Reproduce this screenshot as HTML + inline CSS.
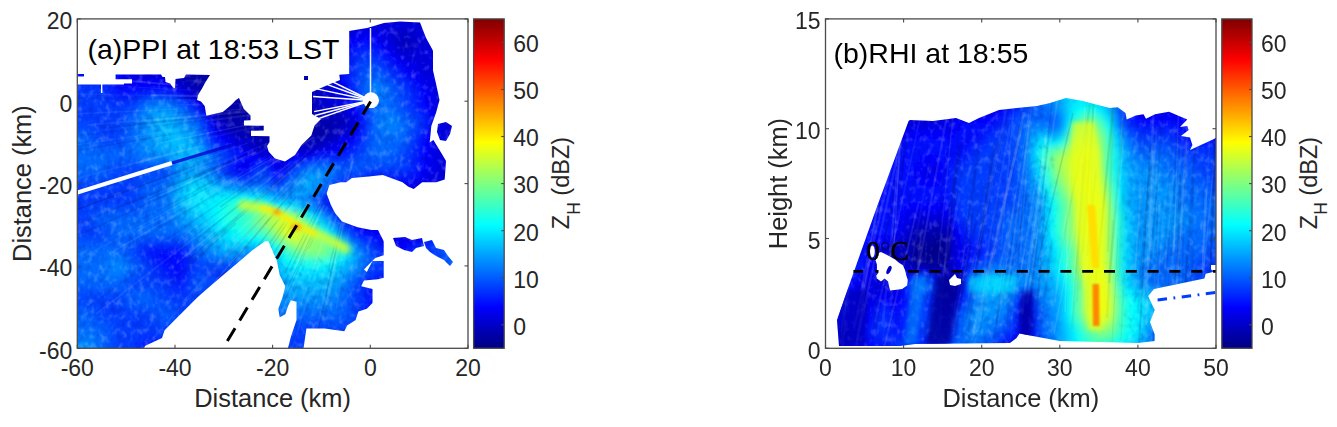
<!DOCTYPE html><html><head><meta charset="utf-8"><style>html,body{margin:0;padding:0;background:#fff;width:1337px;height:427px;overflow:hidden}svg{display:block}text{font-family:"Liberation Sans",sans-serif;fill:#262626}</style></head><body>
<svg width="1337" height="427" viewBox="0 0 1337 427">
<defs>
<linearGradient id="jet" x1="0" y1="1" x2="0" y2="0"><stop offset="0.0000" stop-color="#000080"/><stop offset="0.0156" stop-color="#00008f"/><stop offset="0.0312" stop-color="#00009f"/><stop offset="0.0469" stop-color="#0000af"/><stop offset="0.0625" stop-color="#0000bf"/><stop offset="0.0781" stop-color="#0000cf"/><stop offset="0.0938" stop-color="#0000df"/><stop offset="0.1094" stop-color="#0000ef"/><stop offset="0.1250" stop-color="#0000ff"/><stop offset="0.1406" stop-color="#0010ff"/><stop offset="0.1562" stop-color="#0020ff"/><stop offset="0.1719" stop-color="#0030ff"/><stop offset="0.1875" stop-color="#0040ff"/><stop offset="0.2031" stop-color="#0050ff"/><stop offset="0.2188" stop-color="#0060ff"/><stop offset="0.2344" stop-color="#0070ff"/><stop offset="0.2500" stop-color="#0080ff"/><stop offset="0.2656" stop-color="#008fff"/><stop offset="0.2812" stop-color="#009fff"/><stop offset="0.2969" stop-color="#00afff"/><stop offset="0.3125" stop-color="#00bfff"/><stop offset="0.3281" stop-color="#00cfff"/><stop offset="0.3438" stop-color="#00dfff"/><stop offset="0.3594" stop-color="#00efff"/><stop offset="0.3750" stop-color="#00ffff"/><stop offset="0.3906" stop-color="#10ffef"/><stop offset="0.4062" stop-color="#20ffdf"/><stop offset="0.4219" stop-color="#30ffcf"/><stop offset="0.4375" stop-color="#40ffbf"/><stop offset="0.4531" stop-color="#50ffaf"/><stop offset="0.4688" stop-color="#60ff9f"/><stop offset="0.4844" stop-color="#70ff8f"/><stop offset="0.5000" stop-color="#80ff80"/><stop offset="0.5156" stop-color="#8fff70"/><stop offset="0.5312" stop-color="#9fff60"/><stop offset="0.5469" stop-color="#afff50"/><stop offset="0.5625" stop-color="#bfff40"/><stop offset="0.5781" stop-color="#cfff30"/><stop offset="0.5938" stop-color="#dfff20"/><stop offset="0.6094" stop-color="#efff10"/><stop offset="0.6250" stop-color="#ffff00"/><stop offset="0.6406" stop-color="#ffef00"/><stop offset="0.6562" stop-color="#ffdf00"/><stop offset="0.6719" stop-color="#ffcf00"/><stop offset="0.6875" stop-color="#ffbf00"/><stop offset="0.7031" stop-color="#ffaf00"/><stop offset="0.7188" stop-color="#ff9f00"/><stop offset="0.7344" stop-color="#ff8f00"/><stop offset="0.7500" stop-color="#ff8000"/><stop offset="0.7656" stop-color="#ff7000"/><stop offset="0.7812" stop-color="#ff6000"/><stop offset="0.7969" stop-color="#ff5000"/><stop offset="0.8125" stop-color="#ff4000"/><stop offset="0.8281" stop-color="#ff3000"/><stop offset="0.8438" stop-color="#ff2000"/><stop offset="0.8594" stop-color="#ff1000"/><stop offset="0.8750" stop-color="#ff0000"/><stop offset="0.8906" stop-color="#ef0000"/><stop offset="0.9062" stop-color="#df0000"/><stop offset="0.9219" stop-color="#cf0000"/><stop offset="0.9375" stop-color="#bf0000"/><stop offset="0.9531" stop-color="#af0000"/><stop offset="0.9688" stop-color="#9f0000"/><stop offset="0.9844" stop-color="#8f0000"/><stop offset="1.0000" stop-color="#800000"/></linearGradient>
<filter id="gb" x="-5%" y="-5%" width="110%" height="110%"><feGaussianBlur stdDeviation="3"/></filter>
<filter id="b1" x="-50%" y="-50%" width="200%" height="200%"><feGaussianBlur stdDeviation="1"/></filter>
<filter id="b2" x="-50%" y="-50%" width="200%" height="200%"><feGaussianBlur stdDeviation="2"/></filter>
<filter id="b3" x="-50%" y="-50%" width="200%" height="200%"><feGaussianBlur stdDeviation="3"/></filter>
<filter id="b4" x="-50%" y="-50%" width="200%" height="200%"><feGaussianBlur stdDeviation="4"/></filter>
<filter id="b6" x="-50%" y="-50%" width="200%" height="200%"><feGaussianBlur stdDeviation="6"/></filter>
<filter id="b8" x="-50%" y="-50%" width="200%" height="200%"><feGaussianBlur stdDeviation="8"/></filter>
<filter id="b10" x="-50%" y="-50%" width="200%" height="200%"><feGaussianBlur stdDeviation="10"/></filter>
<filter id="nzw" x="0" y="0" width="100%" height="100%"><feTurbulence type="fractalNoise" baseFrequency="0.18 0.14" numOctaves="2" seed="5"/><feColorMatrix type="matrix" values="0 0 0 0 1  0 0 0 0 1  0 0 0 0 1  2.2 0 0 0 -1.15"/></filter>
<filter id="nzd" x="0" y="0" width="100%" height="100%"><feTurbulence type="fractalNoise" baseFrequency="0.18 0.14" numOctaves="2" seed="5"/><feColorMatrix type="matrix" values="0 0 0 0 0  0 0 0 0 0  0 0 0 0 0.25  -2.2 0 0 0 1.05"/></filter>
<clipPath id="axa"><rect x="77.3" y="18.9" width="390.7" height="329.4"/></clipPath>
<clipPath id="axb"><rect x="825.5" y="18.9" width="390.5" height="329.4"/></clipPath>
<clipPath id="ma"><polygon points="77.0,84.5 101.0,84.5 101.0,93.0 102.4,93.0 102.4,84.5 124.0,84.5 124.0,83.4 132.0,83.4 132.0,79.3 115.6,79.3 115.6,74.6 161.0,74.5 162.5,77.0 165.0,77.0 165.5,82.0 170.0,83.5 173.0,87.5 175.0,88.5 175.5,79.0 184.0,78.0 186.0,74.5 210.0,75.0 205.5,82.0 202.0,88.5 198.0,95.0 197.0,100.0 201.0,101.5 204.7,106.0 206.4,115.7 222.8,112.0 230.6,105.6 236.0,100.0 239.0,98.0 243.8,109.0 249.0,114.0 250.5,115.5 250.5,120.2 244.0,120.5 244.0,125.6 263.7,125.8 263.7,130.5 251.0,130.8 251.0,136.0 269.5,136.2 269.5,142.0 267.0,146.0 268.7,151.8 275.0,158.4 285.0,161.6 295.0,155.0 301.5,145.0 311.3,135.4 314.6,125.6 321.0,119.0 312.0,114.0 312.0,92.0 330.0,84.0 340.0,80.0 339.3,74.8 349.2,74.0 349.2,31.0 367.0,28.0 384.0,23.0 400.0,21.5 420.0,22.5 426.0,37.7 433.0,50.8 433.0,70.5 436.0,83.6 439.5,100.0 436.0,113.0 431.3,126.0 429.7,142.6 433.4,140.0 441.9,154.0 446.0,161.0 444.7,179.4 436.2,182.2 422.2,182.2 413.7,189.0 408.0,186.4 402.5,182.2 382.8,175.0 368.7,176.6 351.9,178.0 346.2,182.2 340.6,182.2 329.4,185.0 326.6,193.4 330.8,204.7 335.0,213.0 342.0,221.6 357.5,227.2 371.5,230.0 378.0,230.0 383.7,241.2 383.7,255.3 375.3,258.1 366.8,266.5 364.0,269.4 366.8,272.0 372.5,261.0 383.7,261.0 383.7,277.8 378.0,279.2 364.0,280.6 361.2,286.2 372.5,289.0 372.5,303.1 366.8,308.7 358.4,311.5 355.6,320.0 347.2,325.6 344.3,331.2 324.7,328.4 306.4,328.4 303.6,348.0 288.0,348.0 290.9,336.8 296.5,320.0 296.5,301.7 290.9,300.3 288.1,305.9 285.3,314.3 279.7,317.2 278.3,308.7 282.5,297.5 285.3,286.2 279.7,275.0 276.9,261.0 268.4,241.2 265.1,241.3 252.3,250.3 234.2,265.8 218.8,278.7 198.0,296.7 180.0,314.7 164.6,330.2 162.0,338.0 145.3,345.7 144.0,348.0 77.0,348.0"/><polygon points="77.0,74.0 84.0,74.0 84.0,76.5 77.0,76.5"/><polygon points="304.0,76.0 308.0,76.0 308.0,80.0 304.0,80.0"/><polygon points="393.0,238.0 405.0,237.0 412.0,240.0 422.0,238.0 424.0,246.0 416.0,248.0 412.0,252.0 404.0,250.0 396.0,246.0"/><polygon points="438.0,124.0 446.0,122.0 452.0,126.0 450.0,134.0 446.0,141.0 440.0,140.0 437.0,132.0"/><polygon points="424.0,242.0 432.0,240.0 436.0,248.0 444.0,250.0 448.0,256.0 453.0,262.0 450.0,266.0 444.0,260.0 436.0,256.0 430.0,252.0 426.0,248.0"/></clipPath>
<clipPath id="mb"><polygon points="908.6,121.0 910.0,120.0 933.0,121.0 956.0,118.0 969.0,123.0 979.0,118.0 999.0,110.0 1017.0,108.0 1037.0,106.0 1050.0,103.0 1066.0,98.0 1083.0,101.0 1096.0,104.6 1110.0,107.9 1117.7,107.2 1125.5,113.0 1126.7,119.5 1135.8,115.6 1143.5,114.3 1146.0,118.8 1155.0,114.3 1169.0,111.7 1179.6,116.3 1187.3,119.5 1180.0,127.0 1187.3,126.0 1188.6,130.0 1181.0,136.0 1190.0,137.5 1192.4,145.0 1190.0,150.0 1214.0,139.0 1217.0,137.0 1217.0,265.0 1211.0,265.0 1211.0,269.5 1215.0,271.4 1205.6,273.7 1204.4,278.4 1154.0,289.0 1148.2,296.0 1150.0,300.0 1154.7,310.0 1150.0,322.0 1154.7,334.6 1154.7,341.0 1138.0,343.0 1059.6,341.0 1019.5,333.4 1016.5,338.0 1010.0,343.0 915.0,344.0 900.0,346.0 839.0,346.0 837.0,320.0 847.4,290.0 875.8,210.0"/></clipPath>
<mask id="nma" maskUnits="userSpaceOnUse" x="0" y="0" width="1337" height="427"><rect x="0" y="0" width="1337" height="427" fill="#fff"/><polygon points="205.0,198.0 250.0,196.0 300.0,212.0 352.0,236.0 356.0,258.0 300.0,262.0 250.0,240.0 205.0,222.0" fill="#000" filter="url(#b6)"/></mask>
<mask id="nmb" maskUnits="userSpaceOnUse" x="0" y="0" width="1337" height="427"><rect x="0" y="0" width="1337" height="427" fill="#fff"/><polygon points="1050.0,100.0 1118.0,100.0 1126.0,345.0 1058.0,345.0" fill="#000" filter="url(#b6)"/></mask>
</defs>
<g clip-path="url(#axa)"><g clip-path="url(#ma)">
<defs><linearGradient id="ga0" gradientUnits="userSpaceOnUse" x1="81.5" y1="0" x2="473.5" y2="0"><stop offset="0" stop-color="#0000de"/><stop offset="0.02" stop-color="#0000de"/><stop offset="0.041" stop-color="#0000de"/><stop offset="0.061" stop-color="#0000de"/><stop offset="0.082" stop-color="#0000de"/><stop offset="0.102" stop-color="#0000de"/><stop offset="0.122" stop-color="#0000de"/><stop offset="0.143" stop-color="#0000de"/><stop offset="0.163" stop-color="#0000de"/><stop offset="0.184" stop-color="#0000de"/><stop offset="0.204" stop-color="#0000de"/><stop offset="0.224" stop-color="#0000de"/><stop offset="0.245" stop-color="#0000de"/><stop offset="0.265" stop-color="#0000de"/><stop offset="0.286" stop-color="#0000de"/><stop offset="0.306" stop-color="#0000de"/><stop offset="0.327" stop-color="#0000de"/><stop offset="0.347" stop-color="#0000de"/><stop offset="0.367" stop-color="#0000de"/><stop offset="0.388" stop-color="#0000de"/><stop offset="0.408" stop-color="#0000de"/><stop offset="0.429" stop-color="#0000de"/><stop offset="0.449" stop-color="#0000de"/><stop offset="0.469" stop-color="#0000de"/><stop offset="0.49" stop-color="#0000de"/><stop offset="0.51" stop-color="#0000de"/><stop offset="0.531" stop-color="#0000de"/><stop offset="0.551" stop-color="#0000de"/><stop offset="0.571" stop-color="#0000de"/><stop offset="0.592" stop-color="#0000de"/><stop offset="0.612" stop-color="#0000de"/><stop offset="0.633" stop-color="#0000de"/><stop offset="0.653" stop-color="#0000de"/><stop offset="0.673" stop-color="#0000de"/><stop offset="0.694" stop-color="#0000de"/><stop offset="0.714" stop-color="#0000de"/><stop offset="0.735" stop-color="#0000de"/><stop offset="0.755" stop-color="#0000de"/><stop offset="0.776" stop-color="#0000de"/><stop offset="0.796" stop-color="#0000de"/><stop offset="0.816" stop-color="#0000de"/><stop offset="0.837" stop-color="#0000de"/><stop offset="0.857" stop-color="#0000de"/><stop offset="0.878" stop-color="#0000de"/><stop offset="0.898" stop-color="#0000de"/><stop offset="0.918" stop-color="#0000de"/><stop offset="0.939" stop-color="#0000de"/><stop offset="0.959" stop-color="#0000de"/><stop offset="0.98" stop-color="#0000de"/><stop offset="1" stop-color="#0000de"/></linearGradient><linearGradient id="ga1" gradientUnits="userSpaceOnUse" x1="81.5" y1="0" x2="473.5" y2="0"><stop offset="0" stop-color="#0000de"/><stop offset="0.02" stop-color="#0000de"/><stop offset="0.041" stop-color="#0000de"/><stop offset="0.061" stop-color="#0000de"/><stop offset="0.082" stop-color="#0000de"/><stop offset="0.102" stop-color="#0000de"/><stop offset="0.122" stop-color="#0000de"/><stop offset="0.143" stop-color="#0000de"/><stop offset="0.163" stop-color="#0000de"/><stop offset="0.184" stop-color="#0000de"/><stop offset="0.204" stop-color="#0000de"/><stop offset="0.224" stop-color="#0000de"/><stop offset="0.245" stop-color="#0000de"/><stop offset="0.265" stop-color="#0000de"/><stop offset="0.286" stop-color="#0000de"/><stop offset="0.306" stop-color="#0000de"/><stop offset="0.327" stop-color="#0000de"/><stop offset="0.347" stop-color="#0000de"/><stop offset="0.367" stop-color="#0000de"/><stop offset="0.388" stop-color="#0000de"/><stop offset="0.408" stop-color="#0000de"/><stop offset="0.429" stop-color="#0000de"/><stop offset="0.449" stop-color="#0000de"/><stop offset="0.469" stop-color="#0000de"/><stop offset="0.49" stop-color="#0000de"/><stop offset="0.51" stop-color="#0000de"/><stop offset="0.531" stop-color="#0000de"/><stop offset="0.551" stop-color="#0000de"/><stop offset="0.571" stop-color="#0000de"/><stop offset="0.592" stop-color="#0000de"/><stop offset="0.612" stop-color="#0000de"/><stop offset="0.633" stop-color="#0000de"/><stop offset="0.653" stop-color="#0000de"/><stop offset="0.673" stop-color="#0000de"/><stop offset="0.694" stop-color="#0000de"/><stop offset="0.714" stop-color="#0000de"/><stop offset="0.735" stop-color="#0000de"/><stop offset="0.755" stop-color="#0000de"/><stop offset="0.776" stop-color="#0000de"/><stop offset="0.796" stop-color="#0000de"/><stop offset="0.816" stop-color="#0000de"/><stop offset="0.837" stop-color="#0000de"/><stop offset="0.857" stop-color="#0000de"/><stop offset="0.878" stop-color="#0000de"/><stop offset="0.898" stop-color="#0000de"/><stop offset="0.918" stop-color="#0000de"/><stop offset="0.939" stop-color="#0000de"/><stop offset="0.959" stop-color="#0000de"/><stop offset="0.98" stop-color="#0000de"/><stop offset="1" stop-color="#0000de"/></linearGradient><linearGradient id="ga2" gradientUnits="userSpaceOnUse" x1="81.5" y1="0" x2="473.5" y2="0"><stop offset="0" stop-color="#0000de"/><stop offset="0.02" stop-color="#0000de"/><stop offset="0.041" stop-color="#0000de"/><stop offset="0.061" stop-color="#0000de"/><stop offset="0.082" stop-color="#0000de"/><stop offset="0.102" stop-color="#0000de"/><stop offset="0.122" stop-color="#0000de"/><stop offset="0.143" stop-color="#0000de"/><stop offset="0.163" stop-color="#0000de"/><stop offset="0.184" stop-color="#0000de"/><stop offset="0.204" stop-color="#0000de"/><stop offset="0.224" stop-color="#0000de"/><stop offset="0.245" stop-color="#0000de"/><stop offset="0.265" stop-color="#0000de"/><stop offset="0.286" stop-color="#0000de"/><stop offset="0.306" stop-color="#0000de"/><stop offset="0.327" stop-color="#0000de"/><stop offset="0.347" stop-color="#0000de"/><stop offset="0.367" stop-color="#0000de"/><stop offset="0.388" stop-color="#0000de"/><stop offset="0.408" stop-color="#0000de"/><stop offset="0.429" stop-color="#0000de"/><stop offset="0.449" stop-color="#0000de"/><stop offset="0.469" stop-color="#0000de"/><stop offset="0.49" stop-color="#0000de"/><stop offset="0.51" stop-color="#0000de"/><stop offset="0.531" stop-color="#0000de"/><stop offset="0.551" stop-color="#0000de"/><stop offset="0.571" stop-color="#0000de"/><stop offset="0.592" stop-color="#0000de"/><stop offset="0.612" stop-color="#0000de"/><stop offset="0.633" stop-color="#0000de"/><stop offset="0.653" stop-color="#0000de"/><stop offset="0.673" stop-color="#0000de"/><stop offset="0.694" stop-color="#0000de"/><stop offset="0.714" stop-color="#0000de"/><stop offset="0.735" stop-color="#0000de"/><stop offset="0.755" stop-color="#0000de"/><stop offset="0.776" stop-color="#0000de"/><stop offset="0.796" stop-color="#0000de"/><stop offset="0.816" stop-color="#0000de"/><stop offset="0.837" stop-color="#0000de"/><stop offset="0.857" stop-color="#0000de"/><stop offset="0.878" stop-color="#0000de"/><stop offset="0.898" stop-color="#0000de"/><stop offset="0.918" stop-color="#0000de"/><stop offset="0.939" stop-color="#0000de"/><stop offset="0.959" stop-color="#0000de"/><stop offset="0.98" stop-color="#0000de"/><stop offset="1" stop-color="#0000de"/></linearGradient><linearGradient id="ga3" gradientUnits="userSpaceOnUse" x1="81.5" y1="0" x2="473.5" y2="0"><stop offset="0" stop-color="#0000de"/><stop offset="0.02" stop-color="#0000de"/><stop offset="0.041" stop-color="#0000de"/><stop offset="0.061" stop-color="#0000de"/><stop offset="0.082" stop-color="#0000de"/><stop offset="0.102" stop-color="#0000de"/><stop offset="0.122" stop-color="#0000de"/><stop offset="0.143" stop-color="#0000de"/><stop offset="0.163" stop-color="#0000de"/><stop offset="0.184" stop-color="#0000de"/><stop offset="0.204" stop-color="#0000de"/><stop offset="0.224" stop-color="#0000de"/><stop offset="0.245" stop-color="#0000de"/><stop offset="0.265" stop-color="#0000de"/><stop offset="0.286" stop-color="#0000de"/><stop offset="0.306" stop-color="#0000de"/><stop offset="0.327" stop-color="#0000de"/><stop offset="0.347" stop-color="#0000de"/><stop offset="0.367" stop-color="#0000de"/><stop offset="0.388" stop-color="#0000de"/><stop offset="0.408" stop-color="#0000de"/><stop offset="0.429" stop-color="#0000de"/><stop offset="0.449" stop-color="#0000de"/><stop offset="0.469" stop-color="#0000de"/><stop offset="0.49" stop-color="#0000de"/><stop offset="0.51" stop-color="#0000de"/><stop offset="0.531" stop-color="#0000de"/><stop offset="0.551" stop-color="#0000de"/><stop offset="0.571" stop-color="#0000de"/><stop offset="0.592" stop-color="#0000de"/><stop offset="0.612" stop-color="#0000de"/><stop offset="0.633" stop-color="#0000de"/><stop offset="0.653" stop-color="#0000de"/><stop offset="0.673" stop-color="#0000de"/><stop offset="0.694" stop-color="#0000de"/><stop offset="0.714" stop-color="#0000de"/><stop offset="0.735" stop-color="#0000de"/><stop offset="0.755" stop-color="#0000de"/><stop offset="0.776" stop-color="#0000de"/><stop offset="0.796" stop-color="#0000de"/><stop offset="0.816" stop-color="#0000de"/><stop offset="0.837" stop-color="#0000de"/><stop offset="0.857" stop-color="#0000de"/><stop offset="0.878" stop-color="#0000de"/><stop offset="0.898" stop-color="#0000de"/><stop offset="0.918" stop-color="#0000de"/><stop offset="0.939" stop-color="#0000de"/><stop offset="0.959" stop-color="#0000de"/><stop offset="0.98" stop-color="#0000de"/><stop offset="1" stop-color="#0000de"/></linearGradient><linearGradient id="ga4" gradientUnits="userSpaceOnUse" x1="81.5" y1="0" x2="473.5" y2="0"><stop offset="0" stop-color="#0000de"/><stop offset="0.02" stop-color="#0000de"/><stop offset="0.041" stop-color="#0000de"/><stop offset="0.061" stop-color="#0000de"/><stop offset="0.082" stop-color="#0000de"/><stop offset="0.102" stop-color="#0000de"/><stop offset="0.122" stop-color="#0000de"/><stop offset="0.143" stop-color="#0000de"/><stop offset="0.163" stop-color="#0000de"/><stop offset="0.184" stop-color="#0000de"/><stop offset="0.204" stop-color="#0000de"/><stop offset="0.224" stop-color="#0000de"/><stop offset="0.245" stop-color="#0000de"/><stop offset="0.265" stop-color="#0000de"/><stop offset="0.286" stop-color="#0000de"/><stop offset="0.306" stop-color="#0000de"/><stop offset="0.327" stop-color="#0000de"/><stop offset="0.347" stop-color="#0000de"/><stop offset="0.367" stop-color="#0000de"/><stop offset="0.388" stop-color="#0000de"/><stop offset="0.408" stop-color="#0000de"/><stop offset="0.429" stop-color="#0000de"/><stop offset="0.449" stop-color="#0000de"/><stop offset="0.469" stop-color="#0000de"/><stop offset="0.49" stop-color="#0000de"/><stop offset="0.51" stop-color="#0000de"/><stop offset="0.531" stop-color="#0000de"/><stop offset="0.551" stop-color="#0000de"/><stop offset="0.571" stop-color="#0000de"/><stop offset="0.592" stop-color="#0000de"/><stop offset="0.612" stop-color="#0000de"/><stop offset="0.633" stop-color="#0000de"/><stop offset="0.653" stop-color="#0000de"/><stop offset="0.673" stop-color="#0000de"/><stop offset="0.694" stop-color="#0000de"/><stop offset="0.714" stop-color="#0000de"/><stop offset="0.735" stop-color="#0000de"/><stop offset="0.755" stop-color="#0000de"/><stop offset="0.776" stop-color="#0000de"/><stop offset="0.796" stop-color="#0000de"/><stop offset="0.816" stop-color="#0000de"/><stop offset="0.837" stop-color="#0000de"/><stop offset="0.857" stop-color="#0000de"/><stop offset="0.878" stop-color="#0000de"/><stop offset="0.898" stop-color="#0000de"/><stop offset="0.918" stop-color="#0000de"/><stop offset="0.939" stop-color="#0000de"/><stop offset="0.959" stop-color="#0000de"/><stop offset="0.98" stop-color="#0000de"/><stop offset="1" stop-color="#0000de"/></linearGradient><linearGradient id="ga5" gradientUnits="userSpaceOnUse" x1="81.5" y1="0" x2="473.5" y2="0"><stop offset="0" stop-color="#0000de"/><stop offset="0.02" stop-color="#0000de"/><stop offset="0.041" stop-color="#0000de"/><stop offset="0.061" stop-color="#0000de"/><stop offset="0.082" stop-color="#0000de"/><stop offset="0.102" stop-color="#0000de"/><stop offset="0.122" stop-color="#0000de"/><stop offset="0.143" stop-color="#0000de"/><stop offset="0.163" stop-color="#0000de"/><stop offset="0.184" stop-color="#0000de"/><stop offset="0.204" stop-color="#0000de"/><stop offset="0.224" stop-color="#0000de"/><stop offset="0.245" stop-color="#0000de"/><stop offset="0.265" stop-color="#0000de"/><stop offset="0.286" stop-color="#0000de"/><stop offset="0.306" stop-color="#0000de"/><stop offset="0.327" stop-color="#0000de"/><stop offset="0.347" stop-color="#0000de"/><stop offset="0.367" stop-color="#0000de"/><stop offset="0.388" stop-color="#0000de"/><stop offset="0.408" stop-color="#0000de"/><stop offset="0.429" stop-color="#0000de"/><stop offset="0.449" stop-color="#0000de"/><stop offset="0.469" stop-color="#0000de"/><stop offset="0.49" stop-color="#0000de"/><stop offset="0.51" stop-color="#0000de"/><stop offset="0.531" stop-color="#0000de"/><stop offset="0.551" stop-color="#0000de"/><stop offset="0.571" stop-color="#0000de"/><stop offset="0.592" stop-color="#0000de"/><stop offset="0.612" stop-color="#0000de"/><stop offset="0.633" stop-color="#0000de"/><stop offset="0.653" stop-color="#0000de"/><stop offset="0.673" stop-color="#0000e1"/><stop offset="0.694" stop-color="#0000e6"/><stop offset="0.714" stop-color="#0000e9"/><stop offset="0.735" stop-color="#0000e9"/><stop offset="0.755" stop-color="#0000e6"/><stop offset="0.776" stop-color="#0000e1"/><stop offset="0.796" stop-color="#0000db"/><stop offset="0.816" stop-color="#0000d5"/><stop offset="0.837" stop-color="#0000d5"/><stop offset="0.857" stop-color="#0000db"/><stop offset="0.878" stop-color="#0000de"/><stop offset="0.898" stop-color="#0000de"/><stop offset="0.918" stop-color="#0000de"/><stop offset="0.939" stop-color="#0000de"/><stop offset="0.959" stop-color="#0000de"/><stop offset="0.98" stop-color="#0000de"/><stop offset="1" stop-color="#0000de"/></linearGradient><linearGradient id="ga6" gradientUnits="userSpaceOnUse" x1="81.5" y1="0" x2="473.5" y2="0"><stop offset="0" stop-color="#0000de"/><stop offset="0.02" stop-color="#0000de"/><stop offset="0.041" stop-color="#0000de"/><stop offset="0.061" stop-color="#0000de"/><stop offset="0.082" stop-color="#0000de"/><stop offset="0.102" stop-color="#0000de"/><stop offset="0.122" stop-color="#0000de"/><stop offset="0.143" stop-color="#0000de"/><stop offset="0.163" stop-color="#0000de"/><stop offset="0.184" stop-color="#0000de"/><stop offset="0.204" stop-color="#0000de"/><stop offset="0.224" stop-color="#0000de"/><stop offset="0.245" stop-color="#0000de"/><stop offset="0.265" stop-color="#0000de"/><stop offset="0.286" stop-color="#0000de"/><stop offset="0.306" stop-color="#0000de"/><stop offset="0.327" stop-color="#0000de"/><stop offset="0.347" stop-color="#0000de"/><stop offset="0.367" stop-color="#0000de"/><stop offset="0.388" stop-color="#0000de"/><stop offset="0.408" stop-color="#0000de"/><stop offset="0.429" stop-color="#0000de"/><stop offset="0.449" stop-color="#0000de"/><stop offset="0.469" stop-color="#0000de"/><stop offset="0.49" stop-color="#0000de"/><stop offset="0.51" stop-color="#0000de"/><stop offset="0.531" stop-color="#0000de"/><stop offset="0.551" stop-color="#0000de"/><stop offset="0.571" stop-color="#0000de"/><stop offset="0.592" stop-color="#0000de"/><stop offset="0.612" stop-color="#0000de"/><stop offset="0.633" stop-color="#0000de"/><stop offset="0.653" stop-color="#0000de"/><stop offset="0.673" stop-color="#0000e6"/><stop offset="0.694" stop-color="#0000f7"/><stop offset="0.714" stop-color="#0000ff"/><stop offset="0.735" stop-color="#0000ff"/><stop offset="0.755" stop-color="#0000f7"/><stop offset="0.776" stop-color="#0000e6"/><stop offset="0.796" stop-color="#0000d5"/><stop offset="0.816" stop-color="#0000c2"/><stop offset="0.837" stop-color="#0000c2"/><stop offset="0.857" stop-color="#0000d5"/><stop offset="0.878" stop-color="#0000de"/><stop offset="0.898" stop-color="#0000de"/><stop offset="0.918" stop-color="#0000de"/><stop offset="0.939" stop-color="#0000de"/><stop offset="0.959" stop-color="#0000de"/><stop offset="0.98" stop-color="#0000de"/><stop offset="1" stop-color="#0000de"/></linearGradient><linearGradient id="ga7" gradientUnits="userSpaceOnUse" x1="81.5" y1="0" x2="473.5" y2="0"><stop offset="0" stop-color="#0000de"/><stop offset="0.02" stop-color="#0000de"/><stop offset="0.041" stop-color="#0000de"/><stop offset="0.061" stop-color="#0000de"/><stop offset="0.082" stop-color="#0000de"/><stop offset="0.102" stop-color="#0000de"/><stop offset="0.122" stop-color="#0000de"/><stop offset="0.143" stop-color="#0000de"/><stop offset="0.163" stop-color="#0000de"/><stop offset="0.184" stop-color="#0000de"/><stop offset="0.204" stop-color="#0000de"/><stop offset="0.224" stop-color="#0000de"/><stop offset="0.245" stop-color="#0000de"/><stop offset="0.265" stop-color="#0000de"/><stop offset="0.286" stop-color="#0000de"/><stop offset="0.306" stop-color="#0000de"/><stop offset="0.327" stop-color="#0000de"/><stop offset="0.347" stop-color="#0000de"/><stop offset="0.367" stop-color="#0000de"/><stop offset="0.388" stop-color="#0000de"/><stop offset="0.408" stop-color="#0000de"/><stop offset="0.429" stop-color="#0000de"/><stop offset="0.449" stop-color="#0000de"/><stop offset="0.469" stop-color="#0000de"/><stop offset="0.49" stop-color="#0000de"/><stop offset="0.51" stop-color="#0000de"/><stop offset="0.531" stop-color="#0000de"/><stop offset="0.551" stop-color="#0000de"/><stop offset="0.571" stop-color="#0000de"/><stop offset="0.592" stop-color="#0000de"/><stop offset="0.612" stop-color="#0000de"/><stop offset="0.633" stop-color="#0000de"/><stop offset="0.653" stop-color="#0000de"/><stop offset="0.673" stop-color="#0000ec"/><stop offset="0.694" stop-color="#000aff"/><stop offset="0.714" stop-color="#0018ff"/><stop offset="0.735" stop-color="#0018ff"/><stop offset="0.755" stop-color="#000cff"/><stop offset="0.776" stop-color="#0000f5"/><stop offset="0.796" stop-color="#0000dd"/><stop offset="0.816" stop-color="#0000c4"/><stop offset="0.837" stop-color="#0000c2"/><stop offset="0.857" stop-color="#0000d5"/><stop offset="0.878" stop-color="#0000de"/><stop offset="0.898" stop-color="#0000de"/><stop offset="0.918" stop-color="#0000de"/><stop offset="0.939" stop-color="#0000de"/><stop offset="0.959" stop-color="#0000de"/><stop offset="0.98" stop-color="#0000de"/><stop offset="1" stop-color="#0000de"/></linearGradient><linearGradient id="ga8" gradientUnits="userSpaceOnUse" x1="81.5" y1="0" x2="473.5" y2="0"><stop offset="0" stop-color="#0000de"/><stop offset="0.02" stop-color="#0000de"/><stop offset="0.041" stop-color="#0000de"/><stop offset="0.061" stop-color="#0000de"/><stop offset="0.082" stop-color="#0000de"/><stop offset="0.102" stop-color="#0000de"/><stop offset="0.122" stop-color="#0000de"/><stop offset="0.143" stop-color="#0000de"/><stop offset="0.163" stop-color="#0000de"/><stop offset="0.184" stop-color="#0000de"/><stop offset="0.204" stop-color="#0000de"/><stop offset="0.224" stop-color="#0000de"/><stop offset="0.245" stop-color="#0000de"/><stop offset="0.265" stop-color="#0000de"/><stop offset="0.286" stop-color="#0000de"/><stop offset="0.306" stop-color="#0000de"/><stop offset="0.327" stop-color="#0000de"/><stop offset="0.347" stop-color="#0000de"/><stop offset="0.367" stop-color="#0000de"/><stop offset="0.388" stop-color="#0000de"/><stop offset="0.408" stop-color="#0000de"/><stop offset="0.429" stop-color="#0000de"/><stop offset="0.449" stop-color="#0000de"/><stop offset="0.469" stop-color="#0000de"/><stop offset="0.49" stop-color="#0000de"/><stop offset="0.51" stop-color="#0000de"/><stop offset="0.531" stop-color="#0000de"/><stop offset="0.551" stop-color="#0000de"/><stop offset="0.571" stop-color="#0000de"/><stop offset="0.592" stop-color="#0000de"/><stop offset="0.612" stop-color="#0000de"/><stop offset="0.633" stop-color="#0000de"/><stop offset="0.653" stop-color="#0000de"/><stop offset="0.673" stop-color="#0000f3"/><stop offset="0.694" stop-color="#001dff"/><stop offset="0.714" stop-color="#0031ff"/><stop offset="0.735" stop-color="#0031ff"/><stop offset="0.755" stop-color="#0025ff"/><stop offset="0.776" stop-color="#000cff"/><stop offset="0.796" stop-color="#0000f4"/><stop offset="0.816" stop-color="#0000dd"/><stop offset="0.837" stop-color="#0000d5"/><stop offset="0.857" stop-color="#0000db"/><stop offset="0.878" stop-color="#0000de"/><stop offset="0.898" stop-color="#0000de"/><stop offset="0.918" stop-color="#0000de"/><stop offset="0.939" stop-color="#0000de"/><stop offset="0.959" stop-color="#0000de"/><stop offset="0.98" stop-color="#0000de"/><stop offset="1" stop-color="#0000de"/></linearGradient><linearGradient id="ga9" gradientUnits="userSpaceOnUse" x1="81.5" y1="0" x2="473.5" y2="0"><stop offset="0" stop-color="#0000e9"/><stop offset="0.02" stop-color="#0000e9"/><stop offset="0.041" stop-color="#0000e9"/><stop offset="0.061" stop-color="#0000e9"/><stop offset="0.082" stop-color="#0000e9"/><stop offset="0.102" stop-color="#0000e6"/><stop offset="0.122" stop-color="#0000e1"/><stop offset="0.143" stop-color="#0000de"/><stop offset="0.163" stop-color="#0000de"/><stop offset="0.184" stop-color="#0000de"/><stop offset="0.204" stop-color="#0000de"/><stop offset="0.224" stop-color="#0000db"/><stop offset="0.245" stop-color="#0000d5"/><stop offset="0.265" stop-color="#0000d1"/><stop offset="0.286" stop-color="#0000d1"/><stop offset="0.306" stop-color="#0000d1"/><stop offset="0.327" stop-color="#0000d1"/><stop offset="0.347" stop-color="#0000d1"/><stop offset="0.367" stop-color="#0000d1"/><stop offset="0.388" stop-color="#0000d1"/><stop offset="0.408" stop-color="#0000d1"/><stop offset="0.429" stop-color="#0000d1"/><stop offset="0.449" stop-color="#0000d1"/><stop offset="0.469" stop-color="#0000d1"/><stop offset="0.49" stop-color="#0000d1"/><stop offset="0.51" stop-color="#0000d1"/><stop offset="0.531" stop-color="#0000d1"/><stop offset="0.551" stop-color="#0000d1"/><stop offset="0.571" stop-color="#0000d1"/><stop offset="0.592" stop-color="#0000d1"/><stop offset="0.612" stop-color="#0000d1"/><stop offset="0.633" stop-color="#0000d7"/><stop offset="0.653" stop-color="#0000e3"/><stop offset="0.673" stop-color="#0000fe"/><stop offset="0.694" stop-color="#0029ff"/><stop offset="0.714" stop-color="#0041ff"/><stop offset="0.735" stop-color="#0046ff"/><stop offset="0.755" stop-color="#003dff"/><stop offset="0.776" stop-color="#0024ff"/><stop offset="0.796" stop-color="#000cff"/><stop offset="0.816" stop-color="#0000f5"/><stop offset="0.837" stop-color="#0000e6"/><stop offset="0.857" stop-color="#0000e1"/><stop offset="0.878" stop-color="#0000de"/><stop offset="0.898" stop-color="#0000de"/><stop offset="0.918" stop-color="#0000de"/><stop offset="0.939" stop-color="#0000de"/><stop offset="0.959" stop-color="#0000de"/><stop offset="0.98" stop-color="#0000de"/><stop offset="1" stop-color="#0000de"/></linearGradient><linearGradient id="ga10" gradientUnits="userSpaceOnUse" x1="81.5" y1="0" x2="473.5" y2="0"><stop offset="0" stop-color="#0000ff"/><stop offset="0.02" stop-color="#0000ff"/><stop offset="0.041" stop-color="#0000ff"/><stop offset="0.061" stop-color="#0000ff"/><stop offset="0.082" stop-color="#0000ff"/><stop offset="0.102" stop-color="#0000f7"/><stop offset="0.122" stop-color="#0000e6"/><stop offset="0.143" stop-color="#0000de"/><stop offset="0.163" stop-color="#0000de"/><stop offset="0.184" stop-color="#0000de"/><stop offset="0.204" stop-color="#0000de"/><stop offset="0.224" stop-color="#0000d5"/><stop offset="0.245" stop-color="#0000c2"/><stop offset="0.265" stop-color="#0000b8"/><stop offset="0.286" stop-color="#0000b8"/><stop offset="0.306" stop-color="#0000b8"/><stop offset="0.327" stop-color="#0000b8"/><stop offset="0.347" stop-color="#0000b8"/><stop offset="0.367" stop-color="#0000b8"/><stop offset="0.388" stop-color="#0000b8"/><stop offset="0.408" stop-color="#0000b8"/><stop offset="0.429" stop-color="#0000b8"/><stop offset="0.449" stop-color="#0000b8"/><stop offset="0.469" stop-color="#0000b8"/><stop offset="0.49" stop-color="#0000b8"/><stop offset="0.51" stop-color="#0000b8"/><stop offset="0.531" stop-color="#0000b8"/><stop offset="0.551" stop-color="#0000b8"/><stop offset="0.571" stop-color="#0000b8"/><stop offset="0.592" stop-color="#0000b8"/><stop offset="0.612" stop-color="#0000b8"/><stop offset="0.633" stop-color="#0000ca"/><stop offset="0.653" stop-color="#0000ed"/><stop offset="0.673" stop-color="#000fff"/><stop offset="0.694" stop-color="#002eff"/><stop offset="0.714" stop-color="#0046ff"/><stop offset="0.735" stop-color="#0057ff"/><stop offset="0.755" stop-color="#0053ff"/><stop offset="0.776" stop-color="#003dff"/><stop offset="0.796" stop-color="#0025ff"/><stop offset="0.816" stop-color="#000cff"/><stop offset="0.837" stop-color="#0000f7"/><stop offset="0.857" stop-color="#0000e6"/><stop offset="0.878" stop-color="#0000de"/><stop offset="0.898" stop-color="#0000de"/><stop offset="0.918" stop-color="#0000de"/><stop offset="0.939" stop-color="#0000de"/><stop offset="0.959" stop-color="#0000de"/><stop offset="0.98" stop-color="#0000de"/><stop offset="1" stop-color="#0000de"/></linearGradient><linearGradient id="ga11" gradientUnits="userSpaceOnUse" x1="81.5" y1="0" x2="473.5" y2="0"><stop offset="0" stop-color="#0018ff"/><stop offset="0.02" stop-color="#0018ff"/><stop offset="0.041" stop-color="#0018ff"/><stop offset="0.061" stop-color="#0014ff"/><stop offset="0.082" stop-color="#000eff"/><stop offset="0.102" stop-color="#0003ff"/><stop offset="0.122" stop-color="#0000f1"/><stop offset="0.143" stop-color="#0000e9"/><stop offset="0.163" stop-color="#0000e9"/><stop offset="0.184" stop-color="#0000e9"/><stop offset="0.204" stop-color="#0000e9"/><stop offset="0.224" stop-color="#0000dd"/><stop offset="0.245" stop-color="#0000c4"/><stop offset="0.265" stop-color="#0000b5"/><stop offset="0.286" stop-color="#0000ae"/><stop offset="0.306" stop-color="#0000ab"/><stop offset="0.327" stop-color="#0000ab"/><stop offset="0.347" stop-color="#0000ab"/><stop offset="0.367" stop-color="#0000ab"/><stop offset="0.388" stop-color="#0000ab"/><stop offset="0.408" stop-color="#0000ab"/><stop offset="0.429" stop-color="#0000ab"/><stop offset="0.449" stop-color="#0000ab"/><stop offset="0.469" stop-color="#0000ab"/><stop offset="0.49" stop-color="#0000ab"/><stop offset="0.51" stop-color="#0000ab"/><stop offset="0.531" stop-color="#0000ab"/><stop offset="0.551" stop-color="#0000ab"/><stop offset="0.571" stop-color="#0000ab"/><stop offset="0.592" stop-color="#0000ae"/><stop offset="0.612" stop-color="#0000b5"/><stop offset="0.633" stop-color="#0000ca"/><stop offset="0.653" stop-color="#0000ed"/><stop offset="0.673" stop-color="#000fff"/><stop offset="0.694" stop-color="#002eff"/><stop offset="0.714" stop-color="#004cff"/><stop offset="0.735" stop-color="#0067ff"/><stop offset="0.755" stop-color="#006aff"/><stop offset="0.776" stop-color="#0054ff"/><stop offset="0.796" stop-color="#003dff"/><stop offset="0.816" stop-color="#0024ff"/><stop offset="0.837" stop-color="#000cff"/><stop offset="0.857" stop-color="#0000f5"/><stop offset="0.878" stop-color="#0000e6"/><stop offset="0.898" stop-color="#0000e1"/><stop offset="0.918" stop-color="#0000de"/><stop offset="0.939" stop-color="#0000de"/><stop offset="0.959" stop-color="#0000de"/><stop offset="0.98" stop-color="#0000de"/><stop offset="1" stop-color="#0000de"/></linearGradient><linearGradient id="ga12" gradientUnits="userSpaceOnUse" x1="81.5" y1="0" x2="473.5" y2="0"><stop offset="0" stop-color="#0031ff"/><stop offset="0.02" stop-color="#0031ff"/><stop offset="0.041" stop-color="#0031ff"/><stop offset="0.061" stop-color="#0028ff"/><stop offset="0.082" stop-color="#0014ff"/><stop offset="0.102" stop-color="#0008ff"/><stop offset="0.122" stop-color="#0003ff"/><stop offset="0.143" stop-color="#0000ff"/><stop offset="0.163" stop-color="#0000ff"/><stop offset="0.184" stop-color="#0000ff"/><stop offset="0.204" stop-color="#0000ff"/><stop offset="0.224" stop-color="#0000f4"/><stop offset="0.245" stop-color="#0000dd"/><stop offset="0.265" stop-color="#0000c8"/><stop offset="0.286" stop-color="#0000b5"/><stop offset="0.306" stop-color="#0000ab"/><stop offset="0.327" stop-color="#0000ab"/><stop offset="0.347" stop-color="#0000ab"/><stop offset="0.367" stop-color="#0000ab"/><stop offset="0.388" stop-color="#0000ab"/><stop offset="0.408" stop-color="#0000ab"/><stop offset="0.429" stop-color="#0000ab"/><stop offset="0.449" stop-color="#0000ab"/><stop offset="0.469" stop-color="#0000ab"/><stop offset="0.49" stop-color="#0000ab"/><stop offset="0.51" stop-color="#0000ab"/><stop offset="0.531" stop-color="#0000ab"/><stop offset="0.551" stop-color="#0000ab"/><stop offset="0.571" stop-color="#0000ab"/><stop offset="0.592" stop-color="#0000b5"/><stop offset="0.612" stop-color="#0000c8"/><stop offset="0.633" stop-color="#0000d7"/><stop offset="0.653" stop-color="#0000e3"/><stop offset="0.673" stop-color="#0000fe"/><stop offset="0.694" stop-color="#0029ff"/><stop offset="0.714" stop-color="#0051ff"/><stop offset="0.735" stop-color="#0077ff"/><stop offset="0.755" stop-color="#0080ff"/><stop offset="0.776" stop-color="#006aff"/><stop offset="0.796" stop-color="#0053ff"/><stop offset="0.816" stop-color="#003dff"/><stop offset="0.837" stop-color="#0025ff"/><stop offset="0.857" stop-color="#000cff"/><stop offset="0.878" stop-color="#0000f7"/><stop offset="0.898" stop-color="#0000e6"/><stop offset="0.918" stop-color="#0000de"/><stop offset="0.939" stop-color="#0000de"/><stop offset="0.959" stop-color="#0000de"/><stop offset="0.98" stop-color="#0000de"/><stop offset="1" stop-color="#0000de"/></linearGradient><linearGradient id="ga13" gradientUnits="userSpaceOnUse" x1="81.5" y1="0" x2="473.5" y2="0"><stop offset="0" stop-color="#003eff"/><stop offset="0.02" stop-color="#003eff"/><stop offset="0.041" stop-color="#003eff"/><stop offset="0.061" stop-color="#0034ff"/><stop offset="0.082" stop-color="#0021ff"/><stop offset="0.102" stop-color="#0018ff"/><stop offset="0.122" stop-color="#0018ff"/><stop offset="0.143" stop-color="#001dff"/><stop offset="0.163" stop-color="#0028ff"/><stop offset="0.184" stop-color="#002eff"/><stop offset="0.204" stop-color="#002eff"/><stop offset="0.224" stop-color="#0023ff"/><stop offset="0.245" stop-color="#000dff"/><stop offset="0.265" stop-color="#0000f1"/><stop offset="0.286" stop-color="#0000d2"/><stop offset="0.306" stop-color="#0000bd"/><stop offset="0.327" stop-color="#0000b1"/><stop offset="0.347" stop-color="#0000ab"/><stop offset="0.367" stop-color="#0000ab"/><stop offset="0.388" stop-color="#0000ab"/><stop offset="0.408" stop-color="#0000ab"/><stop offset="0.429" stop-color="#0000ab"/><stop offset="0.449" stop-color="#0000ab"/><stop offset="0.469" stop-color="#0000ab"/><stop offset="0.49" stop-color="#0000ab"/><stop offset="0.51" stop-color="#0000ab"/><stop offset="0.531" stop-color="#0000ab"/><stop offset="0.551" stop-color="#0000ab"/><stop offset="0.571" stop-color="#0000ab"/><stop offset="0.592" stop-color="#0000b8"/><stop offset="0.612" stop-color="#0000d1"/><stop offset="0.633" stop-color="#0000de"/><stop offset="0.653" stop-color="#0000de"/><stop offset="0.673" stop-color="#0000f3"/><stop offset="0.694" stop-color="#001dff"/><stop offset="0.714" stop-color="#0047ff"/><stop offset="0.735" stop-color="#0074ff"/><stop offset="0.755" stop-color="#0082ff"/><stop offset="0.776" stop-color="#0072ff"/><stop offset="0.796" stop-color="#005fff"/><stop offset="0.816" stop-color="#0049ff"/><stop offset="0.837" stop-color="#0031ff"/><stop offset="0.857" stop-color="#0018ff"/><stop offset="0.878" stop-color="#0000ff"/><stop offset="0.898" stop-color="#0000e9"/><stop offset="0.918" stop-color="#0000de"/><stop offset="0.939" stop-color="#0000de"/><stop offset="0.959" stop-color="#0000de"/><stop offset="0.98" stop-color="#0000de"/><stop offset="1" stop-color="#0000de"/></linearGradient><linearGradient id="ga14" gradientUnits="userSpaceOnUse" x1="81.5" y1="0" x2="473.5" y2="0"><stop offset="0" stop-color="#003eff"/><stop offset="0.02" stop-color="#003eff"/><stop offset="0.041" stop-color="#003eff"/><stop offset="0.061" stop-color="#003bff"/><stop offset="0.082" stop-color="#0034ff"/><stop offset="0.102" stop-color="#0031ff"/><stop offset="0.122" stop-color="#0031ff"/><stop offset="0.143" stop-color="#0042ff"/><stop offset="0.163" stop-color="#0062ff"/><stop offset="0.184" stop-color="#0073ff"/><stop offset="0.204" stop-color="#0073ff"/><stop offset="0.224" stop-color="#0068ff"/><stop offset="0.245" stop-color="#0052ff"/><stop offset="0.265" stop-color="#0032ff"/><stop offset="0.286" stop-color="#0008ff"/><stop offset="0.306" stop-color="#0000e0"/><stop offset="0.327" stop-color="#0000bd"/><stop offset="0.347" stop-color="#0000ab"/><stop offset="0.367" stop-color="#0000ab"/><stop offset="0.388" stop-color="#0000ab"/><stop offset="0.408" stop-color="#0000ab"/><stop offset="0.429" stop-color="#0000ab"/><stop offset="0.449" stop-color="#0000ab"/><stop offset="0.469" stop-color="#0000ab"/><stop offset="0.49" stop-color="#0000ab"/><stop offset="0.51" stop-color="#0000ab"/><stop offset="0.531" stop-color="#0000ab"/><stop offset="0.551" stop-color="#0000ab"/><stop offset="0.571" stop-color="#0000ab"/><stop offset="0.592" stop-color="#0000b8"/><stop offset="0.612" stop-color="#0000d1"/><stop offset="0.633" stop-color="#0000de"/><stop offset="0.653" stop-color="#0000de"/><stop offset="0.673" stop-color="#0000ec"/><stop offset="0.694" stop-color="#000aff"/><stop offset="0.714" stop-color="#002fff"/><stop offset="0.735" stop-color="#005dff"/><stop offset="0.755" stop-color="#0072ff"/><stop offset="0.776" stop-color="#006cff"/><stop offset="0.796" stop-color="#005fff"/><stop offset="0.816" stop-color="#0049ff"/><stop offset="0.837" stop-color="#0031ff"/><stop offset="0.857" stop-color="#0018ff"/><stop offset="0.878" stop-color="#0000ff"/><stop offset="0.898" stop-color="#0000e9"/><stop offset="0.918" stop-color="#0000de"/><stop offset="0.939" stop-color="#0000de"/><stop offset="0.959" stop-color="#0000de"/><stop offset="0.98" stop-color="#0000de"/><stop offset="1" stop-color="#0000de"/></linearGradient><linearGradient id="ga15" gradientUnits="userSpaceOnUse" x1="81.5" y1="0" x2="473.5" y2="0"><stop offset="0" stop-color="#003eff"/><stop offset="0.02" stop-color="#003eff"/><stop offset="0.041" stop-color="#003eff"/><stop offset="0.061" stop-color="#003eff"/><stop offset="0.082" stop-color="#003eff"/><stop offset="0.102" stop-color="#0041ff"/><stop offset="0.122" stop-color="#0046ff"/><stop offset="0.143" stop-color="#005cff"/><stop offset="0.163" stop-color="#0082ff"/><stop offset="0.184" stop-color="#0098ff"/><stop offset="0.204" stop-color="#009eff"/><stop offset="0.224" stop-color="#0095ff"/><stop offset="0.245" stop-color="#0080ff"/><stop offset="0.265" stop-color="#0060ff"/><stop offset="0.286" stop-color="#0037ff"/><stop offset="0.306" stop-color="#0008ff"/><stop offset="0.327" stop-color="#0000d2"/><stop offset="0.347" stop-color="#0000b5"/><stop offset="0.367" stop-color="#0000ae"/><stop offset="0.388" stop-color="#0000ab"/><stop offset="0.408" stop-color="#0000ab"/><stop offset="0.429" stop-color="#0000ab"/><stop offset="0.449" stop-color="#0000ab"/><stop offset="0.469" stop-color="#0000ab"/><stop offset="0.49" stop-color="#0000ab"/><stop offset="0.51" stop-color="#0000ab"/><stop offset="0.531" stop-color="#0000ab"/><stop offset="0.551" stop-color="#0000ab"/><stop offset="0.571" stop-color="#0000ab"/><stop offset="0.592" stop-color="#0000b5"/><stop offset="0.612" stop-color="#0000c8"/><stop offset="0.633" stop-color="#0000d1"/><stop offset="0.653" stop-color="#0000d1"/><stop offset="0.673" stop-color="#0000dd"/><stop offset="0.694" stop-color="#0000f4"/><stop offset="0.714" stop-color="#001aff"/><stop offset="0.735" stop-color="#004fff"/><stop offset="0.755" stop-color="#006cff"/><stop offset="0.776" stop-color="#0072ff"/><stop offset="0.796" stop-color="#006aff"/><stop offset="0.816" stop-color="#0054ff"/><stop offset="0.837" stop-color="#003dff"/><stop offset="0.857" stop-color="#0024ff"/><stop offset="0.878" stop-color="#000aff"/><stop offset="0.898" stop-color="#0000ec"/><stop offset="0.918" stop-color="#0000de"/><stop offset="0.939" stop-color="#0000de"/><stop offset="0.959" stop-color="#0000de"/><stop offset="0.98" stop-color="#0000de"/><stop offset="1" stop-color="#0000de"/></linearGradient><linearGradient id="ga16" gradientUnits="userSpaceOnUse" x1="81.5" y1="0" x2="473.5" y2="0"><stop offset="0" stop-color="#003eff"/><stop offset="0.02" stop-color="#003eff"/><stop offset="0.041" stop-color="#003eff"/><stop offset="0.061" stop-color="#003eff"/><stop offset="0.082" stop-color="#003eff"/><stop offset="0.102" stop-color="#0046ff"/><stop offset="0.122" stop-color="#0057ff"/><stop offset="0.143" stop-color="#006cff"/><stop offset="0.163" stop-color="#0088ff"/><stop offset="0.184" stop-color="#009eff"/><stop offset="0.204" stop-color="#00aeff"/><stop offset="0.224" stop-color="#00abff"/><stop offset="0.245" stop-color="#0095ff"/><stop offset="0.265" stop-color="#007cff"/><stop offset="0.286" stop-color="#0060ff"/><stop offset="0.306" stop-color="#0032ff"/><stop offset="0.327" stop-color="#0000f1"/><stop offset="0.347" stop-color="#0000c8"/><stop offset="0.367" stop-color="#0000b5"/><stop offset="0.388" stop-color="#0000ab"/><stop offset="0.408" stop-color="#0000ab"/><stop offset="0.429" stop-color="#0000ab"/><stop offset="0.449" stop-color="#0000ab"/><stop offset="0.469" stop-color="#0000ab"/><stop offset="0.49" stop-color="#0000ab"/><stop offset="0.51" stop-color="#0000ab"/><stop offset="0.531" stop-color="#0000ab"/><stop offset="0.551" stop-color="#0000ab"/><stop offset="0.571" stop-color="#0000ab"/><stop offset="0.592" stop-color="#0000ae"/><stop offset="0.612" stop-color="#0000b5"/><stop offset="0.633" stop-color="#0000b8"/><stop offset="0.653" stop-color="#0000b8"/><stop offset="0.673" stop-color="#0000c4"/><stop offset="0.694" stop-color="#0000dd"/><stop offset="0.714" stop-color="#000aff"/><stop offset="0.735" stop-color="#004aff"/><stop offset="0.755" stop-color="#0072ff"/><stop offset="0.776" stop-color="#0082ff"/><stop offset="0.796" stop-color="#0080ff"/><stop offset="0.816" stop-color="#006aff"/><stop offset="0.837" stop-color="#0053ff"/><stop offset="0.857" stop-color="#003dff"/><stop offset="0.878" stop-color="#001dff"/><stop offset="0.898" stop-color="#0000f3"/><stop offset="0.918" stop-color="#0000de"/><stop offset="0.939" stop-color="#0000de"/><stop offset="0.959" stop-color="#0000de"/><stop offset="0.98" stop-color="#0000de"/><stop offset="1" stop-color="#0000de"/></linearGradient><linearGradient id="ga17" gradientUnits="userSpaceOnUse" x1="81.5" y1="0" x2="473.5" y2="0"><stop offset="0" stop-color="#0049ff"/><stop offset="0.02" stop-color="#0046ff"/><stop offset="0.041" stop-color="#0041ff"/><stop offset="0.061" stop-color="#003eff"/><stop offset="0.082" stop-color="#003eff"/><stop offset="0.102" stop-color="#0049ff"/><stop offset="0.122" stop-color="#005fff"/><stop offset="0.143" stop-color="#0075ff"/><stop offset="0.163" stop-color="#008aff"/><stop offset="0.184" stop-color="#00a0ff"/><stop offset="0.204" stop-color="#00b6ff"/><stop offset="0.224" stop-color="#00b9ff"/><stop offset="0.245" stop-color="#00a8ff"/><stop offset="0.265" stop-color="#0095ff"/><stop offset="0.286" stop-color="#0080ff"/><stop offset="0.306" stop-color="#0052ff"/><stop offset="0.327" stop-color="#000dff"/><stop offset="0.347" stop-color="#0000dd"/><stop offset="0.367" stop-color="#0000c4"/><stop offset="0.388" stop-color="#0000b5"/><stop offset="0.408" stop-color="#0000ae"/><stop offset="0.429" stop-color="#0000ab"/><stop offset="0.449" stop-color="#0000ab"/><stop offset="0.469" stop-color="#0000ab"/><stop offset="0.49" stop-color="#0000ab"/><stop offset="0.51" stop-color="#0000ab"/><stop offset="0.531" stop-color="#0000ab"/><stop offset="0.551" stop-color="#0000ab"/><stop offset="0.571" stop-color="#0000ab"/><stop offset="0.592" stop-color="#0000ab"/><stop offset="0.612" stop-color="#0000ab"/><stop offset="0.633" stop-color="#0000ae"/><stop offset="0.653" stop-color="#0000b5"/><stop offset="0.673" stop-color="#0000c4"/><stop offset="0.694" stop-color="#0000dd"/><stop offset="0.714" stop-color="#000aff"/><stop offset="0.735" stop-color="#004aff"/><stop offset="0.755" stop-color="#0072ff"/><stop offset="0.776" stop-color="#0082ff"/><stop offset="0.796" stop-color="#0082ff"/><stop offset="0.816" stop-color="#0072ff"/><stop offset="0.837" stop-color="#005cff"/><stop offset="0.857" stop-color="#003fff"/><stop offset="0.878" stop-color="#001dff"/><stop offset="0.898" stop-color="#0000f3"/><stop offset="0.918" stop-color="#0000de"/><stop offset="0.939" stop-color="#0000de"/><stop offset="0.959" stop-color="#0000de"/><stop offset="0.98" stop-color="#0000de"/><stop offset="1" stop-color="#0000de"/></linearGradient><linearGradient id="ga18" gradientUnits="userSpaceOnUse" x1="81.5" y1="0" x2="473.5" y2="0"><stop offset="0" stop-color="#005fff"/><stop offset="0.02" stop-color="#0057ff"/><stop offset="0.041" stop-color="#0046ff"/><stop offset="0.061" stop-color="#003eff"/><stop offset="0.082" stop-color="#003eff"/><stop offset="0.102" stop-color="#0049ff"/><stop offset="0.122" stop-color="#005fff"/><stop offset="0.143" stop-color="#0075ff"/><stop offset="0.163" stop-color="#008aff"/><stop offset="0.184" stop-color="#00a0ff"/><stop offset="0.204" stop-color="#00b6ff"/><stop offset="0.224" stop-color="#00beff"/><stop offset="0.245" stop-color="#00b9ff"/><stop offset="0.265" stop-color="#00abff"/><stop offset="0.286" stop-color="#0095ff"/><stop offset="0.306" stop-color="#0068ff"/><stop offset="0.327" stop-color="#0023ff"/><stop offset="0.347" stop-color="#0000f4"/><stop offset="0.367" stop-color="#0000dd"/><stop offset="0.388" stop-color="#0000c8"/><stop offset="0.408" stop-color="#0000b5"/><stop offset="0.429" stop-color="#0000ab"/><stop offset="0.449" stop-color="#0000ab"/><stop offset="0.469" stop-color="#0000ab"/><stop offset="0.49" stop-color="#0000ab"/><stop offset="0.51" stop-color="#0000ab"/><stop offset="0.531" stop-color="#0000ab"/><stop offset="0.551" stop-color="#0000ab"/><stop offset="0.571" stop-color="#0000ab"/><stop offset="0.592" stop-color="#0000ab"/><stop offset="0.612" stop-color="#0000ab"/><stop offset="0.633" stop-color="#0000b5"/><stop offset="0.653" stop-color="#0000c8"/><stop offset="0.673" stop-color="#0000dd"/><stop offset="0.694" stop-color="#0000f4"/><stop offset="0.714" stop-color="#001aff"/><stop offset="0.735" stop-color="#004fff"/><stop offset="0.755" stop-color="#006cff"/><stop offset="0.776" stop-color="#0072ff"/><stop offset="0.796" stop-color="#0072ff"/><stop offset="0.816" stop-color="#006cff"/><stop offset="0.837" stop-color="#0055ff"/><stop offset="0.857" stop-color="#002cff"/><stop offset="0.878" stop-color="#000aff"/><stop offset="0.898" stop-color="#0000ec"/><stop offset="0.918" stop-color="#0000de"/><stop offset="0.939" stop-color="#0000de"/><stop offset="0.959" stop-color="#0000de"/><stop offset="0.98" stop-color="#0000de"/><stop offset="1" stop-color="#0000de"/></linearGradient><linearGradient id="ga19" gradientUnits="userSpaceOnUse" x1="81.5" y1="0" x2="473.5" y2="0"><stop offset="0" stop-color="#006aff"/><stop offset="0.02" stop-color="#0061ff"/><stop offset="0.041" stop-color="#0051ff"/><stop offset="0.061" stop-color="#0049ff"/><stop offset="0.082" stop-color="#0049ff"/><stop offset="0.102" stop-color="#0051ff"/><stop offset="0.122" stop-color="#0061ff"/><stop offset="0.143" stop-color="#0075ff"/><stop offset="0.163" stop-color="#008aff"/><stop offset="0.184" stop-color="#009eff"/><stop offset="0.204" stop-color="#00aeff"/><stop offset="0.224" stop-color="#00b9ff"/><stop offset="0.245" stop-color="#00beff"/><stop offset="0.265" stop-color="#00b9ff"/><stop offset="0.286" stop-color="#00a8ff"/><stop offset="0.306" stop-color="#0081ff"/><stop offset="0.327" stop-color="#0042ff"/><stop offset="0.347" stop-color="#0018ff"/><stop offset="0.367" stop-color="#0002ff"/><stop offset="0.388" stop-color="#0000e9"/><stop offset="0.408" stop-color="#0000d0"/><stop offset="0.429" stop-color="#0000c0"/><stop offset="0.449" stop-color="#0000bb"/><stop offset="0.469" stop-color="#0000b8"/><stop offset="0.49" stop-color="#0000b8"/><stop offset="0.51" stop-color="#0000b8"/><stop offset="0.531" stop-color="#0000b8"/><stop offset="0.551" stop-color="#0000b8"/><stop offset="0.571" stop-color="#0000b8"/><stop offset="0.592" stop-color="#0000bb"/><stop offset="0.612" stop-color="#0000c0"/><stop offset="0.633" stop-color="#0000cc"/><stop offset="0.653" stop-color="#0000e0"/><stop offset="0.673" stop-color="#0000f5"/><stop offset="0.694" stop-color="#000cff"/><stop offset="0.714" stop-color="#002cff"/><stop offset="0.735" stop-color="#0055ff"/><stop offset="0.755" stop-color="#006aff"/><stop offset="0.776" stop-color="#006aff"/><stop offset="0.796" stop-color="#0067ff"/><stop offset="0.816" stop-color="#0061ff"/><stop offset="0.837" stop-color="#004aff"/><stop offset="0.857" stop-color="#0020ff"/><stop offset="0.878" stop-color="#0000ff"/><stop offset="0.898" stop-color="#0000e9"/><stop offset="0.918" stop-color="#0000de"/><stop offset="0.939" stop-color="#0000de"/><stop offset="0.959" stop-color="#0000de"/><stop offset="0.98" stop-color="#0000de"/><stop offset="1" stop-color="#0000de"/></linearGradient><linearGradient id="ga20" gradientUnits="userSpaceOnUse" x1="81.5" y1="0" x2="473.5" y2="0"><stop offset="0" stop-color="#006aff"/><stop offset="0.02" stop-color="#0067ff"/><stop offset="0.041" stop-color="#0061ff"/><stop offset="0.061" stop-color="#005fff"/><stop offset="0.082" stop-color="#005fff"/><stop offset="0.102" stop-color="#0061ff"/><stop offset="0.122" stop-color="#0067ff"/><stop offset="0.143" stop-color="#0075ff"/><stop offset="0.163" stop-color="#008aff"/><stop offset="0.184" stop-color="#0098ff"/><stop offset="0.204" stop-color="#009eff"/><stop offset="0.224" stop-color="#00a8ff"/><stop offset="0.245" stop-color="#00b9ff"/><stop offset="0.265" stop-color="#00beff"/><stop offset="0.286" stop-color="#00b9ff"/><stop offset="0.306" stop-color="#009dff"/><stop offset="0.327" stop-color="#006bff"/><stop offset="0.347" stop-color="#0047ff"/><stop offset="0.367" stop-color="#0031ff"/><stop offset="0.388" stop-color="#001aff"/><stop offset="0.408" stop-color="#0000ff"/><stop offset="0.429" stop-color="#0000ea"/><stop offset="0.449" stop-color="#0000da"/><stop offset="0.469" stop-color="#0000d1"/><stop offset="0.49" stop-color="#0000d1"/><stop offset="0.51" stop-color="#0000d1"/><stop offset="0.531" stop-color="#0000d1"/><stop offset="0.551" stop-color="#0000d1"/><stop offset="0.571" stop-color="#0000d1"/><stop offset="0.592" stop-color="#0000da"/><stop offset="0.612" stop-color="#0000ea"/><stop offset="0.633" stop-color="#0000f5"/><stop offset="0.653" stop-color="#0000fc"/><stop offset="0.673" stop-color="#000cff"/><stop offset="0.694" stop-color="#0025ff"/><stop offset="0.714" stop-color="#003fff"/><stop offset="0.735" stop-color="#005cff"/><stop offset="0.755" stop-color="#006aff"/><stop offset="0.776" stop-color="#006aff"/><stop offset="0.796" stop-color="#0061ff"/><stop offset="0.816" stop-color="#0051ff"/><stop offset="0.837" stop-color="#0039ff"/><stop offset="0.857" stop-color="#001aff"/><stop offset="0.878" stop-color="#0000ff"/><stop offset="0.898" stop-color="#0000e9"/><stop offset="0.918" stop-color="#0000de"/><stop offset="0.939" stop-color="#0000de"/><stop offset="0.959" stop-color="#0000de"/><stop offset="0.98" stop-color="#0000de"/><stop offset="1" stop-color="#0000de"/></linearGradient><linearGradient id="ga21" gradientUnits="userSpaceOnUse" x1="81.5" y1="0" x2="473.5" y2="0"><stop offset="0" stop-color="#006aff"/><stop offset="0.02" stop-color="#006aff"/><stop offset="0.041" stop-color="#006aff"/><stop offset="0.061" stop-color="#0067ff"/><stop offset="0.082" stop-color="#0061ff"/><stop offset="0.102" stop-color="#005fff"/><stop offset="0.122" stop-color="#005fff"/><stop offset="0.143" stop-color="#0067ff"/><stop offset="0.163" stop-color="#0077ff"/><stop offset="0.184" stop-color="#0080ff"/><stop offset="0.204" stop-color="#0080ff"/><stop offset="0.224" stop-color="#008dff"/><stop offset="0.245" stop-color="#00a8ff"/><stop offset="0.265" stop-color="#00b6ff"/><stop offset="0.286" stop-color="#00b6ff"/><stop offset="0.306" stop-color="#00a3ff"/><stop offset="0.327" stop-color="#007dff"/><stop offset="0.347" stop-color="#005cff"/><stop offset="0.367" stop-color="#003fff"/><stop offset="0.388" stop-color="#0025ff"/><stop offset="0.408" stop-color="#000cff"/><stop offset="0.429" stop-color="#0000ff"/><stop offset="0.449" stop-color="#0001ff"/><stop offset="0.469" stop-color="#0000f8"/><stop offset="0.49" stop-color="#0000e7"/><stop offset="0.51" stop-color="#0000e4"/><stop offset="0.531" stop-color="#0000f0"/><stop offset="0.551" stop-color="#0000fb"/><stop offset="0.571" stop-color="#0007ff"/><stop offset="0.592" stop-color="#0015ff"/><stop offset="0.612" stop-color="#0025ff"/><stop offset="0.633" stop-color="#002bff"/><stop offset="0.653" stop-color="#0025ff"/><stop offset="0.673" stop-color="#002cff"/><stop offset="0.694" stop-color="#003fff"/><stop offset="0.714" stop-color="#004eff"/><stop offset="0.735" stop-color="#0059ff"/><stop offset="0.755" stop-color="#005fff"/><stop offset="0.776" stop-color="#005fff"/><stop offset="0.796" stop-color="#0057ff"/><stop offset="0.816" stop-color="#0046ff"/><stop offset="0.837" stop-color="#0031ff"/><stop offset="0.857" stop-color="#0018ff"/><stop offset="0.878" stop-color="#0000ff"/><stop offset="0.898" stop-color="#0000e9"/><stop offset="0.918" stop-color="#0000de"/><stop offset="0.939" stop-color="#0000de"/><stop offset="0.959" stop-color="#0000de"/><stop offset="0.98" stop-color="#0000de"/><stop offset="1" stop-color="#0000de"/></linearGradient><linearGradient id="ga22" gradientUnits="userSpaceOnUse" x1="81.5" y1="0" x2="473.5" y2="0"><stop offset="0" stop-color="#006aff"/><stop offset="0.02" stop-color="#006aff"/><stop offset="0.041" stop-color="#006aff"/><stop offset="0.061" stop-color="#0061ff"/><stop offset="0.082" stop-color="#0051ff"/><stop offset="0.102" stop-color="#0049ff"/><stop offset="0.122" stop-color="#0049ff"/><stop offset="0.143" stop-color="#004cff"/><stop offset="0.163" stop-color="#0051ff"/><stop offset="0.184" stop-color="#0054ff"/><stop offset="0.204" stop-color="#0054ff"/><stop offset="0.224" stop-color="#0067ff"/><stop offset="0.245" stop-color="#008dff"/><stop offset="0.265" stop-color="#00a0ff"/><stop offset="0.286" stop-color="#00a0ff"/><stop offset="0.306" stop-color="#0093ff"/><stop offset="0.327" stop-color="#0077ff"/><stop offset="0.347" stop-color="#0055ff"/><stop offset="0.367" stop-color="#002cff"/><stop offset="0.388" stop-color="#000cff"/><stop offset="0.408" stop-color="#0000f5"/><stop offset="0.429" stop-color="#0001ff"/><stop offset="0.449" stop-color="#0030ff"/><stop offset="0.469" stop-color="#002dff"/><stop offset="0.49" stop-color="#0000f8"/><stop offset="0.51" stop-color="#0000f0"/><stop offset="0.531" stop-color="#0014ff"/><stop offset="0.551" stop-color="#0037ff"/><stop offset="0.571" stop-color="#0057ff"/><stop offset="0.592" stop-color="#006bff"/><stop offset="0.612" stop-color="#0070ff"/><stop offset="0.633" stop-color="#006bff"/><stop offset="0.653" stop-color="#005aff"/><stop offset="0.673" stop-color="#0055ff"/><stop offset="0.694" stop-color="#005cff"/><stop offset="0.714" stop-color="#0059ff"/><stop offset="0.735" stop-color="#004eff"/><stop offset="0.755" stop-color="#0049ff"/><stop offset="0.776" stop-color="#0049ff"/><stop offset="0.796" stop-color="#0046ff"/><stop offset="0.816" stop-color="#0041ff"/><stop offset="0.837" stop-color="#0031ff"/><stop offset="0.857" stop-color="#0018ff"/><stop offset="0.878" stop-color="#0000ff"/><stop offset="0.898" stop-color="#0000e9"/><stop offset="0.918" stop-color="#0000de"/><stop offset="0.939" stop-color="#0000de"/><stop offset="0.959" stop-color="#0000de"/><stop offset="0.98" stop-color="#0000de"/><stop offset="1" stop-color="#0000de"/></linearGradient><linearGradient id="ga23" gradientUnits="userSpaceOnUse" x1="81.5" y1="0" x2="473.5" y2="0"><stop offset="0" stop-color="#005fff"/><stop offset="0.02" stop-color="#005fff"/><stop offset="0.041" stop-color="#005fff"/><stop offset="0.061" stop-color="#0057ff"/><stop offset="0.082" stop-color="#0046ff"/><stop offset="0.102" stop-color="#003eff"/><stop offset="0.122" stop-color="#003eff"/><stop offset="0.143" stop-color="#0041ff"/><stop offset="0.163" stop-color="#0046ff"/><stop offset="0.184" stop-color="#0049ff"/><stop offset="0.204" stop-color="#0049ff"/><stop offset="0.224" stop-color="#005fff"/><stop offset="0.245" stop-color="#008aff"/><stop offset="0.265" stop-color="#00a3ff"/><stop offset="0.286" stop-color="#00a8ff"/><stop offset="0.306" stop-color="#00a0ff"/><stop offset="0.327" stop-color="#008aff"/><stop offset="0.347" stop-color="#006bff"/><stop offset="0.367" stop-color="#0042ff"/><stop offset="0.388" stop-color="#0023ff"/><stop offset="0.408" stop-color="#000dff"/><stop offset="0.429" stop-color="#001cff"/><stop offset="0.449" stop-color="#0050ff"/><stop offset="0.469" stop-color="#004dff"/><stop offset="0.49" stop-color="#0014ff"/><stop offset="0.51" stop-color="#000eff"/><stop offset="0.531" stop-color="#003dff"/><stop offset="0.551" stop-color="#0067ff"/><stop offset="0.571" stop-color="#008dff"/><stop offset="0.592" stop-color="#009bff"/><stop offset="0.612" stop-color="#0090ff"/><stop offset="0.633" stop-color="#007cff"/><stop offset="0.653" stop-color="#0060ff"/><stop offset="0.673" stop-color="#004fff"/><stop offset="0.694" stop-color="#004aff"/><stop offset="0.714" stop-color="#003fff"/><stop offset="0.735" stop-color="#002eff"/><stop offset="0.755" stop-color="#0026ff"/><stop offset="0.776" stop-color="#0026ff"/><stop offset="0.796" stop-color="#0026ff"/><stop offset="0.816" stop-color="#0026ff"/><stop offset="0.837" stop-color="#001dff"/><stop offset="0.857" stop-color="#000aff"/><stop offset="0.878" stop-color="#0000f7"/><stop offset="0.898" stop-color="#0000e6"/><stop offset="0.918" stop-color="#0000de"/><stop offset="0.939" stop-color="#0000de"/><stop offset="0.959" stop-color="#0000de"/><stop offset="0.98" stop-color="#0000de"/><stop offset="1" stop-color="#0000de"/></linearGradient><linearGradient id="ga24" gradientUnits="userSpaceOnUse" x1="81.5" y1="0" x2="473.5" y2="0"><stop offset="0" stop-color="#0049ff"/><stop offset="0.02" stop-color="#0049ff"/><stop offset="0.041" stop-color="#0049ff"/><stop offset="0.061" stop-color="#0046ff"/><stop offset="0.082" stop-color="#0041ff"/><stop offset="0.102" stop-color="#003eff"/><stop offset="0.122" stop-color="#003eff"/><stop offset="0.143" stop-color="#0046ff"/><stop offset="0.163" stop-color="#0057ff"/><stop offset="0.184" stop-color="#005fff"/><stop offset="0.204" stop-color="#005fff"/><stop offset="0.224" stop-color="#0075ff"/><stop offset="0.245" stop-color="#00a0ff"/><stop offset="0.265" stop-color="#00beff"/><stop offset="0.286" stop-color="#00cfff"/><stop offset="0.306" stop-color="#00ccff"/><stop offset="0.327" stop-color="#00b6ff"/><stop offset="0.347" stop-color="#009dff"/><stop offset="0.367" stop-color="#0081ff"/><stop offset="0.388" stop-color="#0068ff"/><stop offset="0.408" stop-color="#0052ff"/><stop offset="0.429" stop-color="#0050ff"/><stop offset="0.449" stop-color="#0061ff"/><stop offset="0.469" stop-color="#0059ff"/><stop offset="0.49" stop-color="#0037ff"/><stop offset="0.51" stop-color="#003dff"/><stop offset="0.531" stop-color="#0069ff"/><stop offset="0.551" stop-color="#008dff"/><stop offset="0.571" stop-color="#00a8ff"/><stop offset="0.592" stop-color="#00a6ff"/><stop offset="0.612" stop-color="#0085ff"/><stop offset="0.633" stop-color="#0060ff"/><stop offset="0.653" stop-color="#0037ff"/><stop offset="0.673" stop-color="#001aff"/><stop offset="0.694" stop-color="#000aff"/><stop offset="0.714" stop-color="#0000fe"/><stop offset="0.735" stop-color="#0000f9"/><stop offset="0.755" stop-color="#0000f6"/><stop offset="0.776" stop-color="#0000f6"/><stop offset="0.796" stop-color="#0000f6"/><stop offset="0.816" stop-color="#0000f6"/><stop offset="0.837" stop-color="#0000f3"/><stop offset="0.857" stop-color="#0000ec"/><stop offset="0.878" stop-color="#0000e6"/><stop offset="0.898" stop-color="#0000e1"/><stop offset="0.918" stop-color="#0000de"/><stop offset="0.939" stop-color="#0000de"/><stop offset="0.959" stop-color="#0000de"/><stop offset="0.98" stop-color="#0000de"/><stop offset="1" stop-color="#0000de"/></linearGradient><linearGradient id="ga25" gradientUnits="userSpaceOnUse" x1="81.5" y1="0" x2="473.5" y2="0"><stop offset="0" stop-color="#003eff"/><stop offset="0.02" stop-color="#003eff"/><stop offset="0.041" stop-color="#003eff"/><stop offset="0.061" stop-color="#003eff"/><stop offset="0.082" stop-color="#003eff"/><stop offset="0.102" stop-color="#003eff"/><stop offset="0.122" stop-color="#003eff"/><stop offset="0.143" stop-color="#0049ff"/><stop offset="0.163" stop-color="#005fff"/><stop offset="0.184" stop-color="#006aff"/><stop offset="0.204" stop-color="#006aff"/><stop offset="0.224" stop-color="#0080ff"/><stop offset="0.245" stop-color="#00abff"/><stop offset="0.265" stop-color="#00ccff"/><stop offset="0.286" stop-color="#00e2ff"/><stop offset="0.306" stop-color="#00e5ff"/><stop offset="0.327" stop-color="#00d4ff"/><stop offset="0.347" stop-color="#00c7ff"/><stop offset="0.367" stop-color="#00beff"/><stop offset="0.388" stop-color="#00b2ff"/><stop offset="0.408" stop-color="#00a1ff"/><stop offset="0.429" stop-color="#0099ff"/><stop offset="0.449" stop-color="#0099ff"/><stop offset="0.469" stop-color="#008aff"/><stop offset="0.49" stop-color="#006dff"/><stop offset="0.51" stop-color="#006cff"/><stop offset="0.531" stop-color="#0088ff"/><stop offset="0.551" stop-color="#009bff"/><stop offset="0.571" stop-color="#00a6ff"/><stop offset="0.592" stop-color="#0095ff"/><stop offset="0.612" stop-color="#0068ff"/><stop offset="0.633" stop-color="#003dff"/><stop offset="0.653" stop-color="#0014ff"/><stop offset="0.673" stop-color="#0000f7"/><stop offset="0.694" stop-color="#0000e6"/><stop offset="0.714" stop-color="#0000de"/><stop offset="0.735" stop-color="#0000de"/><stop offset="0.755" stop-color="#0000de"/><stop offset="0.776" stop-color="#0000de"/><stop offset="0.796" stop-color="#0000de"/><stop offset="0.816" stop-color="#0000de"/><stop offset="0.837" stop-color="#0000de"/><stop offset="0.857" stop-color="#0000de"/><stop offset="0.878" stop-color="#0000de"/><stop offset="0.898" stop-color="#0000de"/><stop offset="0.918" stop-color="#0000de"/><stop offset="0.939" stop-color="#0000de"/><stop offset="0.959" stop-color="#0000de"/><stop offset="0.98" stop-color="#0000de"/><stop offset="1" stop-color="#0000de"/></linearGradient><linearGradient id="ga26" gradientUnits="userSpaceOnUse" x1="81.5" y1="0" x2="473.5" y2="0"><stop offset="0" stop-color="#003eff"/><stop offset="0.02" stop-color="#003eff"/><stop offset="0.041" stop-color="#003eff"/><stop offset="0.061" stop-color="#003eff"/><stop offset="0.082" stop-color="#003eff"/><stop offset="0.102" stop-color="#003eff"/><stop offset="0.122" stop-color="#003eff"/><stop offset="0.143" stop-color="#0049ff"/><stop offset="0.163" stop-color="#005fff"/><stop offset="0.184" stop-color="#006aff"/><stop offset="0.204" stop-color="#006aff"/><stop offset="0.224" stop-color="#0080ff"/><stop offset="0.245" stop-color="#00abff"/><stop offset="0.265" stop-color="#00ccff"/><stop offset="0.286" stop-color="#00e2ff"/><stop offset="0.306" stop-color="#00eaff"/><stop offset="0.327" stop-color="#00e5ff"/><stop offset="0.347" stop-color="#00eaff"/><stop offset="0.367" stop-color="#00faff"/><stop offset="0.388" stop-color="#01fffe"/><stop offset="0.408" stop-color="#00faff"/><stop offset="0.429" stop-color="#00f8ff"/><stop offset="0.449" stop-color="#00f8ff"/><stop offset="0.469" stop-color="#00e2ff"/><stop offset="0.49" stop-color="#00b6ff"/><stop offset="0.51" stop-color="#009eff"/><stop offset="0.531" stop-color="#0098ff"/><stop offset="0.551" stop-color="#0090ff"/><stop offset="0.571" stop-color="#0085ff"/><stop offset="0.592" stop-color="#0068ff"/><stop offset="0.612" stop-color="#003aff"/><stop offset="0.633" stop-color="#0014ff"/><stop offset="0.653" stop-color="#0000f7"/><stop offset="0.673" stop-color="#0000e6"/><stop offset="0.694" stop-color="#0000e1"/><stop offset="0.714" stop-color="#0000de"/><stop offset="0.735" stop-color="#0000de"/><stop offset="0.755" stop-color="#0000de"/><stop offset="0.776" stop-color="#0000de"/><stop offset="0.796" stop-color="#0000de"/><stop offset="0.816" stop-color="#0000de"/><stop offset="0.837" stop-color="#0000de"/><stop offset="0.857" stop-color="#0000de"/><stop offset="0.878" stop-color="#0000de"/><stop offset="0.898" stop-color="#0000de"/><stop offset="0.918" stop-color="#0000de"/><stop offset="0.939" stop-color="#0000de"/><stop offset="0.959" stop-color="#0000de"/><stop offset="0.98" stop-color="#0000de"/><stop offset="1" stop-color="#0000de"/></linearGradient><linearGradient id="ga27" gradientUnits="userSpaceOnUse" x1="81.5" y1="0" x2="473.5" y2="0"><stop offset="0" stop-color="#003eff"/><stop offset="0.02" stop-color="#0041ff"/><stop offset="0.041" stop-color="#0046ff"/><stop offset="0.061" stop-color="#0049ff"/><stop offset="0.082" stop-color="#0049ff"/><stop offset="0.102" stop-color="#0049ff"/><stop offset="0.122" stop-color="#0049ff"/><stop offset="0.143" stop-color="#0051ff"/><stop offset="0.163" stop-color="#0061ff"/><stop offset="0.184" stop-color="#006aff"/><stop offset="0.204" stop-color="#006aff"/><stop offset="0.224" stop-color="#007dff"/><stop offset="0.245" stop-color="#00a3ff"/><stop offset="0.265" stop-color="#00c1ff"/><stop offset="0.286" stop-color="#00d7ff"/><stop offset="0.306" stop-color="#00e5ff"/><stop offset="0.327" stop-color="#00eaff"/><stop offset="0.347" stop-color="#00fbff"/><stop offset="0.367" stop-color="#1affe5"/><stop offset="0.388" stop-color="#28ffd7"/><stop offset="0.408" stop-color="#28ffd7"/><stop offset="0.429" stop-color="#2fffd0"/><stop offset="0.449" stop-color="#3effc1"/><stop offset="0.469" stop-color="#36ffc9"/><stop offset="0.49" stop-color="#17ffe8"/><stop offset="0.51" stop-color="#00feff"/><stop offset="0.531" stop-color="#00eeff"/><stop offset="0.551" stop-color="#00d2ff"/><stop offset="0.571" stop-color="#00acff"/><stop offset="0.592" stop-color="#007eff"/><stop offset="0.612" stop-color="#0048ff"/><stop offset="0.633" stop-color="#001dff"/><stop offset="0.653" stop-color="#0000fa"/><stop offset="0.673" stop-color="#0000e6"/><stop offset="0.694" stop-color="#0000e1"/><stop offset="0.714" stop-color="#0000de"/><stop offset="0.735" stop-color="#0000de"/><stop offset="0.755" stop-color="#0000de"/><stop offset="0.776" stop-color="#0000de"/><stop offset="0.796" stop-color="#0000de"/><stop offset="0.816" stop-color="#0000de"/><stop offset="0.837" stop-color="#0000de"/><stop offset="0.857" stop-color="#0000de"/><stop offset="0.878" stop-color="#0000de"/><stop offset="0.898" stop-color="#0000de"/><stop offset="0.918" stop-color="#0000de"/><stop offset="0.939" stop-color="#0000de"/><stop offset="0.959" stop-color="#0000de"/><stop offset="0.98" stop-color="#0000de"/><stop offset="1" stop-color="#0000de"/></linearGradient><linearGradient id="ga28" gradientUnits="userSpaceOnUse" x1="81.5" y1="0" x2="473.5" y2="0"><stop offset="0" stop-color="#003eff"/><stop offset="0.02" stop-color="#0046ff"/><stop offset="0.041" stop-color="#0057ff"/><stop offset="0.061" stop-color="#005fff"/><stop offset="0.082" stop-color="#005fff"/><stop offset="0.102" stop-color="#005fff"/><stop offset="0.122" stop-color="#005fff"/><stop offset="0.143" stop-color="#0061ff"/><stop offset="0.163" stop-color="#0067ff"/><stop offset="0.184" stop-color="#006aff"/><stop offset="0.204" stop-color="#006aff"/><stop offset="0.224" stop-color="#0077ff"/><stop offset="0.245" stop-color="#0093ff"/><stop offset="0.265" stop-color="#00abff"/><stop offset="0.286" stop-color="#00c1ff"/><stop offset="0.306" stop-color="#00d4ff"/><stop offset="0.327" stop-color="#00e5ff"/><stop offset="0.347" stop-color="#00fbff"/><stop offset="0.367" stop-color="#1affe5"/><stop offset="0.388" stop-color="#28ffd7"/><stop offset="0.408" stop-color="#28ffd7"/><stop offset="0.429" stop-color="#3effc1"/><stop offset="0.449" stop-color="#6aff95"/><stop offset="0.469" stop-color="#84ff7b"/><stop offset="0.49" stop-color="#8dff72"/><stop offset="0.51" stop-color="#8fff70"/><stop offset="0.531" stop-color="#8aff75"/><stop offset="0.551" stop-color="#63ff9c"/><stop offset="0.571" stop-color="#1cffe3"/><stop offset="0.592" stop-color="#00d6ff"/><stop offset="0.612" stop-color="#0094ff"/><stop offset="0.633" stop-color="#0056ff"/><stop offset="0.653" stop-color="#001dff"/><stop offset="0.673" stop-color="#0000f7"/><stop offset="0.694" stop-color="#0000e6"/><stop offset="0.714" stop-color="#0000de"/><stop offset="0.735" stop-color="#0000de"/><stop offset="0.755" stop-color="#0000de"/><stop offset="0.776" stop-color="#0000de"/><stop offset="0.796" stop-color="#0000de"/><stop offset="0.816" stop-color="#0000de"/><stop offset="0.837" stop-color="#0000de"/><stop offset="0.857" stop-color="#0000de"/><stop offset="0.878" stop-color="#0000de"/><stop offset="0.898" stop-color="#0000de"/><stop offset="0.918" stop-color="#0000de"/><stop offset="0.939" stop-color="#0000de"/><stop offset="0.959" stop-color="#0000de"/><stop offset="0.98" stop-color="#0000de"/><stop offset="1" stop-color="#0000de"/></linearGradient><linearGradient id="ga29" gradientUnits="userSpaceOnUse" x1="81.5" y1="0" x2="473.5" y2="0"><stop offset="0" stop-color="#003eff"/><stop offset="0.02" stop-color="#0046ff"/><stop offset="0.041" stop-color="#0057ff"/><stop offset="0.061" stop-color="#0061ff"/><stop offset="0.082" stop-color="#0067ff"/><stop offset="0.102" stop-color="#006aff"/><stop offset="0.122" stop-color="#006aff"/><stop offset="0.143" stop-color="#006aff"/><stop offset="0.163" stop-color="#006aff"/><stop offset="0.184" stop-color="#006aff"/><stop offset="0.204" stop-color="#006aff"/><stop offset="0.224" stop-color="#0072ff"/><stop offset="0.245" stop-color="#0082ff"/><stop offset="0.265" stop-color="#0095ff"/><stop offset="0.286" stop-color="#00abff"/><stop offset="0.306" stop-color="#00c1ff"/><stop offset="0.327" stop-color="#00d7ff"/><stop offset="0.347" stop-color="#00f0ff"/><stop offset="0.367" stop-color="#0cfff3"/><stop offset="0.388" stop-color="#1dffe2"/><stop offset="0.408" stop-color="#24ffdb"/><stop offset="0.429" stop-color="#3effc1"/><stop offset="0.449" stop-color="#6aff95"/><stop offset="0.469" stop-color="#92ff6d"/><stop offset="0.49" stop-color="#b6ff49"/><stop offset="0.51" stop-color="#d0ff2f"/><stop offset="0.531" stop-color="#deff21"/><stop offset="0.551" stop-color="#bdff42"/><stop offset="0.571" stop-color="#6dff92"/><stop offset="0.592" stop-color="#23ffdc"/><stop offset="0.612" stop-color="#00dcff"/><stop offset="0.633" stop-color="#0097ff"/><stop offset="0.653" stop-color="#0051ff"/><stop offset="0.673" stop-color="#001dff"/><stop offset="0.694" stop-color="#0000fa"/><stop offset="0.714" stop-color="#0000e9"/><stop offset="0.735" stop-color="#0000e9"/><stop offset="0.755" stop-color="#0000e6"/><stop offset="0.776" stop-color="#0000e1"/><stop offset="0.796" stop-color="#0000de"/><stop offset="0.816" stop-color="#0000de"/><stop offset="0.837" stop-color="#0000de"/><stop offset="0.857" stop-color="#0000de"/><stop offset="0.878" stop-color="#0000e4"/><stop offset="0.898" stop-color="#0000f0"/><stop offset="0.918" stop-color="#0000f6"/><stop offset="0.939" stop-color="#0000f6"/><stop offset="0.959" stop-color="#0000f6"/><stop offset="0.98" stop-color="#0000f6"/><stop offset="1" stop-color="#0000f6"/></linearGradient><linearGradient id="ga30" gradientUnits="userSpaceOnUse" x1="81.5" y1="0" x2="473.5" y2="0"><stop offset="0" stop-color="#003eff"/><stop offset="0.02" stop-color="#0041ff"/><stop offset="0.041" stop-color="#0046ff"/><stop offset="0.061" stop-color="#0051ff"/><stop offset="0.082" stop-color="#0061ff"/><stop offset="0.102" stop-color="#006aff"/><stop offset="0.122" stop-color="#006aff"/><stop offset="0.143" stop-color="#006aff"/><stop offset="0.163" stop-color="#006aff"/><stop offset="0.184" stop-color="#006aff"/><stop offset="0.204" stop-color="#006aff"/><stop offset="0.224" stop-color="#006cff"/><stop offset="0.245" stop-color="#0072ff"/><stop offset="0.265" stop-color="#0080ff"/><stop offset="0.286" stop-color="#0095ff"/><stop offset="0.306" stop-color="#00abff"/><stop offset="0.327" stop-color="#00c1ff"/><stop offset="0.347" stop-color="#00d8ff"/><stop offset="0.367" stop-color="#00f0ff"/><stop offset="0.388" stop-color="#07fff8"/><stop offset="0.408" stop-color="#1dffe2"/><stop offset="0.429" stop-color="#2fffd0"/><stop offset="0.449" stop-color="#3effc1"/><stop offset="0.469" stop-color="#5fffa0"/><stop offset="0.49" stop-color="#92ff6d"/><stop offset="0.51" stop-color="#c1ff3e"/><stop offset="0.531" stop-color="#edff12"/><stop offset="0.551" stop-color="#e2ff1d"/><stop offset="0.571" stop-color="#a0ff5f"/><stop offset="0.592" stop-color="#61ff9e"/><stop offset="0.612" stop-color="#23ffdc"/><stop offset="0.633" stop-color="#00dfff"/><stop offset="0.653" stop-color="#0097ff"/><stop offset="0.673" stop-color="#0056ff"/><stop offset="0.694" stop-color="#001dff"/><stop offset="0.714" stop-color="#0000ff"/><stop offset="0.735" stop-color="#0000ff"/><stop offset="0.755" stop-color="#0000f7"/><stop offset="0.776" stop-color="#0000e6"/><stop offset="0.796" stop-color="#0000de"/><stop offset="0.816" stop-color="#0000de"/><stop offset="0.837" stop-color="#0000de"/><stop offset="0.857" stop-color="#0000de"/><stop offset="0.878" stop-color="#0000f0"/><stop offset="0.898" stop-color="#0014ff"/><stop offset="0.918" stop-color="#0026ff"/><stop offset="0.939" stop-color="#0026ff"/><stop offset="0.959" stop-color="#0026ff"/><stop offset="0.98" stop-color="#0026ff"/><stop offset="1" stop-color="#0026ff"/></linearGradient><linearGradient id="ga31" gradientUnits="userSpaceOnUse" x1="81.5" y1="0" x2="473.5" y2="0"><stop offset="0" stop-color="#0049ff"/><stop offset="0.02" stop-color="#0049ff"/><stop offset="0.041" stop-color="#0049ff"/><stop offset="0.061" stop-color="#0051ff"/><stop offset="0.082" stop-color="#0061ff"/><stop offset="0.102" stop-color="#0067ff"/><stop offset="0.122" stop-color="#0061ff"/><stop offset="0.143" stop-color="#005cff"/><stop offset="0.163" stop-color="#0055ff"/><stop offset="0.184" stop-color="#0052ff"/><stop offset="0.204" stop-color="#0052ff"/><stop offset="0.224" stop-color="#0052ff"/><stop offset="0.245" stop-color="#0052ff"/><stop offset="0.265" stop-color="#0060ff"/><stop offset="0.286" stop-color="#007cff"/><stop offset="0.306" stop-color="#0095ff"/><stop offset="0.327" stop-color="#00abff"/><stop offset="0.347" stop-color="#00c1ff"/><stop offset="0.367" stop-color="#00d7ff"/><stop offset="0.388" stop-color="#00eaff"/><stop offset="0.408" stop-color="#00faff"/><stop offset="0.429" stop-color="#04fffb"/><stop offset="0.449" stop-color="#04fffb"/><stop offset="0.469" stop-color="#1fffe0"/><stop offset="0.49" stop-color="#56ffa9"/><stop offset="0.51" stop-color="#8eff71"/><stop offset="0.531" stop-color="#c8ff37"/><stop offset="0.551" stop-color="#d3ff2c"/><stop offset="0.571" stop-color="#afff50"/><stop offset="0.592" stop-color="#87ff78"/><stop offset="0.612" stop-color="#5bffa4"/><stop offset="0.633" stop-color="#23ffdc"/><stop offset="0.653" stop-color="#00dcff"/><stop offset="0.673" stop-color="#0097ff"/><stop offset="0.694" stop-color="#0051ff"/><stop offset="0.714" stop-color="#0028ff"/><stop offset="0.735" stop-color="#001dff"/><stop offset="0.755" stop-color="#000cff"/><stop offset="0.776" stop-color="#0000f5"/><stop offset="0.796" stop-color="#0000e9"/><stop offset="0.816" stop-color="#0000e9"/><stop offset="0.837" stop-color="#0000ec"/><stop offset="0.857" stop-color="#0000f3"/><stop offset="0.878" stop-color="#0009ff"/><stop offset="0.898" stop-color="#002cff"/><stop offset="0.918" stop-color="#0041ff"/><stop offset="0.939" stop-color="#0046ff"/><stop offset="0.959" stop-color="#0049ff"/><stop offset="0.98" stop-color="#0049ff"/><stop offset="1" stop-color="#0049ff"/></linearGradient><linearGradient id="ga32" gradientUnits="userSpaceOnUse" x1="81.5" y1="0" x2="473.5" y2="0"><stop offset="0" stop-color="#005fff"/><stop offset="0.02" stop-color="#005fff"/><stop offset="0.041" stop-color="#005fff"/><stop offset="0.061" stop-color="#0061ff"/><stop offset="0.082" stop-color="#0067ff"/><stop offset="0.102" stop-color="#0061ff"/><stop offset="0.122" stop-color="#0051ff"/><stop offset="0.143" stop-color="#003fff"/><stop offset="0.163" stop-color="#002cff"/><stop offset="0.184" stop-color="#0023ff"/><stop offset="0.204" stop-color="#0023ff"/><stop offset="0.224" stop-color="#0023ff"/><stop offset="0.245" stop-color="#0023ff"/><stop offset="0.265" stop-color="#0037ff"/><stop offset="0.286" stop-color="#0060ff"/><stop offset="0.306" stop-color="#0080ff"/><stop offset="0.327" stop-color="#0095ff"/><stop offset="0.347" stop-color="#00abff"/><stop offset="0.367" stop-color="#00c1ff"/><stop offset="0.388" stop-color="#00c7ff"/><stop offset="0.408" stop-color="#00beff"/><stop offset="0.429" stop-color="#00baff"/><stop offset="0.449" stop-color="#00baff"/><stop offset="0.469" stop-color="#00d1ff"/><stop offset="0.49" stop-color="#02fffd"/><stop offset="0.51" stop-color="#37ffc8"/><stop offset="0.531" stop-color="#71ff8e"/><stop offset="0.551" stop-color="#92ff6d"/><stop offset="0.571" stop-color="#99ff66"/><stop offset="0.592" stop-color="#95ff6a"/><stop offset="0.612" stop-color="#87ff78"/><stop offset="0.633" stop-color="#61ff9e"/><stop offset="0.653" stop-color="#23ffdc"/><stop offset="0.673" stop-color="#00dfff"/><stop offset="0.694" stop-color="#0097ff"/><stop offset="0.714" stop-color="#0062ff"/><stop offset="0.735" stop-color="#0042ff"/><stop offset="0.755" stop-color="#0025ff"/><stop offset="0.776" stop-color="#000cff"/><stop offset="0.796" stop-color="#0000ff"/><stop offset="0.816" stop-color="#0000ff"/><stop offset="0.837" stop-color="#000aff"/><stop offset="0.857" stop-color="#001dff"/><stop offset="0.878" stop-color="#002cff"/><stop offset="0.898" stop-color="#0038ff"/><stop offset="0.918" stop-color="#0046ff"/><stop offset="0.939" stop-color="#0057ff"/><stop offset="0.959" stop-color="#005fff"/><stop offset="0.98" stop-color="#005fff"/><stop offset="1" stop-color="#005fff"/></linearGradient><linearGradient id="ga33" gradientUnits="userSpaceOnUse" x1="81.5" y1="0" x2="473.5" y2="0"><stop offset="0" stop-color="#006aff"/><stop offset="0.02" stop-color="#006aff"/><stop offset="0.041" stop-color="#006aff"/><stop offset="0.061" stop-color="#006cff"/><stop offset="0.082" stop-color="#0072ff"/><stop offset="0.102" stop-color="#006aff"/><stop offset="0.122" stop-color="#0054ff"/><stop offset="0.143" stop-color="#003dff"/><stop offset="0.163" stop-color="#0024ff"/><stop offset="0.184" stop-color="#0014ff"/><stop offset="0.204" stop-color="#000eff"/><stop offset="0.224" stop-color="#000bff"/><stop offset="0.245" stop-color="#000bff"/><stop offset="0.265" stop-color="#0020ff"/><stop offset="0.286" stop-color="#004aff"/><stop offset="0.306" stop-color="#0067ff"/><stop offset="0.327" stop-color="#0077ff"/><stop offset="0.347" stop-color="#0088ff"/><stop offset="0.367" stop-color="#0098ff"/><stop offset="0.388" stop-color="#0098ff"/><stop offset="0.408" stop-color="#0088ff"/><stop offset="0.429" stop-color="#0080ff"/><stop offset="0.449" stop-color="#0080ff"/><stop offset="0.469" stop-color="#0098ff"/><stop offset="0.49" stop-color="#00c9ff"/><stop offset="0.51" stop-color="#00faff"/><stop offset="0.531" stop-color="#2dffd2"/><stop offset="0.551" stop-color="#50ffaf"/><stop offset="0.571" stop-color="#66ff99"/><stop offset="0.592" stop-color="#71ff8e"/><stop offset="0.612" stop-color="#71ff8e"/><stop offset="0.633" stop-color="#58ffa7"/><stop offset="0.653" stop-color="#27ffd8"/><stop offset="0.673" stop-color="#00f0ff"/><stop offset="0.694" stop-color="#00b3ff"/><stop offset="0.714" stop-color="#0080ff"/><stop offset="0.735" stop-color="#0054ff"/><stop offset="0.755" stop-color="#0034ff"/><stop offset="0.776" stop-color="#0021ff"/><stop offset="0.796" stop-color="#0018ff"/><stop offset="0.816" stop-color="#0018ff"/><stop offset="0.837" stop-color="#0021ff"/><stop offset="0.857" stop-color="#0034ff"/><stop offset="0.878" stop-color="#003eff"/><stop offset="0.898" stop-color="#003eff"/><stop offset="0.918" stop-color="#0049ff"/><stop offset="0.939" stop-color="#005fff"/><stop offset="0.959" stop-color="#006aff"/><stop offset="0.98" stop-color="#006aff"/><stop offset="1" stop-color="#006aff"/></linearGradient><linearGradient id="ga34" gradientUnits="userSpaceOnUse" x1="81.5" y1="0" x2="473.5" y2="0"><stop offset="0" stop-color="#006aff"/><stop offset="0.02" stop-color="#006aff"/><stop offset="0.041" stop-color="#006aff"/><stop offset="0.061" stop-color="#0072ff"/><stop offset="0.082" stop-color="#0082ff"/><stop offset="0.102" stop-color="#0080ff"/><stop offset="0.122" stop-color="#006aff"/><stop offset="0.143" stop-color="#0053ff"/><stop offset="0.163" stop-color="#003dff"/><stop offset="0.184" stop-color="#0028ff"/><stop offset="0.204" stop-color="#0014ff"/><stop offset="0.224" stop-color="#000bff"/><stop offset="0.245" stop-color="#000bff"/><stop offset="0.265" stop-color="#001aff"/><stop offset="0.286" stop-color="#0039ff"/><stop offset="0.306" stop-color="#004cff"/><stop offset="0.327" stop-color="#0051ff"/><stop offset="0.347" stop-color="#0057ff"/><stop offset="0.367" stop-color="#005cff"/><stop offset="0.388" stop-color="#005cff"/><stop offset="0.408" stop-color="#0057ff"/><stop offset="0.429" stop-color="#0054ff"/><stop offset="0.449" stop-color="#0054ff"/><stop offset="0.469" stop-color="#0072ff"/><stop offset="0.49" stop-color="#00aeff"/><stop offset="0.51" stop-color="#00dbff"/><stop offset="0.531" stop-color="#00faff"/><stop offset="0.551" stop-color="#0ffff0"/><stop offset="0.571" stop-color="#16ffe9"/><stop offset="0.592" stop-color="#1affe5"/><stop offset="0.612" stop-color="#1affe5"/><stop offset="0.633" stop-color="#0afff5"/><stop offset="0.653" stop-color="#00eaff"/><stop offset="0.673" stop-color="#00c9ff"/><stop offset="0.694" stop-color="#00a7ff"/><stop offset="0.714" stop-color="#0080ff"/><stop offset="0.735" stop-color="#0054ff"/><stop offset="0.755" stop-color="#003bff"/><stop offset="0.776" stop-color="#0034ff"/><stop offset="0.796" stop-color="#0031ff"/><stop offset="0.816" stop-color="#0031ff"/><stop offset="0.837" stop-color="#0034ff"/><stop offset="0.857" stop-color="#003bff"/><stop offset="0.878" stop-color="#003eff"/><stop offset="0.898" stop-color="#003eff"/><stop offset="0.918" stop-color="#0049ff"/><stop offset="0.939" stop-color="#005fff"/><stop offset="0.959" stop-color="#006aff"/><stop offset="0.98" stop-color="#006aff"/><stop offset="1" stop-color="#006aff"/></linearGradient><linearGradient id="ga35" gradientUnits="userSpaceOnUse" x1="81.5" y1="0" x2="473.5" y2="0"><stop offset="0" stop-color="#006aff"/><stop offset="0.02" stop-color="#006aff"/><stop offset="0.041" stop-color="#006aff"/><stop offset="0.061" stop-color="#0072ff"/><stop offset="0.082" stop-color="#0082ff"/><stop offset="0.102" stop-color="#0080ff"/><stop offset="0.122" stop-color="#006aff"/><stop offset="0.143" stop-color="#0057ff"/><stop offset="0.163" stop-color="#0046ff"/><stop offset="0.184" stop-color="#0034ff"/><stop offset="0.204" stop-color="#0021ff"/><stop offset="0.224" stop-color="#0014ff"/><stop offset="0.245" stop-color="#000eff"/><stop offset="0.265" stop-color="#001aff"/><stop offset="0.286" stop-color="#0039ff"/><stop offset="0.306" stop-color="#0046ff"/><stop offset="0.327" stop-color="#0041ff"/><stop offset="0.347" stop-color="#003eff"/><stop offset="0.367" stop-color="#003eff"/><stop offset="0.388" stop-color="#003eff"/><stop offset="0.408" stop-color="#003eff"/><stop offset="0.429" stop-color="#003eff"/><stop offset="0.449" stop-color="#003eff"/><stop offset="0.469" stop-color="#005cff"/><stop offset="0.49" stop-color="#0098ff"/><stop offset="0.51" stop-color="#00c1ff"/><stop offset="0.531" stop-color="#00d7ff"/><stop offset="0.551" stop-color="#00e2ff"/><stop offset="0.571" stop-color="#00e2ff"/><stop offset="0.592" stop-color="#00e2ff"/><stop offset="0.612" stop-color="#00e2ff"/><stop offset="0.633" stop-color="#00d7ff"/><stop offset="0.653" stop-color="#00c1ff"/><stop offset="0.673" stop-color="#00a8ff"/><stop offset="0.694" stop-color="#008dff"/><stop offset="0.714" stop-color="#006cff"/><stop offset="0.735" stop-color="#0045ff"/><stop offset="0.755" stop-color="#0031ff"/><stop offset="0.776" stop-color="#0031ff"/><stop offset="0.796" stop-color="#0031ff"/><stop offset="0.816" stop-color="#0031ff"/><stop offset="0.837" stop-color="#0031ff"/><stop offset="0.857" stop-color="#0031ff"/><stop offset="0.878" stop-color="#0031ff"/><stop offset="0.898" stop-color="#0031ff"/><stop offset="0.918" stop-color="#0039ff"/><stop offset="0.939" stop-color="#004aff"/><stop offset="0.959" stop-color="#0052ff"/><stop offset="0.98" stop-color="#0052ff"/><stop offset="1" stop-color="#0052ff"/></linearGradient><linearGradient id="ga36" gradientUnits="userSpaceOnUse" x1="81.5" y1="0" x2="473.5" y2="0"><stop offset="0" stop-color="#006aff"/><stop offset="0.02" stop-color="#006aff"/><stop offset="0.041" stop-color="#006aff"/><stop offset="0.061" stop-color="#006cff"/><stop offset="0.082" stop-color="#0072ff"/><stop offset="0.102" stop-color="#006aff"/><stop offset="0.122" stop-color="#0054ff"/><stop offset="0.143" stop-color="#0046ff"/><stop offset="0.163" stop-color="#0041ff"/><stop offset="0.184" stop-color="#003bff"/><stop offset="0.204" stop-color="#0034ff"/><stop offset="0.224" stop-color="#0028ff"/><stop offset="0.245" stop-color="#0014ff"/><stop offset="0.265" stop-color="#0020ff"/><stop offset="0.286" stop-color="#004aff"/><stop offset="0.306" stop-color="#0057ff"/><stop offset="0.327" stop-color="#0046ff"/><stop offset="0.347" stop-color="#003eff"/><stop offset="0.367" stop-color="#003eff"/><stop offset="0.388" stop-color="#003eff"/><stop offset="0.408" stop-color="#003eff"/><stop offset="0.429" stop-color="#003eff"/><stop offset="0.449" stop-color="#003eff"/><stop offset="0.469" stop-color="#0057ff"/><stop offset="0.49" stop-color="#0088ff"/><stop offset="0.51" stop-color="#00abff"/><stop offset="0.531" stop-color="#00c1ff"/><stop offset="0.551" stop-color="#00ccff"/><stop offset="0.571" stop-color="#00ccff"/><stop offset="0.592" stop-color="#00ccff"/><stop offset="0.612" stop-color="#00ccff"/><stop offset="0.633" stop-color="#00c1ff"/><stop offset="0.653" stop-color="#00abff"/><stop offset="0.673" stop-color="#008dff"/><stop offset="0.694" stop-color="#0067ff"/><stop offset="0.714" stop-color="#0045ff"/><stop offset="0.735" stop-color="#0027ff"/><stop offset="0.755" stop-color="#0018ff"/><stop offset="0.776" stop-color="#0018ff"/><stop offset="0.796" stop-color="#0018ff"/><stop offset="0.816" stop-color="#0018ff"/><stop offset="0.837" stop-color="#0018ff"/><stop offset="0.857" stop-color="#0018ff"/><stop offset="0.878" stop-color="#0018ff"/><stop offset="0.898" stop-color="#0018ff"/><stop offset="0.918" stop-color="#001aff"/><stop offset="0.939" stop-color="#0020ff"/><stop offset="0.959" stop-color="#0023ff"/><stop offset="0.98" stop-color="#0023ff"/><stop offset="1" stop-color="#0023ff"/></linearGradient><linearGradient id="ga37" gradientUnits="userSpaceOnUse" x1="81.5" y1="0" x2="473.5" y2="0"><stop offset="0" stop-color="#005fff"/><stop offset="0.02" stop-color="#005fff"/><stop offset="0.041" stop-color="#005fff"/><stop offset="0.061" stop-color="#005fff"/><stop offset="0.082" stop-color="#005fff"/><stop offset="0.102" stop-color="#0059ff"/><stop offset="0.122" stop-color="#004eff"/><stop offset="0.143" stop-color="#0049ff"/><stop offset="0.163" stop-color="#0049ff"/><stop offset="0.184" stop-color="#0046ff"/><stop offset="0.204" stop-color="#0041ff"/><stop offset="0.224" stop-color="#0034ff"/><stop offset="0.245" stop-color="#0021ff"/><stop offset="0.265" stop-color="#0029ff"/><stop offset="0.286" stop-color="#004dff"/><stop offset="0.306" stop-color="#0057ff"/><stop offset="0.327" stop-color="#0046ff"/><stop offset="0.347" stop-color="#003eff"/><stop offset="0.367" stop-color="#003eff"/><stop offset="0.388" stop-color="#003eff"/><stop offset="0.408" stop-color="#003eff"/><stop offset="0.429" stop-color="#003eff"/><stop offset="0.449" stop-color="#003eff"/><stop offset="0.469" stop-color="#0054ff"/><stop offset="0.49" stop-color="#0080ff"/><stop offset="0.51" stop-color="#009eff"/><stop offset="0.531" stop-color="#00aeff"/><stop offset="0.551" stop-color="#00b6ff"/><stop offset="0.571" stop-color="#00b6ff"/><stop offset="0.592" stop-color="#00b6ff"/><stop offset="0.612" stop-color="#00b6ff"/><stop offset="0.633" stop-color="#00abff"/><stop offset="0.653" stop-color="#0095ff"/><stop offset="0.673" stop-color="#0077ff"/><stop offset="0.694" stop-color="#0051ff"/><stop offset="0.714" stop-color="#0031ff"/><stop offset="0.735" stop-color="#0018ff"/><stop offset="0.755" stop-color="#000bff"/><stop offset="0.776" stop-color="#000bff"/><stop offset="0.796" stop-color="#000bff"/><stop offset="0.816" stop-color="#000bff"/><stop offset="0.837" stop-color="#000bff"/><stop offset="0.857" stop-color="#000bff"/><stop offset="0.878" stop-color="#000bff"/><stop offset="0.898" stop-color="#000bff"/><stop offset="0.918" stop-color="#000bff"/><stop offset="0.939" stop-color="#000bff"/><stop offset="0.959" stop-color="#000bff"/><stop offset="0.98" stop-color="#000bff"/><stop offset="1" stop-color="#000bff"/></linearGradient><linearGradient id="ga38" gradientUnits="userSpaceOnUse" x1="81.5" y1="0" x2="473.5" y2="0"><stop offset="0" stop-color="#0049ff"/><stop offset="0.02" stop-color="#0049ff"/><stop offset="0.041" stop-color="#0049ff"/><stop offset="0.061" stop-color="#0049ff"/><stop offset="0.082" stop-color="#0049ff"/><stop offset="0.102" stop-color="#004eff"/><stop offset="0.122" stop-color="#0059ff"/><stop offset="0.143" stop-color="#005fff"/><stop offset="0.163" stop-color="#005fff"/><stop offset="0.184" stop-color="#0057ff"/><stop offset="0.204" stop-color="#0046ff"/><stop offset="0.224" stop-color="#003bff"/><stop offset="0.245" stop-color="#0034ff"/><stop offset="0.265" stop-color="#0037ff"/><stop offset="0.286" stop-color="#0043ff"/><stop offset="0.306" stop-color="#0046ff"/><stop offset="0.327" stop-color="#0041ff"/><stop offset="0.347" stop-color="#003eff"/><stop offset="0.367" stop-color="#003eff"/><stop offset="0.388" stop-color="#003eff"/><stop offset="0.408" stop-color="#003eff"/><stop offset="0.429" stop-color="#003eff"/><stop offset="0.449" stop-color="#003eff"/><stop offset="0.469" stop-color="#0054ff"/><stop offset="0.49" stop-color="#0080ff"/><stop offset="0.51" stop-color="#0098ff"/><stop offset="0.531" stop-color="#009eff"/><stop offset="0.551" stop-color="#00a0ff"/><stop offset="0.571" stop-color="#00a0ff"/><stop offset="0.592" stop-color="#00a0ff"/><stop offset="0.612" stop-color="#00a0ff"/><stop offset="0.633" stop-color="#0095ff"/><stop offset="0.653" stop-color="#0080ff"/><stop offset="0.673" stop-color="#0067ff"/><stop offset="0.694" stop-color="#004cff"/><stop offset="0.714" stop-color="#0031ff"/><stop offset="0.735" stop-color="#0018ff"/><stop offset="0.755" stop-color="#000bff"/><stop offset="0.776" stop-color="#000bff"/><stop offset="0.796" stop-color="#000bff"/><stop offset="0.816" stop-color="#000bff"/><stop offset="0.837" stop-color="#000bff"/><stop offset="0.857" stop-color="#000bff"/><stop offset="0.878" stop-color="#000bff"/><stop offset="0.898" stop-color="#000bff"/><stop offset="0.918" stop-color="#000bff"/><stop offset="0.939" stop-color="#000bff"/><stop offset="0.959" stop-color="#000bff"/><stop offset="0.98" stop-color="#000bff"/><stop offset="1" stop-color="#000bff"/></linearGradient><linearGradient id="ga39" gradientUnits="userSpaceOnUse" x1="81.5" y1="0" x2="473.5" y2="0"><stop offset="0" stop-color="#0049ff"/><stop offset="0.02" stop-color="#0046ff"/><stop offset="0.041" stop-color="#0041ff"/><stop offset="0.061" stop-color="#003eff"/><stop offset="0.082" stop-color="#003eff"/><stop offset="0.102" stop-color="#0046ff"/><stop offset="0.122" stop-color="#0057ff"/><stop offset="0.143" stop-color="#005fff"/><stop offset="0.163" stop-color="#005fff"/><stop offset="0.184" stop-color="#0059ff"/><stop offset="0.204" stop-color="#004eff"/><stop offset="0.224" stop-color="#0046ff"/><stop offset="0.245" stop-color="#0041ff"/><stop offset="0.265" stop-color="#003eff"/><stop offset="0.286" stop-color="#003eff"/><stop offset="0.306" stop-color="#003eff"/><stop offset="0.327" stop-color="#003eff"/><stop offset="0.347" stop-color="#003eff"/><stop offset="0.367" stop-color="#003eff"/><stop offset="0.388" stop-color="#003eff"/><stop offset="0.408" stop-color="#003eff"/><stop offset="0.429" stop-color="#003eff"/><stop offset="0.449" stop-color="#003eff"/><stop offset="0.469" stop-color="#0051ff"/><stop offset="0.49" stop-color="#0077ff"/><stop offset="0.51" stop-color="#008aff"/><stop offset="0.531" stop-color="#008aff"/><stop offset="0.551" stop-color="#008aff"/><stop offset="0.571" stop-color="#008aff"/><stop offset="0.592" stop-color="#008aff"/><stop offset="0.612" stop-color="#008aff"/><stop offset="0.633" stop-color="#0082ff"/><stop offset="0.653" stop-color="#0072ff"/><stop offset="0.673" stop-color="#005fff"/><stop offset="0.694" stop-color="#0049ff"/><stop offset="0.714" stop-color="#0031ff"/><stop offset="0.735" stop-color="#0018ff"/><stop offset="0.755" stop-color="#000bff"/><stop offset="0.776" stop-color="#000bff"/><stop offset="0.796" stop-color="#000bff"/><stop offset="0.816" stop-color="#000bff"/><stop offset="0.837" stop-color="#000bff"/><stop offset="0.857" stop-color="#000bff"/><stop offset="0.878" stop-color="#000bff"/><stop offset="0.898" stop-color="#000bff"/><stop offset="0.918" stop-color="#000bff"/><stop offset="0.939" stop-color="#000bff"/><stop offset="0.959" stop-color="#000bff"/><stop offset="0.98" stop-color="#000bff"/><stop offset="1" stop-color="#000bff"/></linearGradient><linearGradient id="ga40" gradientUnits="userSpaceOnUse" x1="81.5" y1="0" x2="473.5" y2="0"><stop offset="0" stop-color="#005fff"/><stop offset="0.02" stop-color="#0057ff"/><stop offset="0.041" stop-color="#0046ff"/><stop offset="0.061" stop-color="#003eff"/><stop offset="0.082" stop-color="#003eff"/><stop offset="0.102" stop-color="#0041ff"/><stop offset="0.122" stop-color="#0046ff"/><stop offset="0.143" stop-color="#0049ff"/><stop offset="0.163" stop-color="#0049ff"/><stop offset="0.184" stop-color="#004eff"/><stop offset="0.204" stop-color="#0059ff"/><stop offset="0.224" stop-color="#0057ff"/><stop offset="0.245" stop-color="#0046ff"/><stop offset="0.265" stop-color="#003eff"/><stop offset="0.286" stop-color="#003eff"/><stop offset="0.306" stop-color="#003eff"/><stop offset="0.327" stop-color="#003eff"/><stop offset="0.347" stop-color="#003eff"/><stop offset="0.367" stop-color="#003eff"/><stop offset="0.388" stop-color="#003eff"/><stop offset="0.408" stop-color="#003eff"/><stop offset="0.429" stop-color="#003eff"/><stop offset="0.449" stop-color="#003eff"/><stop offset="0.469" stop-color="#004cff"/><stop offset="0.49" stop-color="#0067ff"/><stop offset="0.51" stop-color="#0075ff"/><stop offset="0.531" stop-color="#0075ff"/><stop offset="0.551" stop-color="#0075ff"/><stop offset="0.571" stop-color="#0075ff"/><stop offset="0.592" stop-color="#0075ff"/><stop offset="0.612" stop-color="#0075ff"/><stop offset="0.633" stop-color="#0072ff"/><stop offset="0.653" stop-color="#006cff"/><stop offset="0.673" stop-color="#005fff"/><stop offset="0.694" stop-color="#0049ff"/><stop offset="0.714" stop-color="#0031ff"/><stop offset="0.735" stop-color="#0018ff"/><stop offset="0.755" stop-color="#000bff"/><stop offset="0.776" stop-color="#000bff"/><stop offset="0.796" stop-color="#000bff"/><stop offset="0.816" stop-color="#000bff"/><stop offset="0.837" stop-color="#000bff"/><stop offset="0.857" stop-color="#000bff"/><stop offset="0.878" stop-color="#000bff"/><stop offset="0.898" stop-color="#000bff"/><stop offset="0.918" stop-color="#000bff"/><stop offset="0.939" stop-color="#000bff"/><stop offset="0.959" stop-color="#000bff"/><stop offset="0.98" stop-color="#000bff"/><stop offset="1" stop-color="#000bff"/></linearGradient><linearGradient id="ga41" gradientUnits="userSpaceOnUse" x1="81.5" y1="0" x2="473.5" y2="0"><stop offset="0" stop-color="#006aff"/><stop offset="0.02" stop-color="#0061ff"/><stop offset="0.041" stop-color="#0051ff"/><stop offset="0.061" stop-color="#0046ff"/><stop offset="0.082" stop-color="#0041ff"/><stop offset="0.102" stop-color="#003eff"/><stop offset="0.122" stop-color="#003eff"/><stop offset="0.143" stop-color="#003eff"/><stop offset="0.163" stop-color="#003eff"/><stop offset="0.184" stop-color="#0046ff"/><stop offset="0.204" stop-color="#0057ff"/><stop offset="0.224" stop-color="#0057ff"/><stop offset="0.245" stop-color="#0046ff"/><stop offset="0.265" stop-color="#003eff"/><stop offset="0.286" stop-color="#003eff"/><stop offset="0.306" stop-color="#003eff"/><stop offset="0.327" stop-color="#003eff"/><stop offset="0.347" stop-color="#003eff"/><stop offset="0.367" stop-color="#003eff"/><stop offset="0.388" stop-color="#003eff"/><stop offset="0.408" stop-color="#003eff"/><stop offset="0.429" stop-color="#003eff"/><stop offset="0.449" stop-color="#003eff"/><stop offset="0.469" stop-color="#0046ff"/><stop offset="0.49" stop-color="#0057ff"/><stop offset="0.51" stop-color="#005fff"/><stop offset="0.531" stop-color="#005fff"/><stop offset="0.551" stop-color="#005fff"/><stop offset="0.571" stop-color="#005fff"/><stop offset="0.592" stop-color="#005fff"/><stop offset="0.612" stop-color="#005fff"/><stop offset="0.633" stop-color="#005fff"/><stop offset="0.653" stop-color="#005fff"/><stop offset="0.673" stop-color="#0057ff"/><stop offset="0.694" stop-color="#0046ff"/><stop offset="0.714" stop-color="#0031ff"/><stop offset="0.735" stop-color="#0018ff"/><stop offset="0.755" stop-color="#000bff"/><stop offset="0.776" stop-color="#000bff"/><stop offset="0.796" stop-color="#000bff"/><stop offset="0.816" stop-color="#000bff"/><stop offset="0.837" stop-color="#000bff"/><stop offset="0.857" stop-color="#000bff"/><stop offset="0.878" stop-color="#000bff"/><stop offset="0.898" stop-color="#000bff"/><stop offset="0.918" stop-color="#000bff"/><stop offset="0.939" stop-color="#000bff"/><stop offset="0.959" stop-color="#000bff"/><stop offset="0.98" stop-color="#000bff"/><stop offset="1" stop-color="#000bff"/></linearGradient><linearGradient id="ga42" gradientUnits="userSpaceOnUse" x1="81.5" y1="0" x2="473.5" y2="0"><stop offset="0" stop-color="#006aff"/><stop offset="0.02" stop-color="#0067ff"/><stop offset="0.041" stop-color="#0061ff"/><stop offset="0.061" stop-color="#0057ff"/><stop offset="0.082" stop-color="#0046ff"/><stop offset="0.102" stop-color="#003eff"/><stop offset="0.122" stop-color="#003eff"/><stop offset="0.143" stop-color="#003eff"/><stop offset="0.163" stop-color="#003eff"/><stop offset="0.184" stop-color="#0041ff"/><stop offset="0.204" stop-color="#0046ff"/><stop offset="0.224" stop-color="#0046ff"/><stop offset="0.245" stop-color="#0041ff"/><stop offset="0.265" stop-color="#003eff"/><stop offset="0.286" stop-color="#003eff"/><stop offset="0.306" stop-color="#003eff"/><stop offset="0.327" stop-color="#003eff"/><stop offset="0.347" stop-color="#003eff"/><stop offset="0.367" stop-color="#003eff"/><stop offset="0.388" stop-color="#003eff"/><stop offset="0.408" stop-color="#003eff"/><stop offset="0.429" stop-color="#003eff"/><stop offset="0.449" stop-color="#003eff"/><stop offset="0.469" stop-color="#0041ff"/><stop offset="0.49" stop-color="#0046ff"/><stop offset="0.51" stop-color="#0049ff"/><stop offset="0.531" stop-color="#0049ff"/><stop offset="0.551" stop-color="#0049ff"/><stop offset="0.571" stop-color="#0049ff"/><stop offset="0.592" stop-color="#0049ff"/><stop offset="0.612" stop-color="#0049ff"/><stop offset="0.633" stop-color="#0049ff"/><stop offset="0.653" stop-color="#0049ff"/><stop offset="0.673" stop-color="#0046ff"/><stop offset="0.694" stop-color="#0041ff"/><stop offset="0.714" stop-color="#0031ff"/><stop offset="0.735" stop-color="#0018ff"/><stop offset="0.755" stop-color="#000bff"/><stop offset="0.776" stop-color="#000bff"/><stop offset="0.796" stop-color="#000bff"/><stop offset="0.816" stop-color="#000bff"/><stop offset="0.837" stop-color="#000bff"/><stop offset="0.857" stop-color="#000bff"/><stop offset="0.878" stop-color="#000bff"/><stop offset="0.898" stop-color="#000bff"/><stop offset="0.918" stop-color="#000bff"/><stop offset="0.939" stop-color="#000bff"/><stop offset="0.959" stop-color="#000bff"/><stop offset="0.98" stop-color="#000bff"/><stop offset="1" stop-color="#000bff"/></linearGradient><linearGradient id="ga43" gradientUnits="userSpaceOnUse" x1="81.5" y1="0" x2="473.5" y2="0"><stop offset="0" stop-color="#0075ff"/><stop offset="0.02" stop-color="#0072ff"/><stop offset="0.041" stop-color="#006cff"/><stop offset="0.061" stop-color="#005fff"/><stop offset="0.082" stop-color="#0049ff"/><stop offset="0.102" stop-color="#003eff"/><stop offset="0.122" stop-color="#003eff"/><stop offset="0.143" stop-color="#003bff"/><stop offset="0.163" stop-color="#0034ff"/><stop offset="0.184" stop-color="#0034ff"/><stop offset="0.204" stop-color="#003bff"/><stop offset="0.224" stop-color="#003eff"/><stop offset="0.245" stop-color="#003eff"/><stop offset="0.265" stop-color="#003eff"/><stop offset="0.286" stop-color="#003eff"/><stop offset="0.306" stop-color="#003eff"/><stop offset="0.327" stop-color="#003eff"/><stop offset="0.347" stop-color="#003eff"/><stop offset="0.367" stop-color="#003eff"/><stop offset="0.388" stop-color="#003eff"/><stop offset="0.408" stop-color="#003eff"/><stop offset="0.429" stop-color="#003eff"/><stop offset="0.449" stop-color="#003eff"/><stop offset="0.469" stop-color="#003eff"/><stop offset="0.49" stop-color="#003eff"/><stop offset="0.51" stop-color="#003eff"/><stop offset="0.531" stop-color="#003eff"/><stop offset="0.551" stop-color="#003eff"/><stop offset="0.571" stop-color="#003eff"/><stop offset="0.592" stop-color="#003eff"/><stop offset="0.612" stop-color="#003eff"/><stop offset="0.633" stop-color="#003eff"/><stop offset="0.653" stop-color="#003eff"/><stop offset="0.673" stop-color="#003bff"/><stop offset="0.694" stop-color="#0034ff"/><stop offset="0.714" stop-color="#0028ff"/><stop offset="0.735" stop-color="#0014ff"/><stop offset="0.755" stop-color="#000bff"/><stop offset="0.776" stop-color="#000bff"/><stop offset="0.796" stop-color="#000bff"/><stop offset="0.816" stop-color="#000bff"/><stop offset="0.837" stop-color="#000bff"/><stop offset="0.857" stop-color="#000bff"/><stop offset="0.878" stop-color="#000bff"/><stop offset="0.898" stop-color="#000bff"/><stop offset="0.918" stop-color="#000bff"/><stop offset="0.939" stop-color="#000bff"/><stop offset="0.959" stop-color="#000bff"/><stop offset="0.98" stop-color="#000bff"/><stop offset="1" stop-color="#000bff"/></linearGradient><linearGradient id="ga44" gradientUnits="userSpaceOnUse" x1="81.5" y1="0" x2="473.5" y2="0"><stop offset="0" stop-color="#008aff"/><stop offset="0.02" stop-color="#0082ff"/><stop offset="0.041" stop-color="#0072ff"/><stop offset="0.061" stop-color="#005fff"/><stop offset="0.082" stop-color="#0049ff"/><stop offset="0.102" stop-color="#003eff"/><stop offset="0.122" stop-color="#003eff"/><stop offset="0.143" stop-color="#0034ff"/><stop offset="0.163" stop-color="#0021ff"/><stop offset="0.184" stop-color="#0021ff"/><stop offset="0.204" stop-color="#0034ff"/><stop offset="0.224" stop-color="#003eff"/><stop offset="0.245" stop-color="#003eff"/><stop offset="0.265" stop-color="#003eff"/><stop offset="0.286" stop-color="#003eff"/><stop offset="0.306" stop-color="#003eff"/><stop offset="0.327" stop-color="#003eff"/><stop offset="0.347" stop-color="#003eff"/><stop offset="0.367" stop-color="#003eff"/><stop offset="0.388" stop-color="#003eff"/><stop offset="0.408" stop-color="#003eff"/><stop offset="0.429" stop-color="#003eff"/><stop offset="0.449" stop-color="#003eff"/><stop offset="0.469" stop-color="#003eff"/><stop offset="0.49" stop-color="#003eff"/><stop offset="0.51" stop-color="#003eff"/><stop offset="0.531" stop-color="#003eff"/><stop offset="0.551" stop-color="#003eff"/><stop offset="0.571" stop-color="#003eff"/><stop offset="0.592" stop-color="#003eff"/><stop offset="0.612" stop-color="#003eff"/><stop offset="0.633" stop-color="#003eff"/><stop offset="0.653" stop-color="#003eff"/><stop offset="0.673" stop-color="#0034ff"/><stop offset="0.694" stop-color="#0021ff"/><stop offset="0.714" stop-color="#0014ff"/><stop offset="0.735" stop-color="#000eff"/><stop offset="0.755" stop-color="#000bff"/><stop offset="0.776" stop-color="#000bff"/><stop offset="0.796" stop-color="#000bff"/><stop offset="0.816" stop-color="#000bff"/><stop offset="0.837" stop-color="#000bff"/><stop offset="0.857" stop-color="#000bff"/><stop offset="0.878" stop-color="#000bff"/><stop offset="0.898" stop-color="#000bff"/><stop offset="0.918" stop-color="#000bff"/><stop offset="0.939" stop-color="#000bff"/><stop offset="0.959" stop-color="#000bff"/><stop offset="0.98" stop-color="#000bff"/><stop offset="1" stop-color="#000bff"/></linearGradient><linearGradient id="ga45" gradientUnits="userSpaceOnUse" x1="81.5" y1="0" x2="473.5" y2="0"><stop offset="0" stop-color="#0095ff"/><stop offset="0.02" stop-color="#008aff"/><stop offset="0.041" stop-color="#0075ff"/><stop offset="0.061" stop-color="#005fff"/><stop offset="0.082" stop-color="#0049ff"/><stop offset="0.102" stop-color="#003eff"/><stop offset="0.122" stop-color="#003eff"/><stop offset="0.143" stop-color="#0031ff"/><stop offset="0.163" stop-color="#0018ff"/><stop offset="0.184" stop-color="#0018ff"/><stop offset="0.204" stop-color="#0031ff"/><stop offset="0.224" stop-color="#003eff"/><stop offset="0.245" stop-color="#003eff"/><stop offset="0.265" stop-color="#003eff"/><stop offset="0.286" stop-color="#003eff"/><stop offset="0.306" stop-color="#003eff"/><stop offset="0.327" stop-color="#003eff"/><stop offset="0.347" stop-color="#003eff"/><stop offset="0.367" stop-color="#003eff"/><stop offset="0.388" stop-color="#003eff"/><stop offset="0.408" stop-color="#003eff"/><stop offset="0.429" stop-color="#003eff"/><stop offset="0.449" stop-color="#003eff"/><stop offset="0.469" stop-color="#003eff"/><stop offset="0.49" stop-color="#003eff"/><stop offset="0.51" stop-color="#003eff"/><stop offset="0.531" stop-color="#003eff"/><stop offset="0.551" stop-color="#003eff"/><stop offset="0.571" stop-color="#003eff"/><stop offset="0.592" stop-color="#003eff"/><stop offset="0.612" stop-color="#003eff"/><stop offset="0.633" stop-color="#003eff"/><stop offset="0.653" stop-color="#003eff"/><stop offset="0.673" stop-color="#0031ff"/><stop offset="0.694" stop-color="#0018ff"/><stop offset="0.714" stop-color="#000bff"/><stop offset="0.735" stop-color="#000bff"/><stop offset="0.755" stop-color="#000bff"/><stop offset="0.776" stop-color="#000bff"/><stop offset="0.796" stop-color="#000bff"/><stop offset="0.816" stop-color="#000bff"/><stop offset="0.837" stop-color="#000bff"/><stop offset="0.857" stop-color="#000bff"/><stop offset="0.878" stop-color="#000bff"/><stop offset="0.898" stop-color="#000bff"/><stop offset="0.918" stop-color="#000bff"/><stop offset="0.939" stop-color="#000bff"/><stop offset="0.959" stop-color="#000bff"/><stop offset="0.98" stop-color="#000bff"/><stop offset="1" stop-color="#000bff"/></linearGradient><linearGradient id="ga46" gradientUnits="userSpaceOnUse" x1="81.5" y1="0" x2="473.5" y2="0"><stop offset="0" stop-color="#0095ff"/><stop offset="0.02" stop-color="#008aff"/><stop offset="0.041" stop-color="#0075ff"/><stop offset="0.061" stop-color="#005fff"/><stop offset="0.082" stop-color="#0049ff"/><stop offset="0.102" stop-color="#003eff"/><stop offset="0.122" stop-color="#003eff"/><stop offset="0.143" stop-color="#0031ff"/><stop offset="0.163" stop-color="#0018ff"/><stop offset="0.184" stop-color="#0018ff"/><stop offset="0.204" stop-color="#0031ff"/><stop offset="0.224" stop-color="#003eff"/><stop offset="0.245" stop-color="#003eff"/><stop offset="0.265" stop-color="#003eff"/><stop offset="0.286" stop-color="#003eff"/><stop offset="0.306" stop-color="#003eff"/><stop offset="0.327" stop-color="#003eff"/><stop offset="0.347" stop-color="#003eff"/><stop offset="0.367" stop-color="#003eff"/><stop offset="0.388" stop-color="#003eff"/><stop offset="0.408" stop-color="#003eff"/><stop offset="0.429" stop-color="#003eff"/><stop offset="0.449" stop-color="#003eff"/><stop offset="0.469" stop-color="#003eff"/><stop offset="0.49" stop-color="#003eff"/><stop offset="0.51" stop-color="#003eff"/><stop offset="0.531" stop-color="#003eff"/><stop offset="0.551" stop-color="#003eff"/><stop offset="0.571" stop-color="#003eff"/><stop offset="0.592" stop-color="#003eff"/><stop offset="0.612" stop-color="#003eff"/><stop offset="0.633" stop-color="#003eff"/><stop offset="0.653" stop-color="#003eff"/><stop offset="0.673" stop-color="#0031ff"/><stop offset="0.694" stop-color="#0018ff"/><stop offset="0.714" stop-color="#000bff"/><stop offset="0.735" stop-color="#000bff"/><stop offset="0.755" stop-color="#000bff"/><stop offset="0.776" stop-color="#000bff"/><stop offset="0.796" stop-color="#000bff"/><stop offset="0.816" stop-color="#000bff"/><stop offset="0.837" stop-color="#000bff"/><stop offset="0.857" stop-color="#000bff"/><stop offset="0.878" stop-color="#000bff"/><stop offset="0.898" stop-color="#000bff"/><stop offset="0.918" stop-color="#000bff"/><stop offset="0.939" stop-color="#000bff"/><stop offset="0.959" stop-color="#000bff"/><stop offset="0.98" stop-color="#000bff"/><stop offset="1" stop-color="#000bff"/></linearGradient><linearGradient id="ga47" gradientUnits="userSpaceOnUse" x1="81.5" y1="0" x2="473.5" y2="0"><stop offset="0" stop-color="#0095ff"/><stop offset="0.02" stop-color="#008aff"/><stop offset="0.041" stop-color="#0075ff"/><stop offset="0.061" stop-color="#005fff"/><stop offset="0.082" stop-color="#0049ff"/><stop offset="0.102" stop-color="#003eff"/><stop offset="0.122" stop-color="#003eff"/><stop offset="0.143" stop-color="#0031ff"/><stop offset="0.163" stop-color="#0018ff"/><stop offset="0.184" stop-color="#0018ff"/><stop offset="0.204" stop-color="#0031ff"/><stop offset="0.224" stop-color="#003eff"/><stop offset="0.245" stop-color="#003eff"/><stop offset="0.265" stop-color="#003eff"/><stop offset="0.286" stop-color="#003eff"/><stop offset="0.306" stop-color="#003eff"/><stop offset="0.327" stop-color="#003eff"/><stop offset="0.347" stop-color="#003eff"/><stop offset="0.367" stop-color="#003eff"/><stop offset="0.388" stop-color="#003eff"/><stop offset="0.408" stop-color="#003eff"/><stop offset="0.429" stop-color="#003eff"/><stop offset="0.449" stop-color="#003eff"/><stop offset="0.469" stop-color="#003eff"/><stop offset="0.49" stop-color="#003eff"/><stop offset="0.51" stop-color="#003eff"/><stop offset="0.531" stop-color="#003eff"/><stop offset="0.551" stop-color="#003eff"/><stop offset="0.571" stop-color="#003eff"/><stop offset="0.592" stop-color="#003eff"/><stop offset="0.612" stop-color="#003eff"/><stop offset="0.633" stop-color="#003eff"/><stop offset="0.653" stop-color="#003eff"/><stop offset="0.673" stop-color="#0031ff"/><stop offset="0.694" stop-color="#0018ff"/><stop offset="0.714" stop-color="#000bff"/><stop offset="0.735" stop-color="#000bff"/><stop offset="0.755" stop-color="#000bff"/><stop offset="0.776" stop-color="#000bff"/><stop offset="0.796" stop-color="#000bff"/><stop offset="0.816" stop-color="#000bff"/><stop offset="0.837" stop-color="#000bff"/><stop offset="0.857" stop-color="#000bff"/><stop offset="0.878" stop-color="#000bff"/><stop offset="0.898" stop-color="#000bff"/><stop offset="0.918" stop-color="#000bff"/><stop offset="0.939" stop-color="#000bff"/><stop offset="0.959" stop-color="#000bff"/><stop offset="0.98" stop-color="#000bff"/><stop offset="1" stop-color="#000bff"/></linearGradient><linearGradient id="ga48" gradientUnits="userSpaceOnUse" x1="81.5" y1="0" x2="473.5" y2="0"><stop offset="0" stop-color="#0095ff"/><stop offset="0.02" stop-color="#008aff"/><stop offset="0.041" stop-color="#0075ff"/><stop offset="0.061" stop-color="#005fff"/><stop offset="0.082" stop-color="#0049ff"/><stop offset="0.102" stop-color="#003eff"/><stop offset="0.122" stop-color="#003eff"/><stop offset="0.143" stop-color="#0031ff"/><stop offset="0.163" stop-color="#0018ff"/><stop offset="0.184" stop-color="#0018ff"/><stop offset="0.204" stop-color="#0031ff"/><stop offset="0.224" stop-color="#003eff"/><stop offset="0.245" stop-color="#003eff"/><stop offset="0.265" stop-color="#003eff"/><stop offset="0.286" stop-color="#003eff"/><stop offset="0.306" stop-color="#003eff"/><stop offset="0.327" stop-color="#003eff"/><stop offset="0.347" stop-color="#003eff"/><stop offset="0.367" stop-color="#003eff"/><stop offset="0.388" stop-color="#003eff"/><stop offset="0.408" stop-color="#003eff"/><stop offset="0.429" stop-color="#003eff"/><stop offset="0.449" stop-color="#003eff"/><stop offset="0.469" stop-color="#003eff"/><stop offset="0.49" stop-color="#003eff"/><stop offset="0.51" stop-color="#003eff"/><stop offset="0.531" stop-color="#003eff"/><stop offset="0.551" stop-color="#003eff"/><stop offset="0.571" stop-color="#003eff"/><stop offset="0.592" stop-color="#003eff"/><stop offset="0.612" stop-color="#003eff"/><stop offset="0.633" stop-color="#003eff"/><stop offset="0.653" stop-color="#003eff"/><stop offset="0.673" stop-color="#0031ff"/><stop offset="0.694" stop-color="#0018ff"/><stop offset="0.714" stop-color="#000bff"/><stop offset="0.735" stop-color="#000bff"/><stop offset="0.755" stop-color="#000bff"/><stop offset="0.776" stop-color="#000bff"/><stop offset="0.796" stop-color="#000bff"/><stop offset="0.816" stop-color="#000bff"/><stop offset="0.837" stop-color="#000bff"/><stop offset="0.857" stop-color="#000bff"/><stop offset="0.878" stop-color="#000bff"/><stop offset="0.898" stop-color="#000bff"/><stop offset="0.918" stop-color="#000bff"/><stop offset="0.939" stop-color="#000bff"/><stop offset="0.959" stop-color="#000bff"/><stop offset="0.98" stop-color="#000bff"/><stop offset="1" stop-color="#000bff"/></linearGradient><linearGradient id="ga49" gradientUnits="userSpaceOnUse" x1="81.5" y1="0" x2="473.5" y2="0"><stop offset="0" stop-color="#0095ff"/><stop offset="0.02" stop-color="#008aff"/><stop offset="0.041" stop-color="#0075ff"/><stop offset="0.061" stop-color="#005fff"/><stop offset="0.082" stop-color="#0049ff"/><stop offset="0.102" stop-color="#003eff"/><stop offset="0.122" stop-color="#003eff"/><stop offset="0.143" stop-color="#0031ff"/><stop offset="0.163" stop-color="#0018ff"/><stop offset="0.184" stop-color="#0018ff"/><stop offset="0.204" stop-color="#0031ff"/><stop offset="0.224" stop-color="#003eff"/><stop offset="0.245" stop-color="#003eff"/><stop offset="0.265" stop-color="#003eff"/><stop offset="0.286" stop-color="#003eff"/><stop offset="0.306" stop-color="#003eff"/><stop offset="0.327" stop-color="#003eff"/><stop offset="0.347" stop-color="#003eff"/><stop offset="0.367" stop-color="#003eff"/><stop offset="0.388" stop-color="#003eff"/><stop offset="0.408" stop-color="#003eff"/><stop offset="0.429" stop-color="#003eff"/><stop offset="0.449" stop-color="#003eff"/><stop offset="0.469" stop-color="#003eff"/><stop offset="0.49" stop-color="#003eff"/><stop offset="0.51" stop-color="#003eff"/><stop offset="0.531" stop-color="#003eff"/><stop offset="0.551" stop-color="#003eff"/><stop offset="0.571" stop-color="#003eff"/><stop offset="0.592" stop-color="#003eff"/><stop offset="0.612" stop-color="#003eff"/><stop offset="0.633" stop-color="#003eff"/><stop offset="0.653" stop-color="#003eff"/><stop offset="0.673" stop-color="#0031ff"/><stop offset="0.694" stop-color="#0018ff"/><stop offset="0.714" stop-color="#000bff"/><stop offset="0.735" stop-color="#000bff"/><stop offset="0.755" stop-color="#000bff"/><stop offset="0.776" stop-color="#000bff"/><stop offset="0.796" stop-color="#000bff"/><stop offset="0.816" stop-color="#000bff"/><stop offset="0.837" stop-color="#000bff"/><stop offset="0.857" stop-color="#000bff"/><stop offset="0.878" stop-color="#000bff"/><stop offset="0.898" stop-color="#000bff"/><stop offset="0.918" stop-color="#000bff"/><stop offset="0.939" stop-color="#000bff"/><stop offset="0.959" stop-color="#000bff"/><stop offset="0.98" stop-color="#000bff"/><stop offset="1" stop-color="#000bff"/></linearGradient></defs><g filter="url(#gb)"><rect x="45.5" y="-13.3" width="464.0" height="8.6" fill="url(#ga0)"/><rect x="45.5" y="-5.3" width="464.0" height="8.6" fill="url(#ga1)"/><rect x="45.5" y="2.7" width="464.0" height="8.6" fill="url(#ga2)"/><rect x="45.5" y="10.7" width="464.0" height="8.6" fill="url(#ga3)"/><rect x="45.5" y="18.7" width="464.0" height="8.6" fill="url(#ga4)"/><rect x="45.5" y="26.7" width="464.0" height="8.6" fill="url(#ga5)"/><rect x="45.5" y="34.7" width="464.0" height="8.6" fill="url(#ga6)"/><rect x="45.5" y="42.7" width="464.0" height="8.6" fill="url(#ga7)"/><rect x="45.5" y="50.7" width="464.0" height="8.6" fill="url(#ga8)"/><rect x="45.5" y="58.7" width="464.0" height="8.6" fill="url(#ga9)"/><rect x="45.5" y="66.7" width="464.0" height="8.6" fill="url(#ga10)"/><rect x="45.5" y="74.7" width="464.0" height="8.6" fill="url(#ga11)"/><rect x="45.5" y="82.7" width="464.0" height="8.6" fill="url(#ga12)"/><rect x="45.5" y="90.7" width="464.0" height="8.6" fill="url(#ga13)"/><rect x="45.5" y="98.7" width="464.0" height="8.6" fill="url(#ga14)"/><rect x="45.5" y="106.7" width="464.0" height="8.6" fill="url(#ga15)"/><rect x="45.5" y="114.7" width="464.0" height="8.6" fill="url(#ga16)"/><rect x="45.5" y="122.7" width="464.0" height="8.6" fill="url(#ga17)"/><rect x="45.5" y="130.7" width="464.0" height="8.6" fill="url(#ga18)"/><rect x="45.5" y="138.7" width="464.0" height="8.6" fill="url(#ga19)"/><rect x="45.5" y="146.7" width="464.0" height="8.6" fill="url(#ga20)"/><rect x="45.5" y="154.7" width="464.0" height="8.6" fill="url(#ga21)"/><rect x="45.5" y="162.7" width="464.0" height="8.6" fill="url(#ga22)"/><rect x="45.5" y="170.7" width="464.0" height="8.6" fill="url(#ga23)"/><rect x="45.5" y="178.7" width="464.0" height="8.6" fill="url(#ga24)"/><rect x="45.5" y="186.7" width="464.0" height="8.6" fill="url(#ga25)"/><rect x="45.5" y="194.7" width="464.0" height="8.6" fill="url(#ga26)"/><rect x="45.5" y="202.7" width="464.0" height="8.6" fill="url(#ga27)"/><rect x="45.5" y="210.7" width="464.0" height="8.6" fill="url(#ga28)"/><rect x="45.5" y="218.7" width="464.0" height="8.6" fill="url(#ga29)"/><rect x="45.5" y="226.7" width="464.0" height="8.6" fill="url(#ga30)"/><rect x="45.5" y="234.7" width="464.0" height="8.6" fill="url(#ga31)"/><rect x="45.5" y="242.7" width="464.0" height="8.6" fill="url(#ga32)"/><rect x="45.5" y="250.7" width="464.0" height="8.6" fill="url(#ga33)"/><rect x="45.5" y="258.7" width="464.0" height="8.6" fill="url(#ga34)"/><rect x="45.5" y="266.7" width="464.0" height="8.6" fill="url(#ga35)"/><rect x="45.5" y="274.7" width="464.0" height="8.6" fill="url(#ga36)"/><rect x="45.5" y="282.7" width="464.0" height="8.6" fill="url(#ga37)"/><rect x="45.5" y="290.7" width="464.0" height="8.6" fill="url(#ga38)"/><rect x="45.5" y="298.7" width="464.0" height="8.6" fill="url(#ga39)"/><rect x="45.5" y="306.7" width="464.0" height="8.6" fill="url(#ga40)"/><rect x="45.5" y="314.7" width="464.0" height="8.6" fill="url(#ga41)"/><rect x="45.5" y="322.7" width="464.0" height="8.6" fill="url(#ga42)"/><rect x="45.5" y="330.7" width="464.0" height="8.6" fill="url(#ga43)"/><rect x="45.5" y="338.7" width="464.0" height="8.6" fill="url(#ga44)"/><rect x="45.5" y="346.7" width="464.0" height="8.6" fill="url(#ga45)"/><rect x="45.5" y="354.7" width="464.0" height="8.6" fill="url(#ga46)"/><rect x="45.5" y="362.7" width="464.0" height="8.6" fill="url(#ga47)"/><rect x="45.5" y="370.7" width="464.0" height="8.6" fill="url(#ga48)"/><rect x="45.5" y="378.7" width="464.0" height="8.6" fill="url(#ga49)"/></g>
</g>
<g clip-path="url(#ma)"><line x1="282" y1="109" x2="135" y2="122" stroke="#ffffff" stroke-opacity="0.09" stroke-width="1.4"/><line x1="246" y1="54" x2="195" y2="35" stroke="#ffffff" stroke-opacity="0.06" stroke-width="1.1"/><line x1="202" y1="146" x2="136" y2="163" stroke="#ffffff" stroke-opacity="0.10" stroke-width="2.1"/><line x1="271" y1="159" x2="109" y2="254" stroke="#ffffff" stroke-opacity="0.12" stroke-width="1.3"/><line x1="288" y1="83" x2="195" y2="63" stroke="#000040" stroke-opacity="0.06" stroke-width="1.7"/><line x1="282" y1="167" x2="184" y2="242" stroke="#ffffff" stroke-opacity="0.05" stroke-width="1.2"/><line x1="284" y1="177" x2="217" y2="237" stroke="#000040" stroke-opacity="0.09" stroke-width="1.4"/><line x1="288" y1="217" x2="243" y2="281" stroke="#000040" stroke-opacity="0.09" stroke-width="2.1"/><line x1="304" y1="172" x2="182" y2="303" stroke="#ffffff" stroke-opacity="0.08" stroke-width="1.9"/><line x1="241" y1="75" x2="186" y2="64" stroke="#000040" stroke-opacity="0.11" stroke-width="1.7"/><line x1="330" y1="188" x2="272" y2="309" stroke="#000040" stroke-opacity="0.10" stroke-width="1.5"/><line x1="287" y1="248" x2="234" y2="340" stroke="#000040" stroke-opacity="0.05" stroke-width="1.8"/><line x1="224" y1="215" x2="96" y2="314" stroke="#ffffff" stroke-opacity="0.08" stroke-width="1.8"/><line x1="256" y1="49" x2="189" y2="20" stroke="#ffffff" stroke-opacity="0.05" stroke-width="1.9"/><line x1="273" y1="77" x2="168" y2="52" stroke="#000040" stroke-opacity="0.06" stroke-width="1.5"/><line x1="213" y1="182" x2="66" y2="259" stroke="#000040" stroke-opacity="0.07" stroke-width="1.5"/><line x1="189" y1="128" x2="-2" y2="157" stroke="#ffffff" stroke-opacity="0.06" stroke-width="1.3"/><line x1="238" y1="93" x2="100" y2="85" stroke="#ffffff" stroke-opacity="0.05" stroke-width="1.5"/><line x1="230" y1="124" x2="41" y2="157" stroke="#000040" stroke-opacity="0.09" stroke-width="1.7"/><line x1="317" y1="147" x2="188" y2="260" stroke="#000040" stroke-opacity="0.12" stroke-width="2.0"/><line x1="253" y1="125" x2="189" y2="139" stroke="#000040" stroke-opacity="0.05" stroke-width="1.1"/><line x1="281" y1="91" x2="180" y2="81" stroke="#ffffff" stroke-opacity="0.05" stroke-width="1.2"/><line x1="260" y1="68" x2="209" y2="54" stroke="#000040" stroke-opacity="0.10" stroke-width="1.2"/><line x1="256" y1="97" x2="151" y2="95" stroke="#ffffff" stroke-opacity="0.12" stroke-width="2.2"/><line x1="248" y1="143" x2="190" y2="163" stroke="#ffffff" stroke-opacity="0.08" stroke-width="1.3"/><line x1="329" y1="169" x2="305" y2="210" stroke="#000040" stroke-opacity="0.09" stroke-width="1.2"/><line x1="308" y1="132" x2="197" y2="189" stroke="#000040" stroke-opacity="0.12" stroke-width="1.8"/><line x1="253" y1="99" x2="178" y2="98" stroke="#000040" stroke-opacity="0.09" stroke-width="1.9"/><line x1="273" y1="110" x2="102" y2="128" stroke="#000040" stroke-opacity="0.12" stroke-width="2.0"/><line x1="292" y1="225" x2="252" y2="287" stroke="#000040" stroke-opacity="0.08" stroke-width="1.0"/><line x1="276" y1="59" x2="197" y2="25" stroke="#000040" stroke-opacity="0.13" stroke-width="1.5"/><line x1="319" y1="263" x2="269" y2="422" stroke="#ffffff" stroke-opacity="0.07" stroke-width="1.3"/><line x1="275" y1="89" x2="133" y2="72" stroke="#000040" stroke-opacity="0.12" stroke-width="1.6"/><line x1="244" y1="201" x2="198" y2="238" stroke="#000040" stroke-opacity="0.12" stroke-width="1.9"/><line x1="293" y1="191" x2="248" y2="244" stroke="#000040" stroke-opacity="0.08" stroke-width="2.0"/><line x1="347" y1="202" x2="326" y2="293" stroke="#000040" stroke-opacity="0.11" stroke-width="1.2"/><line x1="285" y1="80" x2="106" y2="37" stroke="#000040" stroke-opacity="0.06" stroke-width="2.0"/><line x1="343" y1="230" x2="325" y2="316" stroke="#000040" stroke-opacity="0.06" stroke-width="1.0"/><line x1="341" y1="229" x2="316" y2="337" stroke="#000040" stroke-opacity="0.08" stroke-width="2.0"/><line x1="326" y1="174" x2="286" y2="240" stroke="#ffffff" stroke-opacity="0.07" stroke-width="1.7"/><line x1="247" y1="99" x2="177" y2="98" stroke="#000040" stroke-opacity="0.08" stroke-width="1.5"/><line x1="218" y1="193" x2="126" y2="248" stroke="#000040" stroke-opacity="0.09" stroke-width="1.6"/><line x1="307" y1="130" x2="206" y2="177" stroke="#ffffff" stroke-opacity="0.05" stroke-width="2.0"/><line x1="242" y1="80" x2="86" y2="54" stroke="#000040" stroke-opacity="0.08" stroke-width="1.6"/><line x1="226" y1="178" x2="170" y2="208" stroke="#000040" stroke-opacity="0.07" stroke-width="1.3"/><line x1="296" y1="197" x2="222" y2="292" stroke="#000040" stroke-opacity="0.12" stroke-width="1.5"/><line x1="265" y1="172" x2="166" y2="240" stroke="#000040" stroke-opacity="0.09" stroke-width="1.6"/><line x1="195" y1="166" x2="53" y2="218" stroke="#000040" stroke-opacity="0.13" stroke-width="1.3"/><line x1="209" y1="189" x2="61" y2="269" stroke="#ffffff" stroke-opacity="0.06" stroke-width="1.5"/><line x1="277" y1="68" x2="220" y2="49" stroke="#000040" stroke-opacity="0.11" stroke-width="2.1"/><line x1="212" y1="70" x2="67" y2="42" stroke="#ffffff" stroke-opacity="0.12" stroke-width="2.2"/><line x1="178" y1="85" x2="69" y2="76" stroke="#ffffff" stroke-opacity="0.13" stroke-width="2.0"/><line x1="248" y1="78" x2="123" y2="56" stroke="#ffffff" stroke-opacity="0.07" stroke-width="1.4"/><line x1="325" y1="148" x2="241" y2="236" stroke="#ffffff" stroke-opacity="0.05" stroke-width="1.4"/><line x1="266" y1="175" x2="220" y2="207" stroke="#000040" stroke-opacity="0.11" stroke-width="2.2"/><line x1="272" y1="72" x2="219" y2="58" stroke="#000040" stroke-opacity="0.07" stroke-width="1.2"/><line x1="191" y1="148" x2="26" y2="192" stroke="#ffffff" stroke-opacity="0.06" stroke-width="2.1"/><line x1="237" y1="177" x2="185" y2="207" stroke="#ffffff" stroke-opacity="0.11" stroke-width="1.5"/><line x1="193" y1="39" x2="58" y2="-7" stroke="#000040" stroke-opacity="0.06" stroke-width="2.0"/><line x1="203" y1="41" x2="94" y2="2" stroke="#ffffff" stroke-opacity="0.09" stroke-width="2.1"/><line x1="284" y1="100" x2="155" y2="100" stroke="#ffffff" stroke-opacity="0.06" stroke-width="1.2"/><line x1="283" y1="67" x2="195" y2="33" stroke="#ffffff" stroke-opacity="0.11" stroke-width="1.3"/><line x1="287" y1="135" x2="196" y2="173" stroke="#ffffff" stroke-opacity="0.07" stroke-width="1.0"/><line x1="284" y1="195" x2="236" y2="248" stroke="#ffffff" stroke-opacity="0.12" stroke-width="1.1"/><line x1="311" y1="195" x2="252" y2="288" stroke="#000040" stroke-opacity="0.08" stroke-width="1.6"/><line x1="236" y1="223" x2="167" y2="286" stroke="#000040" stroke-opacity="0.11" stroke-width="1.8"/><line x1="260" y1="126" x2="204" y2="139" stroke="#ffffff" stroke-opacity="0.06" stroke-width="1.9"/><line x1="280" y1="98" x2="217" y2="97" stroke="#000040" stroke-opacity="0.12" stroke-width="1.8"/><line x1="270" y1="103" x2="176" y2="105" stroke="#ffffff" stroke-opacity="0.06" stroke-width="1.5"/><line x1="176" y1="99" x2="-20" y2="97" stroke="#000040" stroke-opacity="0.07" stroke-width="2.2"/><line x1="255" y1="108" x2="205" y2="112" stroke="#ffffff" stroke-opacity="0.09" stroke-width="1.6"/><line x1="237" y1="85" x2="186" y2="80" stroke="#ffffff" stroke-opacity="0.06" stroke-width="1.5"/><line x1="305" y1="74" x2="219" y2="39" stroke="#ffffff" stroke-opacity="0.10" stroke-width="1.6"/><line x1="280" y1="207" x2="187" y2="316" stroke="#000040" stroke-opacity="0.08" stroke-width="1.4"/><line x1="356" y1="175" x2="329" y2="308" stroke="#000040" stroke-opacity="0.05" stroke-width="2.0"/><line x1="319" y1="221" x2="264" y2="349" stroke="#000040" stroke-opacity="0.06" stroke-width="1.6"/><line x1="211" y1="168" x2="58" y2="233" stroke="#000040" stroke-opacity="0.10" stroke-width="2.1"/><line x1="261" y1="199" x2="203" y2="251" stroke="#ffffff" stroke-opacity="0.06" stroke-width="1.4"/><line x1="201" y1="53" x2="74" y2="17" stroke="#000040" stroke-opacity="0.10" stroke-width="1.8"/><line x1="307" y1="125" x2="153" y2="186" stroke="#000040" stroke-opacity="0.09" stroke-width="1.6"/><line x1="314" y1="147" x2="199" y2="241" stroke="#ffffff" stroke-opacity="0.06" stroke-width="1.3"/><line x1="311" y1="165" x2="211" y2="272" stroke="#000040" stroke-opacity="0.09" stroke-width="1.5"/><line x1="225" y1="154" x2="74" y2="211" stroke="#000040" stroke-opacity="0.10" stroke-width="1.1"/><line x1="271" y1="80" x2="114" y2="48" stroke="#ffffff" stroke-opacity="0.10" stroke-width="1.0"/><line x1="275" y1="65" x2="136" y2="15" stroke="#000040" stroke-opacity="0.10" stroke-width="1.3"/><line x1="256" y1="152" x2="150" y2="200" stroke="#ffffff" stroke-opacity="0.12" stroke-width="1.2"/><line x1="336" y1="261" x2="327" y2="305" stroke="#ffffff" stroke-opacity="0.12" stroke-width="2.2"/><line x1="273" y1="131" x2="196" y2="155" stroke="#000040" stroke-opacity="0.07" stroke-width="1.7"/><line x1="237" y1="72" x2="50" y2="32" stroke="#ffffff" stroke-opacity="0.12" stroke-width="1.6"/><line x1="314" y1="229" x2="284" y2="296" stroke="#000040" stroke-opacity="0.09" stroke-width="1.0"/><line x1="255" y1="44" x2="152" y2="-5" stroke="#ffffff" stroke-opacity="0.06" stroke-width="1.4"/><line x1="193" y1="115" x2="143" y2="119" stroke="#000040" stroke-opacity="0.12" stroke-width="1.1"/><line x1="325" y1="233" x2="274" y2="384" stroke="#ffffff" stroke-opacity="0.08" stroke-width="1.5"/><line x1="350" y1="224" x2="336" y2="311" stroke="#ffffff" stroke-opacity="0.07" stroke-width="1.1"/><line x1="202" y1="52" x2="114" y2="27" stroke="#000040" stroke-opacity="0.07" stroke-width="1.3"/><line x1="287" y1="137" x2="193" y2="178" stroke="#000040" stroke-opacity="0.12" stroke-width="2.0"/><line x1="228" y1="205" x2="83" y2="311" stroke="#000040" stroke-opacity="0.11" stroke-width="1.1"/><line x1="292" y1="186" x2="192" y2="296" stroke="#000040" stroke-opacity="0.07" stroke-width="1.1"/><line x1="347" y1="171" x2="313" y2="270" stroke="#ffffff" stroke-opacity="0.07" stroke-width="1.9"/><line x1="352" y1="187" x2="324" y2="311" stroke="#ffffff" stroke-opacity="0.09" stroke-width="1.5"/><line x1="282" y1="85" x2="202" y2="72" stroke="#000040" stroke-opacity="0.09" stroke-width="1.3"/><line x1="308" y1="261" x2="270" y2="356" stroke="#ffffff" stroke-opacity="0.07" stroke-width="1.1"/><line x1="290" y1="110" x2="205" y2="121" stroke="#ffffff" stroke-opacity="0.10" stroke-width="2.1"/><line x1="298" y1="185" x2="232" y2="262" stroke="#000040" stroke-opacity="0.08" stroke-width="1.4"/><line x1="273" y1="65" x2="94" y2="0" stroke="#ffffff" stroke-opacity="0.09" stroke-width="1.8"/><line x1="332" y1="177" x2="296" y2="248" stroke="#ffffff" stroke-opacity="0.08" stroke-width="1.5"/><line x1="330" y1="250" x2="289" y2="399" stroke="#ffffff" stroke-opacity="0.05" stroke-width="1.9"/><line x1="327" y1="206" x2="280" y2="316" stroke="#ffffff" stroke-opacity="0.08" stroke-width="2.1"/><line x1="287" y1="237" x2="197" y2="384" stroke="#ffffff" stroke-opacity="0.06" stroke-width="1.2"/><line x1="232" y1="165" x2="64" y2="242" stroke="#000040" stroke-opacity="0.10" stroke-width="1.9"/><line x1="239" y1="144" x2="187" y2="161" stroke="#000040" stroke-opacity="0.07" stroke-width="2.1"/><line x1="290" y1="163" x2="239" y2="203" stroke="#ffffff" stroke-opacity="0.10" stroke-width="1.8"/><line x1="295" y1="80" x2="173" y2="47" stroke="#000040" stroke-opacity="0.08" stroke-width="1.3"/><line x1="314" y1="137" x2="239" y2="186" stroke="#ffffff" stroke-opacity="0.13" stroke-width="1.8"/><line x1="324" y1="205" x2="293" y2="272" stroke="#ffffff" stroke-opacity="0.13" stroke-width="1.8"/><line x1="298" y1="105" x2="174" y2="113" stroke="#000040" stroke-opacity="0.08" stroke-width="1.3"/><line x1="236" y1="214" x2="176" y2="264" stroke="#ffffff" stroke-opacity="0.08" stroke-width="1.5"/><line x1="305" y1="159" x2="188" y2="264" stroke="#000040" stroke-opacity="0.09" stroke-width="1.2"/><line x1="349" y1="192" x2="315" y2="337" stroke="#ffffff" stroke-opacity="0.07" stroke-width="1.9"/><line x1="178" y1="109" x2="53" y2="115" stroke="#ffffff" stroke-opacity="0.07" stroke-width="1.5"/><line x1="233" y1="216" x2="182" y2="258" stroke="#ffffff" stroke-opacity="0.07" stroke-width="2.2"/><line x1="297" y1="84" x2="239" y2="72" stroke="#ffffff" stroke-opacity="0.12" stroke-width="2.1"/><line x1="248" y1="234" x2="132" y2="361" stroke="#ffffff" stroke-opacity="0.06" stroke-width="2.1"/><line x1="327" y1="151" x2="238" y2="253" stroke="#ffffff" stroke-opacity="0.08" stroke-width="1.4"/><line x1="302" y1="89" x2="212" y2="74" stroke="#ffffff" stroke-opacity="0.13" stroke-width="1.1"/><line x1="351" y1="181" x2="329" y2="267" stroke="#000040" stroke-opacity="0.12" stroke-width="1.5"/><line x1="251" y1="54" x2="155" y2="17" stroke="#000040" stroke-opacity="0.07" stroke-width="1.4"/><line x1="346" y1="160" x2="309" y2="249" stroke="#000040" stroke-opacity="0.11" stroke-width="1.0"/><line x1="301" y1="71" x2="132" y2="1" stroke="#ffffff" stroke-opacity="0.11" stroke-width="2.1"/><line x1="267" y1="113" x2="75" y2="136" stroke="#000040" stroke-opacity="0.07" stroke-width="1.9"/><line x1="266" y1="109" x2="215" y2="113" stroke="#000040" stroke-opacity="0.12" stroke-width="1.8"/><line x1="353" y1="161" x2="332" y2="231" stroke="#ffffff" stroke-opacity="0.13" stroke-width="2.1"/><line x1="271" y1="120" x2="160" y2="143" stroke="#ffffff" stroke-opacity="0.12" stroke-width="1.2"/><line x1="288" y1="222" x2="201" y2="350" stroke="#000040" stroke-opacity="0.10" stroke-width="1.4"/><line x1="255" y1="110" x2="88" y2="125" stroke="#ffffff" stroke-opacity="0.07" stroke-width="1.9"/><line x1="293" y1="98" x2="238" y2="96" stroke="#000040" stroke-opacity="0.08" stroke-width="2.2"/><line x1="300" y1="258" x2="267" y2="329" stroke="#ffffff" stroke-opacity="0.06" stroke-width="1.6"/><line x1="288" y1="183" x2="232" y2="238" stroke="#ffffff" stroke-opacity="0.10" stroke-width="1.8"/><line x1="265" y1="224" x2="176" y2="326" stroke="#ffffff" stroke-opacity="0.12" stroke-width="1.4"/><line x1="272" y1="156" x2="138" y2="231" stroke="#ffffff" stroke-opacity="0.07" stroke-width="1.3"/><line x1="191" y1="65" x2="57" y2="40" stroke="#ffffff" stroke-opacity="0.08" stroke-width="2.2"/><line x1="282" y1="139" x2="129" y2="204" stroke="#000040" stroke-opacity="0.13" stroke-width="1.1"/><line x1="209" y1="159" x2="47" y2="218" stroke="#000040" stroke-opacity="0.05" stroke-width="1.4"/><line x1="280" y1="77" x2="93" y2="30" stroke="#000040" stroke-opacity="0.12" stroke-width="1.4"/><line x1="321" y1="201" x2="286" y2="270" stroke="#000040" stroke-opacity="0.13" stroke-width="1.1"/><line x1="250" y1="177" x2="184" y2="219" stroke="#ffffff" stroke-opacity="0.06" stroke-width="1.2"/><line x1="223" y1="97" x2="75" y2="94" stroke="#ffffff" stroke-opacity="0.05" stroke-width="1.4"/><line x1="306" y1="158" x2="238" y2="217" stroke="#ffffff" stroke-opacity="0.11" stroke-width="1.7"/><line x1="294" y1="73" x2="194" y2="37" stroke="#000040" stroke-opacity="0.10" stroke-width="1.1"/><line x1="214" y1="73" x2="105" y2="54" stroke="#ffffff" stroke-opacity="0.07" stroke-width="2.1"/></g>
<g clip-path="url(#ma)" mask="url(#nma)" opacity="0.28"><rect x="77" y="18" width="392" height="331" filter="url(#nzw)"/><rect x="77" y="18" width="392" height="331" filter="url(#nzd)"/></g>
<g clip-path="url(#ma)"><g filter="url(#b3)">
<polyline points="242.0,205.0 262.0,208.0 285.0,218.0 300.0,227.0 318.0,235.0 334.0,242.0 346.0,249.0" fill="none" stroke="#c8ff37" stroke-width="9" stroke-linejoin="round" stroke-linecap="round"/>
</g><g filter="url(#b2)">
<polyline points="262.0,208.0 272.0,210.0 285.0,218.0 300.0,227.0 315.0,234.0" fill="none" stroke="#ffed00" stroke-width="4" stroke-linejoin="round" stroke-linecap="round"/>
<ellipse cx="277" cy="212" rx="4" ry="2.5" fill="#ff8700"/>
<ellipse cx="296" cy="227" rx="5" ry="2.5" fill="#ff7800"/>
</g></g>
<line x1="60" y1="198" x2="172" y2="163" stroke="#fff" stroke-width="4"/>
<line x1="172" y1="163" x2="252" y2="139" stroke="#0000d7" stroke-width="3" opacity="0.8"/>
<line x1="370.5" y1="28" x2="370.5" y2="95" stroke="#fff" stroke-width="1.5" opacity="0.9"/>
<line x1="371" y1="100.5" x2="316.2" y2="119.4" stroke="#fff" stroke-width="1.4"/>
<line x1="371" y1="100.5" x2="315.0" y2="115.5" stroke="#fff" stroke-width="1.4"/>
<line x1="371" y1="100.5" x2="314.1" y2="111.6" stroke="#fff" stroke-width="1.4"/>
<line x1="371" y1="100.5" x2="313.1" y2="96.5" stroke="#fff" stroke-width="1.4"/>
<line x1="371" y1="100.5" x2="314.3" y2="88.4" stroke="#fff" stroke-width="1.4"/>
<line x1="371" y1="100.5" x2="316.5" y2="80.7" stroke="#fff" stroke-width="1.4"/>
<line x1="371" y1="100.5" x2="318.9" y2="75.1" stroke="#fff" stroke-width="1.4"/>
<circle cx="371" cy="100.3" r="8" fill="#fff"/>
<line x1="370.6" y1="101.6" x2="222" y2="350" stroke="#000" stroke-width="3" stroke-dasharray="15 9"/>
</g>
<g clip-path="url(#axb)"><g clip-path="url(#mb)">
<defs><linearGradient id="gb0" gradientUnits="userSpaceOnUse" x1="829.7" y1="0" x2="1221.7" y2="0"><stop offset="0" stop-color="#0000de"/><stop offset="0.02" stop-color="#0000de"/><stop offset="0.041" stop-color="#0000de"/><stop offset="0.061" stop-color="#0000de"/><stop offset="0.082" stop-color="#0000de"/><stop offset="0.102" stop-color="#0000de"/><stop offset="0.122" stop-color="#0000de"/><stop offset="0.143" stop-color="#0000de"/><stop offset="0.163" stop-color="#0000de"/><stop offset="0.184" stop-color="#0000de"/><stop offset="0.204" stop-color="#0000de"/><stop offset="0.224" stop-color="#0000de"/><stop offset="0.245" stop-color="#0000de"/><stop offset="0.265" stop-color="#0000de"/><stop offset="0.286" stop-color="#0000de"/><stop offset="0.306" stop-color="#0000de"/><stop offset="0.327" stop-color="#0000de"/><stop offset="0.347" stop-color="#0000de"/><stop offset="0.367" stop-color="#0000de"/><stop offset="0.388" stop-color="#0000de"/><stop offset="0.408" stop-color="#0000de"/><stop offset="0.429" stop-color="#0000de"/><stop offset="0.449" stop-color="#0000de"/><stop offset="0.469" stop-color="#0000de"/><stop offset="0.49" stop-color="#0000de"/><stop offset="0.51" stop-color="#0000de"/><stop offset="0.531" stop-color="#0000de"/><stop offset="0.551" stop-color="#0000de"/><stop offset="0.571" stop-color="#0000de"/><stop offset="0.592" stop-color="#0000de"/><stop offset="0.612" stop-color="#0000de"/><stop offset="0.633" stop-color="#0000de"/><stop offset="0.653" stop-color="#0000de"/><stop offset="0.673" stop-color="#0000de"/><stop offset="0.694" stop-color="#0000de"/><stop offset="0.714" stop-color="#0000de"/><stop offset="0.735" stop-color="#0000de"/><stop offset="0.755" stop-color="#0000de"/><stop offset="0.776" stop-color="#0000de"/><stop offset="0.796" stop-color="#0000de"/><stop offset="0.816" stop-color="#0000de"/><stop offset="0.837" stop-color="#0000de"/><stop offset="0.857" stop-color="#0000de"/><stop offset="0.878" stop-color="#0000de"/><stop offset="0.898" stop-color="#0000de"/><stop offset="0.918" stop-color="#0000de"/><stop offset="0.939" stop-color="#0000de"/><stop offset="0.959" stop-color="#0000de"/><stop offset="0.98" stop-color="#0000de"/><stop offset="1" stop-color="#0000de"/></linearGradient><linearGradient id="gb1" gradientUnits="userSpaceOnUse" x1="829.7" y1="0" x2="1221.7" y2="0"><stop offset="0" stop-color="#0000de"/><stop offset="0.02" stop-color="#0000de"/><stop offset="0.041" stop-color="#0000de"/><stop offset="0.061" stop-color="#0000de"/><stop offset="0.082" stop-color="#0000de"/><stop offset="0.102" stop-color="#0000de"/><stop offset="0.122" stop-color="#0000de"/><stop offset="0.143" stop-color="#0000de"/><stop offset="0.163" stop-color="#0000de"/><stop offset="0.184" stop-color="#0000de"/><stop offset="0.204" stop-color="#0000de"/><stop offset="0.224" stop-color="#0000de"/><stop offset="0.245" stop-color="#0000de"/><stop offset="0.265" stop-color="#0000de"/><stop offset="0.286" stop-color="#0000de"/><stop offset="0.306" stop-color="#0000de"/><stop offset="0.327" stop-color="#0000de"/><stop offset="0.347" stop-color="#0000de"/><stop offset="0.367" stop-color="#0000de"/><stop offset="0.388" stop-color="#0000de"/><stop offset="0.408" stop-color="#0000de"/><stop offset="0.429" stop-color="#0000de"/><stop offset="0.449" stop-color="#0000de"/><stop offset="0.469" stop-color="#0000de"/><stop offset="0.49" stop-color="#0000de"/><stop offset="0.51" stop-color="#0000de"/><stop offset="0.531" stop-color="#0000de"/><stop offset="0.551" stop-color="#0000de"/><stop offset="0.571" stop-color="#0000de"/><stop offset="0.592" stop-color="#0000de"/><stop offset="0.612" stop-color="#0000de"/><stop offset="0.633" stop-color="#0000de"/><stop offset="0.653" stop-color="#0000de"/><stop offset="0.673" stop-color="#0000de"/><stop offset="0.694" stop-color="#0000de"/><stop offset="0.714" stop-color="#0000de"/><stop offset="0.735" stop-color="#0000de"/><stop offset="0.755" stop-color="#0000de"/><stop offset="0.776" stop-color="#0000de"/><stop offset="0.796" stop-color="#0000de"/><stop offset="0.816" stop-color="#0000de"/><stop offset="0.837" stop-color="#0000de"/><stop offset="0.857" stop-color="#0000de"/><stop offset="0.878" stop-color="#0000de"/><stop offset="0.898" stop-color="#0000de"/><stop offset="0.918" stop-color="#0000de"/><stop offset="0.939" stop-color="#0000de"/><stop offset="0.959" stop-color="#0000de"/><stop offset="0.98" stop-color="#0000de"/><stop offset="1" stop-color="#0000de"/></linearGradient><linearGradient id="gb2" gradientUnits="userSpaceOnUse" x1="829.7" y1="0" x2="1221.7" y2="0"><stop offset="0" stop-color="#0000de"/><stop offset="0.02" stop-color="#0000de"/><stop offset="0.041" stop-color="#0000de"/><stop offset="0.061" stop-color="#0000de"/><stop offset="0.082" stop-color="#0000de"/><stop offset="0.102" stop-color="#0000de"/><stop offset="0.122" stop-color="#0000de"/><stop offset="0.143" stop-color="#0000de"/><stop offset="0.163" stop-color="#0000de"/><stop offset="0.184" stop-color="#0000de"/><stop offset="0.204" stop-color="#0000de"/><stop offset="0.224" stop-color="#0000de"/><stop offset="0.245" stop-color="#0000de"/><stop offset="0.265" stop-color="#0000de"/><stop offset="0.286" stop-color="#0000de"/><stop offset="0.306" stop-color="#0000de"/><stop offset="0.327" stop-color="#0000de"/><stop offset="0.347" stop-color="#0000de"/><stop offset="0.367" stop-color="#0000de"/><stop offset="0.388" stop-color="#0000de"/><stop offset="0.408" stop-color="#0000de"/><stop offset="0.429" stop-color="#0000de"/><stop offset="0.449" stop-color="#0000de"/><stop offset="0.469" stop-color="#0000de"/><stop offset="0.49" stop-color="#0000de"/><stop offset="0.51" stop-color="#0000de"/><stop offset="0.531" stop-color="#0000de"/><stop offset="0.551" stop-color="#0000de"/><stop offset="0.571" stop-color="#0000de"/><stop offset="0.592" stop-color="#0000de"/><stop offset="0.612" stop-color="#0000de"/><stop offset="0.633" stop-color="#0000de"/><stop offset="0.653" stop-color="#0000de"/><stop offset="0.673" stop-color="#0000de"/><stop offset="0.694" stop-color="#0000de"/><stop offset="0.714" stop-color="#0000de"/><stop offset="0.735" stop-color="#0000de"/><stop offset="0.755" stop-color="#0000de"/><stop offset="0.776" stop-color="#0000de"/><stop offset="0.796" stop-color="#0000de"/><stop offset="0.816" stop-color="#0000de"/><stop offset="0.837" stop-color="#0000de"/><stop offset="0.857" stop-color="#0000de"/><stop offset="0.878" stop-color="#0000de"/><stop offset="0.898" stop-color="#0000de"/><stop offset="0.918" stop-color="#0000de"/><stop offset="0.939" stop-color="#0000de"/><stop offset="0.959" stop-color="#0000de"/><stop offset="0.98" stop-color="#0000de"/><stop offset="1" stop-color="#0000de"/></linearGradient><linearGradient id="gb3" gradientUnits="userSpaceOnUse" x1="829.7" y1="0" x2="1221.7" y2="0"><stop offset="0" stop-color="#0000de"/><stop offset="0.02" stop-color="#0000de"/><stop offset="0.041" stop-color="#0000de"/><stop offset="0.061" stop-color="#0000de"/><stop offset="0.082" stop-color="#0000de"/><stop offset="0.102" stop-color="#0000de"/><stop offset="0.122" stop-color="#0000de"/><stop offset="0.143" stop-color="#0000de"/><stop offset="0.163" stop-color="#0000de"/><stop offset="0.184" stop-color="#0000de"/><stop offset="0.204" stop-color="#0000de"/><stop offset="0.224" stop-color="#0000de"/><stop offset="0.245" stop-color="#0000de"/><stop offset="0.265" stop-color="#0000de"/><stop offset="0.286" stop-color="#0000de"/><stop offset="0.306" stop-color="#0000de"/><stop offset="0.327" stop-color="#0000de"/><stop offset="0.347" stop-color="#0000de"/><stop offset="0.367" stop-color="#0000de"/><stop offset="0.388" stop-color="#0000de"/><stop offset="0.408" stop-color="#0000de"/><stop offset="0.429" stop-color="#0000de"/><stop offset="0.449" stop-color="#0000de"/><stop offset="0.469" stop-color="#0000de"/><stop offset="0.49" stop-color="#0000de"/><stop offset="0.51" stop-color="#0000de"/><stop offset="0.531" stop-color="#0000de"/><stop offset="0.551" stop-color="#0000de"/><stop offset="0.571" stop-color="#0000de"/><stop offset="0.592" stop-color="#0000de"/><stop offset="0.612" stop-color="#0000de"/><stop offset="0.633" stop-color="#0000de"/><stop offset="0.653" stop-color="#0000de"/><stop offset="0.673" stop-color="#0000de"/><stop offset="0.694" stop-color="#0000de"/><stop offset="0.714" stop-color="#0000de"/><stop offset="0.735" stop-color="#0000de"/><stop offset="0.755" stop-color="#0000de"/><stop offset="0.776" stop-color="#0000de"/><stop offset="0.796" stop-color="#0000de"/><stop offset="0.816" stop-color="#0000de"/><stop offset="0.837" stop-color="#0000de"/><stop offset="0.857" stop-color="#0000de"/><stop offset="0.878" stop-color="#0000de"/><stop offset="0.898" stop-color="#0000de"/><stop offset="0.918" stop-color="#0000de"/><stop offset="0.939" stop-color="#0000de"/><stop offset="0.959" stop-color="#0000de"/><stop offset="0.98" stop-color="#0000de"/><stop offset="1" stop-color="#0000de"/></linearGradient><linearGradient id="gb4" gradientUnits="userSpaceOnUse" x1="829.7" y1="0" x2="1221.7" y2="0"><stop offset="0" stop-color="#0000de"/><stop offset="0.02" stop-color="#0000de"/><stop offset="0.041" stop-color="#0000de"/><stop offset="0.061" stop-color="#0000de"/><stop offset="0.082" stop-color="#0000de"/><stop offset="0.102" stop-color="#0000de"/><stop offset="0.122" stop-color="#0000de"/><stop offset="0.143" stop-color="#0000de"/><stop offset="0.163" stop-color="#0000de"/><stop offset="0.184" stop-color="#0000de"/><stop offset="0.204" stop-color="#0000de"/><stop offset="0.224" stop-color="#0000de"/><stop offset="0.245" stop-color="#0000de"/><stop offset="0.265" stop-color="#0000de"/><stop offset="0.286" stop-color="#0000de"/><stop offset="0.306" stop-color="#0000de"/><stop offset="0.327" stop-color="#0000de"/><stop offset="0.347" stop-color="#0000de"/><stop offset="0.367" stop-color="#0000de"/><stop offset="0.388" stop-color="#0000de"/><stop offset="0.408" stop-color="#0000de"/><stop offset="0.429" stop-color="#0000de"/><stop offset="0.449" stop-color="#0000de"/><stop offset="0.469" stop-color="#0000de"/><stop offset="0.49" stop-color="#0000de"/><stop offset="0.51" stop-color="#0000de"/><stop offset="0.531" stop-color="#0000de"/><stop offset="0.551" stop-color="#0000de"/><stop offset="0.571" stop-color="#0000de"/><stop offset="0.592" stop-color="#0000de"/><stop offset="0.612" stop-color="#0000de"/><stop offset="0.633" stop-color="#0000de"/><stop offset="0.653" stop-color="#0000de"/><stop offset="0.673" stop-color="#0000de"/><stop offset="0.694" stop-color="#0000de"/><stop offset="0.714" stop-color="#0000de"/><stop offset="0.735" stop-color="#0000de"/><stop offset="0.755" stop-color="#0000de"/><stop offset="0.776" stop-color="#0000de"/><stop offset="0.796" stop-color="#0000de"/><stop offset="0.816" stop-color="#0000de"/><stop offset="0.837" stop-color="#0000de"/><stop offset="0.857" stop-color="#0000de"/><stop offset="0.878" stop-color="#0000de"/><stop offset="0.898" stop-color="#0000de"/><stop offset="0.918" stop-color="#0000de"/><stop offset="0.939" stop-color="#0000de"/><stop offset="0.959" stop-color="#0000de"/><stop offset="0.98" stop-color="#0000de"/><stop offset="1" stop-color="#0000de"/></linearGradient><linearGradient id="gb5" gradientUnits="userSpaceOnUse" x1="829.7" y1="0" x2="1221.7" y2="0"><stop offset="0" stop-color="#0000de"/><stop offset="0.02" stop-color="#0000de"/><stop offset="0.041" stop-color="#0000de"/><stop offset="0.061" stop-color="#0000de"/><stop offset="0.082" stop-color="#0000de"/><stop offset="0.102" stop-color="#0000de"/><stop offset="0.122" stop-color="#0000de"/><stop offset="0.143" stop-color="#0000de"/><stop offset="0.163" stop-color="#0000de"/><stop offset="0.184" stop-color="#0000de"/><stop offset="0.204" stop-color="#0000de"/><stop offset="0.224" stop-color="#0000de"/><stop offset="0.245" stop-color="#0000de"/><stop offset="0.265" stop-color="#0000de"/><stop offset="0.286" stop-color="#0000de"/><stop offset="0.306" stop-color="#0000de"/><stop offset="0.327" stop-color="#0000de"/><stop offset="0.347" stop-color="#0000de"/><stop offset="0.367" stop-color="#0000de"/><stop offset="0.388" stop-color="#0000de"/><stop offset="0.408" stop-color="#0000de"/><stop offset="0.429" stop-color="#0000de"/><stop offset="0.449" stop-color="#0000de"/><stop offset="0.469" stop-color="#0000de"/><stop offset="0.49" stop-color="#0000de"/><stop offset="0.51" stop-color="#0000de"/><stop offset="0.531" stop-color="#0000de"/><stop offset="0.551" stop-color="#0000de"/><stop offset="0.571" stop-color="#0000de"/><stop offset="0.592" stop-color="#0000de"/><stop offset="0.612" stop-color="#0000de"/><stop offset="0.633" stop-color="#0000de"/><stop offset="0.653" stop-color="#0000de"/><stop offset="0.673" stop-color="#0000de"/><stop offset="0.694" stop-color="#0000de"/><stop offset="0.714" stop-color="#0000de"/><stop offset="0.735" stop-color="#0000de"/><stop offset="0.755" stop-color="#0000de"/><stop offset="0.776" stop-color="#0000de"/><stop offset="0.796" stop-color="#0000de"/><stop offset="0.816" stop-color="#0000de"/><stop offset="0.837" stop-color="#0000de"/><stop offset="0.857" stop-color="#0000de"/><stop offset="0.878" stop-color="#0000de"/><stop offset="0.898" stop-color="#0000de"/><stop offset="0.918" stop-color="#0000de"/><stop offset="0.939" stop-color="#0000de"/><stop offset="0.959" stop-color="#0000de"/><stop offset="0.98" stop-color="#0000de"/><stop offset="1" stop-color="#0000de"/></linearGradient><linearGradient id="gb6" gradientUnits="userSpaceOnUse" x1="829.7" y1="0" x2="1221.7" y2="0"><stop offset="0" stop-color="#0000de"/><stop offset="0.02" stop-color="#0000de"/><stop offset="0.041" stop-color="#0000de"/><stop offset="0.061" stop-color="#0000de"/><stop offset="0.082" stop-color="#0000de"/><stop offset="0.102" stop-color="#0000de"/><stop offset="0.122" stop-color="#0000de"/><stop offset="0.143" stop-color="#0000de"/><stop offset="0.163" stop-color="#0000de"/><stop offset="0.184" stop-color="#0000de"/><stop offset="0.204" stop-color="#0000de"/><stop offset="0.224" stop-color="#0000de"/><stop offset="0.245" stop-color="#0000de"/><stop offset="0.265" stop-color="#0000de"/><stop offset="0.286" stop-color="#0000de"/><stop offset="0.306" stop-color="#0000de"/><stop offset="0.327" stop-color="#0000de"/><stop offset="0.347" stop-color="#0000de"/><stop offset="0.367" stop-color="#0000de"/><stop offset="0.388" stop-color="#0000de"/><stop offset="0.408" stop-color="#0000de"/><stop offset="0.429" stop-color="#0000de"/><stop offset="0.449" stop-color="#0000de"/><stop offset="0.469" stop-color="#0000de"/><stop offset="0.49" stop-color="#0000de"/><stop offset="0.51" stop-color="#0000de"/><stop offset="0.531" stop-color="#0000de"/><stop offset="0.551" stop-color="#0000de"/><stop offset="0.571" stop-color="#0000de"/><stop offset="0.592" stop-color="#0000de"/><stop offset="0.612" stop-color="#0000de"/><stop offset="0.633" stop-color="#0000de"/><stop offset="0.653" stop-color="#0000de"/><stop offset="0.673" stop-color="#0000de"/><stop offset="0.694" stop-color="#0000de"/><stop offset="0.714" stop-color="#0000de"/><stop offset="0.735" stop-color="#0000de"/><stop offset="0.755" stop-color="#0000de"/><stop offset="0.776" stop-color="#0000de"/><stop offset="0.796" stop-color="#0000de"/><stop offset="0.816" stop-color="#0000de"/><stop offset="0.837" stop-color="#0000de"/><stop offset="0.857" stop-color="#0000de"/><stop offset="0.878" stop-color="#0000de"/><stop offset="0.898" stop-color="#0000de"/><stop offset="0.918" stop-color="#0000de"/><stop offset="0.939" stop-color="#0000de"/><stop offset="0.959" stop-color="#0000de"/><stop offset="0.98" stop-color="#0000de"/><stop offset="1" stop-color="#0000de"/></linearGradient><linearGradient id="gb7" gradientUnits="userSpaceOnUse" x1="829.7" y1="0" x2="1221.7" y2="0"><stop offset="0" stop-color="#0000de"/><stop offset="0.02" stop-color="#0000de"/><stop offset="0.041" stop-color="#0000de"/><stop offset="0.061" stop-color="#0000de"/><stop offset="0.082" stop-color="#0000de"/><stop offset="0.102" stop-color="#0000de"/><stop offset="0.122" stop-color="#0000de"/><stop offset="0.143" stop-color="#0000de"/><stop offset="0.163" stop-color="#0000de"/><stop offset="0.184" stop-color="#0000de"/><stop offset="0.204" stop-color="#0000de"/><stop offset="0.224" stop-color="#0000de"/><stop offset="0.245" stop-color="#0000de"/><stop offset="0.265" stop-color="#0000de"/><stop offset="0.286" stop-color="#0000de"/><stop offset="0.306" stop-color="#0000de"/><stop offset="0.327" stop-color="#0000de"/><stop offset="0.347" stop-color="#0000de"/><stop offset="0.367" stop-color="#0000de"/><stop offset="0.388" stop-color="#0000de"/><stop offset="0.408" stop-color="#0000de"/><stop offset="0.429" stop-color="#0000de"/><stop offset="0.449" stop-color="#0000de"/><stop offset="0.469" stop-color="#0000de"/><stop offset="0.49" stop-color="#0000de"/><stop offset="0.51" stop-color="#0000de"/><stop offset="0.531" stop-color="#0000de"/><stop offset="0.551" stop-color="#0000de"/><stop offset="0.571" stop-color="#0000de"/><stop offset="0.592" stop-color="#0000de"/><stop offset="0.612" stop-color="#0000de"/><stop offset="0.633" stop-color="#0000de"/><stop offset="0.653" stop-color="#0000de"/><stop offset="0.673" stop-color="#0000de"/><stop offset="0.694" stop-color="#0000de"/><stop offset="0.714" stop-color="#0000de"/><stop offset="0.735" stop-color="#0000de"/><stop offset="0.755" stop-color="#0000de"/><stop offset="0.776" stop-color="#0000de"/><stop offset="0.796" stop-color="#0000de"/><stop offset="0.816" stop-color="#0000de"/><stop offset="0.837" stop-color="#0000de"/><stop offset="0.857" stop-color="#0000de"/><stop offset="0.878" stop-color="#0000de"/><stop offset="0.898" stop-color="#0000de"/><stop offset="0.918" stop-color="#0000de"/><stop offset="0.939" stop-color="#0000de"/><stop offset="0.959" stop-color="#0000de"/><stop offset="0.98" stop-color="#0000de"/><stop offset="1" stop-color="#0000de"/></linearGradient><linearGradient id="gb8" gradientUnits="userSpaceOnUse" x1="829.7" y1="0" x2="1221.7" y2="0"><stop offset="0" stop-color="#0000de"/><stop offset="0.02" stop-color="#0000de"/><stop offset="0.041" stop-color="#0000de"/><stop offset="0.061" stop-color="#0000de"/><stop offset="0.082" stop-color="#0000de"/><stop offset="0.102" stop-color="#0000de"/><stop offset="0.122" stop-color="#0000de"/><stop offset="0.143" stop-color="#0000de"/><stop offset="0.163" stop-color="#0000de"/><stop offset="0.184" stop-color="#0000de"/><stop offset="0.204" stop-color="#0000de"/><stop offset="0.224" stop-color="#0000de"/><stop offset="0.245" stop-color="#0000de"/><stop offset="0.265" stop-color="#0000de"/><stop offset="0.286" stop-color="#0000de"/><stop offset="0.306" stop-color="#0000de"/><stop offset="0.327" stop-color="#0000de"/><stop offset="0.347" stop-color="#0000de"/><stop offset="0.367" stop-color="#0000de"/><stop offset="0.388" stop-color="#0000de"/><stop offset="0.408" stop-color="#0000de"/><stop offset="0.429" stop-color="#0000de"/><stop offset="0.449" stop-color="#0000de"/><stop offset="0.469" stop-color="#0000de"/><stop offset="0.49" stop-color="#0000de"/><stop offset="0.51" stop-color="#0000de"/><stop offset="0.531" stop-color="#0000de"/><stop offset="0.551" stop-color="#0000de"/><stop offset="0.571" stop-color="#0000de"/><stop offset="0.592" stop-color="#0000de"/><stop offset="0.612" stop-color="#0000de"/><stop offset="0.633" stop-color="#0000de"/><stop offset="0.653" stop-color="#0000de"/><stop offset="0.673" stop-color="#0000de"/><stop offset="0.694" stop-color="#0000de"/><stop offset="0.714" stop-color="#0000de"/><stop offset="0.735" stop-color="#0000de"/><stop offset="0.755" stop-color="#0000de"/><stop offset="0.776" stop-color="#0000de"/><stop offset="0.796" stop-color="#0000de"/><stop offset="0.816" stop-color="#0000de"/><stop offset="0.837" stop-color="#0000de"/><stop offset="0.857" stop-color="#0000de"/><stop offset="0.878" stop-color="#0000de"/><stop offset="0.898" stop-color="#0000de"/><stop offset="0.918" stop-color="#0000de"/><stop offset="0.939" stop-color="#0000de"/><stop offset="0.959" stop-color="#0000de"/><stop offset="0.98" stop-color="#0000de"/><stop offset="1" stop-color="#0000de"/></linearGradient><linearGradient id="gb9" gradientUnits="userSpaceOnUse" x1="829.7" y1="0" x2="1221.7" y2="0"><stop offset="0" stop-color="#0000de"/><stop offset="0.02" stop-color="#0000de"/><stop offset="0.041" stop-color="#0000de"/><stop offset="0.061" stop-color="#0000de"/><stop offset="0.082" stop-color="#0000de"/><stop offset="0.102" stop-color="#0000de"/><stop offset="0.122" stop-color="#0000de"/><stop offset="0.143" stop-color="#0000de"/><stop offset="0.163" stop-color="#0000de"/><stop offset="0.184" stop-color="#0000de"/><stop offset="0.204" stop-color="#0000de"/><stop offset="0.224" stop-color="#0000de"/><stop offset="0.245" stop-color="#0000de"/><stop offset="0.265" stop-color="#0000de"/><stop offset="0.286" stop-color="#0000de"/><stop offset="0.306" stop-color="#0000de"/><stop offset="0.327" stop-color="#0000de"/><stop offset="0.347" stop-color="#0000de"/><stop offset="0.367" stop-color="#0000de"/><stop offset="0.388" stop-color="#0000de"/><stop offset="0.408" stop-color="#0000de"/><stop offset="0.429" stop-color="#0000de"/><stop offset="0.449" stop-color="#0000de"/><stop offset="0.469" stop-color="#0000de"/><stop offset="0.49" stop-color="#0000de"/><stop offset="0.51" stop-color="#0000de"/><stop offset="0.531" stop-color="#0000de"/><stop offset="0.551" stop-color="#0000de"/><stop offset="0.571" stop-color="#0000de"/><stop offset="0.592" stop-color="#0000de"/><stop offset="0.612" stop-color="#0000de"/><stop offset="0.633" stop-color="#0000de"/><stop offset="0.653" stop-color="#0000de"/><stop offset="0.673" stop-color="#0000de"/><stop offset="0.694" stop-color="#0000de"/><stop offset="0.714" stop-color="#0000de"/><stop offset="0.735" stop-color="#0000de"/><stop offset="0.755" stop-color="#0000de"/><stop offset="0.776" stop-color="#0000de"/><stop offset="0.796" stop-color="#0000de"/><stop offset="0.816" stop-color="#0000de"/><stop offset="0.837" stop-color="#0000de"/><stop offset="0.857" stop-color="#0000de"/><stop offset="0.878" stop-color="#0000de"/><stop offset="0.898" stop-color="#0000de"/><stop offset="0.918" stop-color="#0000de"/><stop offset="0.939" stop-color="#0000de"/><stop offset="0.959" stop-color="#0000de"/><stop offset="0.98" stop-color="#0000de"/><stop offset="1" stop-color="#0000de"/></linearGradient><linearGradient id="gb10" gradientUnits="userSpaceOnUse" x1="829.7" y1="0" x2="1221.7" y2="0"><stop offset="0" stop-color="#0000de"/><stop offset="0.02" stop-color="#0000de"/><stop offset="0.041" stop-color="#0000de"/><stop offset="0.061" stop-color="#0000de"/><stop offset="0.082" stop-color="#0000de"/><stop offset="0.102" stop-color="#0000de"/><stop offset="0.122" stop-color="#0000de"/><stop offset="0.143" stop-color="#0000de"/><stop offset="0.163" stop-color="#0000de"/><stop offset="0.184" stop-color="#0000de"/><stop offset="0.204" stop-color="#0000de"/><stop offset="0.224" stop-color="#0000de"/><stop offset="0.245" stop-color="#0000de"/><stop offset="0.265" stop-color="#0000de"/><stop offset="0.286" stop-color="#0000de"/><stop offset="0.306" stop-color="#0000de"/><stop offset="0.327" stop-color="#0000de"/><stop offset="0.347" stop-color="#0000de"/><stop offset="0.367" stop-color="#0000de"/><stop offset="0.388" stop-color="#0000de"/><stop offset="0.408" stop-color="#0000de"/><stop offset="0.429" stop-color="#0000de"/><stop offset="0.449" stop-color="#0000de"/><stop offset="0.469" stop-color="#0000de"/><stop offset="0.49" stop-color="#0000de"/><stop offset="0.51" stop-color="#0000de"/><stop offset="0.531" stop-color="#0000de"/><stop offset="0.551" stop-color="#0000de"/><stop offset="0.571" stop-color="#0000de"/><stop offset="0.592" stop-color="#0000de"/><stop offset="0.612" stop-color="#0000de"/><stop offset="0.633" stop-color="#0000de"/><stop offset="0.653" stop-color="#0000de"/><stop offset="0.673" stop-color="#0000de"/><stop offset="0.694" stop-color="#0000de"/><stop offset="0.714" stop-color="#0000de"/><stop offset="0.735" stop-color="#0000de"/><stop offset="0.755" stop-color="#0000de"/><stop offset="0.776" stop-color="#0000de"/><stop offset="0.796" stop-color="#0000de"/><stop offset="0.816" stop-color="#0000de"/><stop offset="0.837" stop-color="#0000de"/><stop offset="0.857" stop-color="#0000de"/><stop offset="0.878" stop-color="#0000de"/><stop offset="0.898" stop-color="#0000de"/><stop offset="0.918" stop-color="#0000de"/><stop offset="0.939" stop-color="#0000de"/><stop offset="0.959" stop-color="#0000de"/><stop offset="0.98" stop-color="#0000de"/><stop offset="1" stop-color="#0000de"/></linearGradient><linearGradient id="gb11" gradientUnits="userSpaceOnUse" x1="829.7" y1="0" x2="1221.7" y2="0"><stop offset="0" stop-color="#0000de"/><stop offset="0.02" stop-color="#0000de"/><stop offset="0.041" stop-color="#0000de"/><stop offset="0.061" stop-color="#0000de"/><stop offset="0.082" stop-color="#0000de"/><stop offset="0.102" stop-color="#0000de"/><stop offset="0.122" stop-color="#0000de"/><stop offset="0.143" stop-color="#0000de"/><stop offset="0.163" stop-color="#0000de"/><stop offset="0.184" stop-color="#0000de"/><stop offset="0.204" stop-color="#0000de"/><stop offset="0.224" stop-color="#0000de"/><stop offset="0.245" stop-color="#0000de"/><stop offset="0.265" stop-color="#0000de"/><stop offset="0.286" stop-color="#0000de"/><stop offset="0.306" stop-color="#0000de"/><stop offset="0.327" stop-color="#0000de"/><stop offset="0.347" stop-color="#0000de"/><stop offset="0.367" stop-color="#0000de"/><stop offset="0.388" stop-color="#0000de"/><stop offset="0.408" stop-color="#0000de"/><stop offset="0.429" stop-color="#0000e1"/><stop offset="0.449" stop-color="#0000e6"/><stop offset="0.469" stop-color="#0000ec"/><stop offset="0.49" stop-color="#0000f3"/><stop offset="0.51" stop-color="#0000f9"/><stop offset="0.531" stop-color="#0000fe"/><stop offset="0.551" stop-color="#0005ff"/><stop offset="0.571" stop-color="#000aff"/><stop offset="0.592" stop-color="#0012ff"/><stop offset="0.612" stop-color="#001dff"/><stop offset="0.633" stop-color="#0023ff"/><stop offset="0.653" stop-color="#0023ff"/><stop offset="0.673" stop-color="#0020ff"/><stop offset="0.694" stop-color="#001aff"/><stop offset="0.714" stop-color="#000fff"/><stop offset="0.735" stop-color="#0000fe"/><stop offset="0.755" stop-color="#0000f0"/><stop offset="0.776" stop-color="#0000e4"/><stop offset="0.796" stop-color="#0000de"/><stop offset="0.816" stop-color="#0000de"/><stop offset="0.837" stop-color="#0000de"/><stop offset="0.857" stop-color="#0000de"/><stop offset="0.878" stop-color="#0000de"/><stop offset="0.898" stop-color="#0000de"/><stop offset="0.918" stop-color="#0000de"/><stop offset="0.939" stop-color="#0000de"/><stop offset="0.959" stop-color="#0000de"/><stop offset="0.98" stop-color="#0000de"/><stop offset="1" stop-color="#0000de"/></linearGradient><linearGradient id="gb12" gradientUnits="userSpaceOnUse" x1="829.7" y1="0" x2="1221.7" y2="0"><stop offset="0" stop-color="#0000de"/><stop offset="0.02" stop-color="#0000de"/><stop offset="0.041" stop-color="#0000de"/><stop offset="0.061" stop-color="#0000de"/><stop offset="0.082" stop-color="#0000de"/><stop offset="0.102" stop-color="#0000de"/><stop offset="0.122" stop-color="#0000de"/><stop offset="0.143" stop-color="#0000de"/><stop offset="0.163" stop-color="#0000de"/><stop offset="0.184" stop-color="#0000de"/><stop offset="0.204" stop-color="#0000de"/><stop offset="0.224" stop-color="#0000de"/><stop offset="0.245" stop-color="#0000de"/><stop offset="0.265" stop-color="#0000de"/><stop offset="0.286" stop-color="#0000de"/><stop offset="0.306" stop-color="#0000de"/><stop offset="0.327" stop-color="#0000de"/><stop offset="0.347" stop-color="#0000de"/><stop offset="0.367" stop-color="#0000de"/><stop offset="0.388" stop-color="#0000de"/><stop offset="0.408" stop-color="#0000de"/><stop offset="0.429" stop-color="#0000e6"/><stop offset="0.449" stop-color="#0000f7"/><stop offset="0.469" stop-color="#000aff"/><stop offset="0.49" stop-color="#001dff"/><stop offset="0.51" stop-color="#002eff"/><stop offset="0.531" stop-color="#003fff"/><stop offset="0.551" stop-color="#004fff"/><stop offset="0.571" stop-color="#0060ff"/><stop offset="0.592" stop-color="#0078ff"/><stop offset="0.612" stop-color="#0099ff"/><stop offset="0.633" stop-color="#00a9ff"/><stop offset="0.653" stop-color="#00a9ff"/><stop offset="0.673" stop-color="#00a1ff"/><stop offset="0.694" stop-color="#0091ff"/><stop offset="0.714" stop-color="#0070ff"/><stop offset="0.735" stop-color="#003fff"/><stop offset="0.755" stop-color="#0014ff"/><stop offset="0.776" stop-color="#0000f0"/><stop offset="0.796" stop-color="#0000de"/><stop offset="0.816" stop-color="#0000de"/><stop offset="0.837" stop-color="#0000de"/><stop offset="0.857" stop-color="#0000de"/><stop offset="0.878" stop-color="#0000de"/><stop offset="0.898" stop-color="#0000de"/><stop offset="0.918" stop-color="#0000de"/><stop offset="0.939" stop-color="#0000de"/><stop offset="0.959" stop-color="#0000de"/><stop offset="0.98" stop-color="#0000de"/><stop offset="1" stop-color="#0000de"/></linearGradient><linearGradient id="gb13" gradientUnits="userSpaceOnUse" x1="829.7" y1="0" x2="1221.7" y2="0"><stop offset="0" stop-color="#0000de"/><stop offset="0.02" stop-color="#0000de"/><stop offset="0.041" stop-color="#0000de"/><stop offset="0.061" stop-color="#0000de"/><stop offset="0.082" stop-color="#0000de"/><stop offset="0.102" stop-color="#0000de"/><stop offset="0.122" stop-color="#0000de"/><stop offset="0.143" stop-color="#0000de"/><stop offset="0.163" stop-color="#0000de"/><stop offset="0.184" stop-color="#0000de"/><stop offset="0.204" stop-color="#0000de"/><stop offset="0.224" stop-color="#0000de"/><stop offset="0.245" stop-color="#0000de"/><stop offset="0.265" stop-color="#0000de"/><stop offset="0.286" stop-color="#0000de"/><stop offset="0.306" stop-color="#0000de"/><stop offset="0.327" stop-color="#0000de"/><stop offset="0.347" stop-color="#0000de"/><stop offset="0.367" stop-color="#0000de"/><stop offset="0.388" stop-color="#0000de"/><stop offset="0.408" stop-color="#0000de"/><stop offset="0.429" stop-color="#0000e9"/><stop offset="0.449" stop-color="#0000ff"/><stop offset="0.469" stop-color="#0018ff"/><stop offset="0.49" stop-color="#0031ff"/><stop offset="0.51" stop-color="#0049ff"/><stop offset="0.531" stop-color="#005fff"/><stop offset="0.551" stop-color="#0075ff"/><stop offset="0.571" stop-color="#008aff"/><stop offset="0.592" stop-color="#00abff"/><stop offset="0.612" stop-color="#00d7ff"/><stop offset="0.633" stop-color="#00edff"/><stop offset="0.653" stop-color="#00edff"/><stop offset="0.673" stop-color="#00e2ff"/><stop offset="0.694" stop-color="#00ccff"/><stop offset="0.714" stop-color="#00a0ff"/><stop offset="0.735" stop-color="#005fff"/><stop offset="0.755" stop-color="#0026ff"/><stop offset="0.776" stop-color="#0000f6"/><stop offset="0.796" stop-color="#0000de"/><stop offset="0.816" stop-color="#0000de"/><stop offset="0.837" stop-color="#0000de"/><stop offset="0.857" stop-color="#0000de"/><stop offset="0.878" stop-color="#0000de"/><stop offset="0.898" stop-color="#0000de"/><stop offset="0.918" stop-color="#0000de"/><stop offset="0.939" stop-color="#0000de"/><stop offset="0.959" stop-color="#0000de"/><stop offset="0.98" stop-color="#0000de"/><stop offset="1" stop-color="#0000de"/></linearGradient><linearGradient id="gb14" gradientUnits="userSpaceOnUse" x1="829.7" y1="0" x2="1221.7" y2="0"><stop offset="0" stop-color="#0000de"/><stop offset="0.02" stop-color="#0000de"/><stop offset="0.041" stop-color="#0000de"/><stop offset="0.061" stop-color="#0000de"/><stop offset="0.082" stop-color="#0000de"/><stop offset="0.102" stop-color="#0000de"/><stop offset="0.122" stop-color="#0000de"/><stop offset="0.143" stop-color="#0000de"/><stop offset="0.163" stop-color="#0000de"/><stop offset="0.184" stop-color="#0000de"/><stop offset="0.204" stop-color="#0000de"/><stop offset="0.224" stop-color="#0000de"/><stop offset="0.245" stop-color="#0000de"/><stop offset="0.265" stop-color="#0000de"/><stop offset="0.286" stop-color="#0000de"/><stop offset="0.306" stop-color="#0000de"/><stop offset="0.327" stop-color="#0000de"/><stop offset="0.347" stop-color="#0000de"/><stop offset="0.367" stop-color="#0000de"/><stop offset="0.388" stop-color="#0000de"/><stop offset="0.408" stop-color="#0000de"/><stop offset="0.429" stop-color="#0000e9"/><stop offset="0.449" stop-color="#0000ff"/><stop offset="0.469" stop-color="#0018ff"/><stop offset="0.49" stop-color="#0031ff"/><stop offset="0.51" stop-color="#0049ff"/><stop offset="0.531" stop-color="#005fff"/><stop offset="0.551" stop-color="#0075ff"/><stop offset="0.571" stop-color="#008aff"/><stop offset="0.592" stop-color="#00abff"/><stop offset="0.612" stop-color="#00d7ff"/><stop offset="0.633" stop-color="#00edff"/><stop offset="0.653" stop-color="#00edff"/><stop offset="0.673" stop-color="#00e2ff"/><stop offset="0.694" stop-color="#00ccff"/><stop offset="0.714" stop-color="#00a0ff"/><stop offset="0.735" stop-color="#005fff"/><stop offset="0.755" stop-color="#0026ff"/><stop offset="0.776" stop-color="#0000f6"/><stop offset="0.796" stop-color="#0000de"/><stop offset="0.816" stop-color="#0000de"/><stop offset="0.837" stop-color="#0000de"/><stop offset="0.857" stop-color="#0000de"/><stop offset="0.878" stop-color="#0000de"/><stop offset="0.898" stop-color="#0000de"/><stop offset="0.918" stop-color="#0000de"/><stop offset="0.939" stop-color="#0000de"/><stop offset="0.959" stop-color="#0000de"/><stop offset="0.98" stop-color="#0000de"/><stop offset="1" stop-color="#0000de"/></linearGradient><linearGradient id="gb15" gradientUnits="userSpaceOnUse" x1="829.7" y1="0" x2="1221.7" y2="0"><stop offset="0" stop-color="#0000de"/><stop offset="0.02" stop-color="#0000de"/><stop offset="0.041" stop-color="#0000de"/><stop offset="0.061" stop-color="#0000de"/><stop offset="0.082" stop-color="#0000de"/><stop offset="0.102" stop-color="#0000de"/><stop offset="0.122" stop-color="#0000de"/><stop offset="0.143" stop-color="#0000de"/><stop offset="0.163" stop-color="#0000de"/><stop offset="0.184" stop-color="#0000de"/><stop offset="0.204" stop-color="#0000de"/><stop offset="0.224" stop-color="#0000de"/><stop offset="0.245" stop-color="#0000de"/><stop offset="0.265" stop-color="#0000de"/><stop offset="0.286" stop-color="#0000de"/><stop offset="0.306" stop-color="#0000e1"/><stop offset="0.327" stop-color="#0000e6"/><stop offset="0.347" stop-color="#0000e9"/><stop offset="0.367" stop-color="#0000e9"/><stop offset="0.388" stop-color="#0000e9"/><stop offset="0.408" stop-color="#0000e9"/><stop offset="0.429" stop-color="#0000f5"/><stop offset="0.449" stop-color="#000cff"/><stop offset="0.469" stop-color="#0024ff"/><stop offset="0.49" stop-color="#003dff"/><stop offset="0.51" stop-color="#0051ff"/><stop offset="0.531" stop-color="#0061ff"/><stop offset="0.551" stop-color="#006fff"/><stop offset="0.571" stop-color="#007aff"/><stop offset="0.592" stop-color="#009eff"/><stop offset="0.612" stop-color="#00dcff"/><stop offset="0.633" stop-color="#04fffb"/><stop offset="0.653" stop-color="#12ffed"/><stop offset="0.673" stop-color="#0afff5"/><stop offset="0.694" stop-color="#00eaff"/><stop offset="0.714" stop-color="#00b3ff"/><stop offset="0.735" stop-color="#0065ff"/><stop offset="0.755" stop-color="#0029ff"/><stop offset="0.776" stop-color="#0000fe"/><stop offset="0.796" stop-color="#0000e9"/><stop offset="0.816" stop-color="#0000e9"/><stop offset="0.837" stop-color="#0000e9"/><stop offset="0.857" stop-color="#0000e9"/><stop offset="0.878" stop-color="#0000e9"/><stop offset="0.898" stop-color="#0000e9"/><stop offset="0.918" stop-color="#0000e9"/><stop offset="0.939" stop-color="#0000e9"/><stop offset="0.959" stop-color="#0000e9"/><stop offset="0.98" stop-color="#0000e9"/><stop offset="1" stop-color="#0000e9"/></linearGradient><linearGradient id="gb16" gradientUnits="userSpaceOnUse" x1="829.7" y1="0" x2="1221.7" y2="0"><stop offset="0" stop-color="#0000de"/><stop offset="0.02" stop-color="#0000de"/><stop offset="0.041" stop-color="#0000de"/><stop offset="0.061" stop-color="#0000de"/><stop offset="0.082" stop-color="#0000de"/><stop offset="0.102" stop-color="#0000de"/><stop offset="0.122" stop-color="#0000de"/><stop offset="0.143" stop-color="#0000de"/><stop offset="0.163" stop-color="#0000de"/><stop offset="0.184" stop-color="#0000de"/><stop offset="0.204" stop-color="#0000de"/><stop offset="0.224" stop-color="#0000de"/><stop offset="0.245" stop-color="#0000de"/><stop offset="0.265" stop-color="#0000de"/><stop offset="0.286" stop-color="#0000de"/><stop offset="0.306" stop-color="#0000e6"/><stop offset="0.327" stop-color="#0000f7"/><stop offset="0.347" stop-color="#0000ff"/><stop offset="0.367" stop-color="#0000ff"/><stop offset="0.388" stop-color="#0000ff"/><stop offset="0.408" stop-color="#0000ff"/><stop offset="0.429" stop-color="#000cff"/><stop offset="0.449" stop-color="#0025ff"/><stop offset="0.469" stop-color="#003dff"/><stop offset="0.49" stop-color="#0053ff"/><stop offset="0.51" stop-color="#0061ff"/><stop offset="0.531" stop-color="#0067ff"/><stop offset="0.551" stop-color="#0064ff"/><stop offset="0.571" stop-color="#0059ff"/><stop offset="0.592" stop-color="#0085ff"/><stop offset="0.612" stop-color="#00e7ff"/><stop offset="0.633" stop-color="#2fffd0"/><stop offset="0.653" stop-color="#5bffa4"/><stop offset="0.673" stop-color="#58ffa7"/><stop offset="0.694" stop-color="#27ffd8"/><stop offset="0.714" stop-color="#00daff"/><stop offset="0.735" stop-color="#0072ff"/><stop offset="0.755" stop-color="#002eff"/><stop offset="0.776" stop-color="#000fff"/><stop offset="0.796" stop-color="#0000ff"/><stop offset="0.816" stop-color="#0000ff"/><stop offset="0.837" stop-color="#0000ff"/><stop offset="0.857" stop-color="#0000ff"/><stop offset="0.878" stop-color="#0000ff"/><stop offset="0.898" stop-color="#0000ff"/><stop offset="0.918" stop-color="#0000ff"/><stop offset="0.939" stop-color="#0000ff"/><stop offset="0.959" stop-color="#0000ff"/><stop offset="0.98" stop-color="#0000ff"/><stop offset="1" stop-color="#0000ff"/></linearGradient><linearGradient id="gb17" gradientUnits="userSpaceOnUse" x1="829.7" y1="0" x2="1221.7" y2="0"><stop offset="0" stop-color="#0000e9"/><stop offset="0.02" stop-color="#0000e9"/><stop offset="0.041" stop-color="#0000e9"/><stop offset="0.061" stop-color="#0000e9"/><stop offset="0.082" stop-color="#0000e9"/><stop offset="0.102" stop-color="#0000e9"/><stop offset="0.122" stop-color="#0000e9"/><stop offset="0.143" stop-color="#0000e9"/><stop offset="0.163" stop-color="#0000e9"/><stop offset="0.184" stop-color="#0000e9"/><stop offset="0.204" stop-color="#0000e9"/><stop offset="0.224" stop-color="#0000e9"/><stop offset="0.245" stop-color="#0000e9"/><stop offset="0.265" stop-color="#0000e9"/><stop offset="0.286" stop-color="#0000e9"/><stop offset="0.306" stop-color="#0000f1"/><stop offset="0.327" stop-color="#0003ff"/><stop offset="0.347" stop-color="#000bff"/><stop offset="0.367" stop-color="#000bff"/><stop offset="0.388" stop-color="#000eff"/><stop offset="0.408" stop-color="#0014ff"/><stop offset="0.429" stop-color="#0021ff"/><stop offset="0.449" stop-color="#0034ff"/><stop offset="0.469" stop-color="#0049ff"/><stop offset="0.49" stop-color="#005fff"/><stop offset="0.51" stop-color="#0072ff"/><stop offset="0.531" stop-color="#0082ff"/><stop offset="0.551" stop-color="#007dff"/><stop offset="0.571" stop-color="#0061ff"/><stop offset="0.592" stop-color="#0090ff"/><stop offset="0.612" stop-color="#09fff6"/><stop offset="0.633" stop-color="#5fffa0"/><stop offset="0.653" stop-color="#92ff6d"/><stop offset="0.673" stop-color="#8eff71"/><stop offset="0.694" stop-color="#54ffab"/><stop offset="0.714" stop-color="#00fdff"/><stop offset="0.735" stop-color="#008cff"/><stop offset="0.755" stop-color="#0045ff"/><stop offset="0.776" stop-color="#0027ff"/><stop offset="0.796" stop-color="#0018ff"/><stop offset="0.816" stop-color="#0018ff"/><stop offset="0.837" stop-color="#0018ff"/><stop offset="0.857" stop-color="#0018ff"/><stop offset="0.878" stop-color="#0014ff"/><stop offset="0.898" stop-color="#000eff"/><stop offset="0.918" stop-color="#000bff"/><stop offset="0.939" stop-color="#000bff"/><stop offset="0.959" stop-color="#000bff"/><stop offset="0.98" stop-color="#000bff"/><stop offset="1" stop-color="#000bff"/></linearGradient><linearGradient id="gb18" gradientUnits="userSpaceOnUse" x1="829.7" y1="0" x2="1221.7" y2="0"><stop offset="0" stop-color="#0000ff"/><stop offset="0.02" stop-color="#0000ff"/><stop offset="0.041" stop-color="#0000ff"/><stop offset="0.061" stop-color="#0000ff"/><stop offset="0.082" stop-color="#0000ff"/><stop offset="0.102" stop-color="#0000ff"/><stop offset="0.122" stop-color="#0000ff"/><stop offset="0.143" stop-color="#0000ff"/><stop offset="0.163" stop-color="#0000ff"/><stop offset="0.184" stop-color="#0000ff"/><stop offset="0.204" stop-color="#0000ff"/><stop offset="0.224" stop-color="#0000ff"/><stop offset="0.245" stop-color="#0000ff"/><stop offset="0.265" stop-color="#0000ff"/><stop offset="0.286" stop-color="#0000ff"/><stop offset="0.306" stop-color="#0003ff"/><stop offset="0.327" stop-color="#0008ff"/><stop offset="0.347" stop-color="#000bff"/><stop offset="0.367" stop-color="#000bff"/><stop offset="0.388" stop-color="#0014ff"/><stop offset="0.408" stop-color="#0028ff"/><stop offset="0.429" stop-color="#0034ff"/><stop offset="0.449" stop-color="#003bff"/><stop offset="0.469" stop-color="#0049ff"/><stop offset="0.49" stop-color="#005fff"/><stop offset="0.51" stop-color="#0082ff"/><stop offset="0.531" stop-color="#00b3ff"/><stop offset="0.551" stop-color="#00b9ff"/><stop offset="0.571" stop-color="#0093ff"/><stop offset="0.592" stop-color="#00bfff"/><stop offset="0.612" stop-color="#40ffbf"/><stop offset="0.633" stop-color="#92ff6d"/><stop offset="0.653" stop-color="#b6ff49"/><stop offset="0.673" stop-color="#abff54"/><stop offset="0.694" stop-color="#71ff8e"/><stop offset="0.714" stop-color="#1fffe0"/><stop offset="0.735" stop-color="#00b4ff"/><stop offset="0.755" stop-color="#006cff"/><stop offset="0.776" stop-color="#0045ff"/><stop offset="0.796" stop-color="#0031ff"/><stop offset="0.816" stop-color="#0031ff"/><stop offset="0.837" stop-color="#0031ff"/><stop offset="0.857" stop-color="#0031ff"/><stop offset="0.878" stop-color="#0028ff"/><stop offset="0.898" stop-color="#0014ff"/><stop offset="0.918" stop-color="#000bff"/><stop offset="0.939" stop-color="#000bff"/><stop offset="0.959" stop-color="#000bff"/><stop offset="0.98" stop-color="#000bff"/><stop offset="1" stop-color="#000bff"/></linearGradient><linearGradient id="gb19" gradientUnits="userSpaceOnUse" x1="829.7" y1="0" x2="1221.7" y2="0"><stop offset="0" stop-color="#000bff"/><stop offset="0.02" stop-color="#000bff"/><stop offset="0.041" stop-color="#000bff"/><stop offset="0.061" stop-color="#000bff"/><stop offset="0.082" stop-color="#000bff"/><stop offset="0.102" stop-color="#000bff"/><stop offset="0.122" stop-color="#000bff"/><stop offset="0.143" stop-color="#000bff"/><stop offset="0.163" stop-color="#000bff"/><stop offset="0.184" stop-color="#000bff"/><stop offset="0.204" stop-color="#000bff"/><stop offset="0.224" stop-color="#000bff"/><stop offset="0.245" stop-color="#000bff"/><stop offset="0.265" stop-color="#000bff"/><stop offset="0.286" stop-color="#000bff"/><stop offset="0.306" stop-color="#000bff"/><stop offset="0.327" stop-color="#000bff"/><stop offset="0.347" stop-color="#000eff"/><stop offset="0.367" stop-color="#0014ff"/><stop offset="0.388" stop-color="#0021ff"/><stop offset="0.408" stop-color="#0034ff"/><stop offset="0.429" stop-color="#003eff"/><stop offset="0.449" stop-color="#003eff"/><stop offset="0.469" stop-color="#0049ff"/><stop offset="0.49" stop-color="#005fff"/><stop offset="0.51" stop-color="#008eff"/><stop offset="0.531" stop-color="#00d7ff"/><stop offset="0.551" stop-color="#00f2ff"/><stop offset="0.571" stop-color="#00e0ff"/><stop offset="0.592" stop-color="#0dfff2"/><stop offset="0.612" stop-color="#76ff89"/><stop offset="0.633" stop-color="#baff45"/><stop offset="0.653" stop-color="#d7ff28"/><stop offset="0.673" stop-color="#c5ff3a"/><stop offset="0.694" stop-color="#83ff7c"/><stop offset="0.714" stop-color="#32ffcd"/><stop offset="0.735" stop-color="#00d1ff"/><stop offset="0.755" stop-color="#008aff"/><stop offset="0.776" stop-color="#005fff"/><stop offset="0.796" stop-color="#0049ff"/><stop offset="0.816" stop-color="#0049ff"/><stop offset="0.837" stop-color="#0049ff"/><stop offset="0.857" stop-color="#0049ff"/><stop offset="0.878" stop-color="#003dff"/><stop offset="0.898" stop-color="#0024ff"/><stop offset="0.918" stop-color="#0018ff"/><stop offset="0.939" stop-color="#0018ff"/><stop offset="0.959" stop-color="#0018ff"/><stop offset="0.98" stop-color="#0018ff"/><stop offset="1" stop-color="#0018ff"/></linearGradient><linearGradient id="gb20" gradientUnits="userSpaceOnUse" x1="829.7" y1="0" x2="1221.7" y2="0"><stop offset="0" stop-color="#000bff"/><stop offset="0.02" stop-color="#000bff"/><stop offset="0.041" stop-color="#000bff"/><stop offset="0.061" stop-color="#000bff"/><stop offset="0.082" stop-color="#000bff"/><stop offset="0.102" stop-color="#000bff"/><stop offset="0.122" stop-color="#000bff"/><stop offset="0.143" stop-color="#000bff"/><stop offset="0.163" stop-color="#000bff"/><stop offset="0.184" stop-color="#000bff"/><stop offset="0.204" stop-color="#000bff"/><stop offset="0.224" stop-color="#000bff"/><stop offset="0.245" stop-color="#000bff"/><stop offset="0.265" stop-color="#000bff"/><stop offset="0.286" stop-color="#000bff"/><stop offset="0.306" stop-color="#000bff"/><stop offset="0.327" stop-color="#000bff"/><stop offset="0.347" stop-color="#0014ff"/><stop offset="0.367" stop-color="#0028ff"/><stop offset="0.388" stop-color="#0034ff"/><stop offset="0.408" stop-color="#003bff"/><stop offset="0.429" stop-color="#003eff"/><stop offset="0.449" stop-color="#003eff"/><stop offset="0.469" stop-color="#0049ff"/><stop offset="0.49" stop-color="#005fff"/><stop offset="0.51" stop-color="#0095ff"/><stop offset="0.531" stop-color="#00edff"/><stop offset="0.551" stop-color="#2affd5"/><stop offset="0.571" stop-color="#4bffb4"/><stop offset="0.592" stop-color="#76ff89"/><stop offset="0.612" stop-color="#adff52"/><stop offset="0.633" stop-color="#d7ff28"/><stop offset="0.653" stop-color="#f4ff0b"/><stop offset="0.673" stop-color="#dbff24"/><stop offset="0.694" stop-color="#8aff75"/><stop offset="0.714" stop-color="#38ffc7"/><stop offset="0.735" stop-color="#00e1ff"/><stop offset="0.755" stop-color="#00a0ff"/><stop offset="0.776" stop-color="#0075ff"/><stop offset="0.796" stop-color="#005fff"/><stop offset="0.816" stop-color="#005fff"/><stop offset="0.837" stop-color="#005fff"/><stop offset="0.857" stop-color="#005fff"/><stop offset="0.878" stop-color="#0053ff"/><stop offset="0.898" stop-color="#003dff"/><stop offset="0.918" stop-color="#0031ff"/><stop offset="0.939" stop-color="#0031ff"/><stop offset="0.959" stop-color="#0031ff"/><stop offset="0.98" stop-color="#0031ff"/><stop offset="1" stop-color="#0031ff"/></linearGradient><linearGradient id="gb21" gradientUnits="userSpaceOnUse" x1="829.7" y1="0" x2="1221.7" y2="0"><stop offset="0" stop-color="#000bff"/><stop offset="0.02" stop-color="#000bff"/><stop offset="0.041" stop-color="#000bff"/><stop offset="0.061" stop-color="#000bff"/><stop offset="0.082" stop-color="#000bff"/><stop offset="0.102" stop-color="#000bff"/><stop offset="0.122" stop-color="#000bff"/><stop offset="0.143" stop-color="#000bff"/><stop offset="0.163" stop-color="#000bff"/><stop offset="0.184" stop-color="#000bff"/><stop offset="0.204" stop-color="#000bff"/><stop offset="0.224" stop-color="#0008ff"/><stop offset="0.245" stop-color="#0003ff"/><stop offset="0.265" stop-color="#0003ff"/><stop offset="0.286" stop-color="#0008ff"/><stop offset="0.306" stop-color="#000eff"/><stop offset="0.327" stop-color="#0014ff"/><stop offset="0.347" stop-color="#0021ff"/><stop offset="0.367" stop-color="#0034ff"/><stop offset="0.388" stop-color="#003eff"/><stop offset="0.408" stop-color="#003eff"/><stop offset="0.429" stop-color="#003eff"/><stop offset="0.449" stop-color="#003eff"/><stop offset="0.469" stop-color="#0049ff"/><stop offset="0.49" stop-color="#005fff"/><stop offset="0.51" stop-color="#0095ff"/><stop offset="0.531" stop-color="#00edff"/><stop offset="0.551" stop-color="#3affc5"/><stop offset="0.571" stop-color="#7cff83"/><stop offset="0.592" stop-color="#abff54"/><stop offset="0.612" stop-color="#c8ff37"/><stop offset="0.633" stop-color="#e5ff1a"/><stop offset="0.653" stop-color="#fffb00"/><stop offset="0.673" stop-color="#e5ff1a"/><stop offset="0.694" stop-color="#8eff71"/><stop offset="0.714" stop-color="#3affc5"/><stop offset="0.735" stop-color="#00e9ff"/><stop offset="0.755" stop-color="#00aeff"/><stop offset="0.776" stop-color="#0088ff"/><stop offset="0.796" stop-color="#0075ff"/><stop offset="0.816" stop-color="#0075ff"/><stop offset="0.837" stop-color="#0072ff"/><stop offset="0.857" stop-color="#006cff"/><stop offset="0.878" stop-color="#0061ff"/><stop offset="0.898" stop-color="#0051ff"/><stop offset="0.918" stop-color="#0046ff"/><stop offset="0.939" stop-color="#0041ff"/><stop offset="0.959" stop-color="#003eff"/><stop offset="0.98" stop-color="#003eff"/><stop offset="1" stop-color="#003eff"/></linearGradient><linearGradient id="gb22" gradientUnits="userSpaceOnUse" x1="829.7" y1="0" x2="1221.7" y2="0"><stop offset="0" stop-color="#000bff"/><stop offset="0.02" stop-color="#000bff"/><stop offset="0.041" stop-color="#000bff"/><stop offset="0.061" stop-color="#000bff"/><stop offset="0.082" stop-color="#000bff"/><stop offset="0.102" stop-color="#000bff"/><stop offset="0.122" stop-color="#000bff"/><stop offset="0.143" stop-color="#000bff"/><stop offset="0.163" stop-color="#000bff"/><stop offset="0.184" stop-color="#000bff"/><stop offset="0.204" stop-color="#000bff"/><stop offset="0.224" stop-color="#0003ff"/><stop offset="0.245" stop-color="#0000f1"/><stop offset="0.265" stop-color="#0000f1"/><stop offset="0.286" stop-color="#0003ff"/><stop offset="0.306" stop-color="#0014ff"/><stop offset="0.327" stop-color="#0028ff"/><stop offset="0.347" stop-color="#0034ff"/><stop offset="0.367" stop-color="#003bff"/><stop offset="0.388" stop-color="#003eff"/><stop offset="0.408" stop-color="#003eff"/><stop offset="0.429" stop-color="#003eff"/><stop offset="0.449" stop-color="#003eff"/><stop offset="0.469" stop-color="#0049ff"/><stop offset="0.49" stop-color="#005fff"/><stop offset="0.51" stop-color="#008eff"/><stop offset="0.531" stop-color="#00d7ff"/><stop offset="0.551" stop-color="#24ffdb"/><stop offset="0.571" stop-color="#75ff8a"/><stop offset="0.592" stop-color="#abff54"/><stop offset="0.612" stop-color="#c8ff37"/><stop offset="0.633" stop-color="#e5ff1a"/><stop offset="0.653" stop-color="#fffb00"/><stop offset="0.673" stop-color="#e5ff1a"/><stop offset="0.694" stop-color="#8eff71"/><stop offset="0.714" stop-color="#3affc5"/><stop offset="0.735" stop-color="#00e9ff"/><stop offset="0.755" stop-color="#00b3ff"/><stop offset="0.776" stop-color="#0098ff"/><stop offset="0.796" stop-color="#008aff"/><stop offset="0.816" stop-color="#008aff"/><stop offset="0.837" stop-color="#0082ff"/><stop offset="0.857" stop-color="#0072ff"/><stop offset="0.878" stop-color="#0067ff"/><stop offset="0.898" stop-color="#0061ff"/><stop offset="0.918" stop-color="#0057ff"/><stop offset="0.939" stop-color="#0046ff"/><stop offset="0.959" stop-color="#003eff"/><stop offset="0.98" stop-color="#003eff"/><stop offset="1" stop-color="#003eff"/></linearGradient><linearGradient id="gb23" gradientUnits="userSpaceOnUse" x1="829.7" y1="0" x2="1221.7" y2="0"><stop offset="0" stop-color="#000bff"/><stop offset="0.02" stop-color="#000bff"/><stop offset="0.041" stop-color="#000bff"/><stop offset="0.061" stop-color="#000bff"/><stop offset="0.082" stop-color="#000bff"/><stop offset="0.102" stop-color="#000bff"/><stop offset="0.122" stop-color="#000bff"/><stop offset="0.143" stop-color="#000bff"/><stop offset="0.163" stop-color="#000bff"/><stop offset="0.184" stop-color="#000bff"/><stop offset="0.204" stop-color="#000bff"/><stop offset="0.224" stop-color="#0003ff"/><stop offset="0.245" stop-color="#0000f1"/><stop offset="0.265" stop-color="#0000f1"/><stop offset="0.286" stop-color="#0003ff"/><stop offset="0.306" stop-color="#0018ff"/><stop offset="0.327" stop-color="#0031ff"/><stop offset="0.347" stop-color="#003eff"/><stop offset="0.367" stop-color="#003eff"/><stop offset="0.388" stop-color="#003eff"/><stop offset="0.408" stop-color="#003eff"/><stop offset="0.429" stop-color="#003eff"/><stop offset="0.449" stop-color="#003eff"/><stop offset="0.469" stop-color="#0049ff"/><stop offset="0.49" stop-color="#005fff"/><stop offset="0.51" stop-color="#0088ff"/><stop offset="0.531" stop-color="#00c4ff"/><stop offset="0.551" stop-color="#0efff1"/><stop offset="0.571" stop-color="#63ff9c"/><stop offset="0.592" stop-color="#a0ff5f"/><stop offset="0.612" stop-color="#c5ff3a"/><stop offset="0.633" stop-color="#e5ff1a"/><stop offset="0.653" stop-color="#fffb00"/><stop offset="0.673" stop-color="#e9ff16"/><stop offset="0.694" stop-color="#99ff66"/><stop offset="0.714" stop-color="#45ffba"/><stop offset="0.735" stop-color="#00edff"/><stop offset="0.755" stop-color="#00b6ff"/><stop offset="0.776" stop-color="#00a0ff"/><stop offset="0.796" stop-color="#0095ff"/><stop offset="0.816" stop-color="#0095ff"/><stop offset="0.837" stop-color="#008dff"/><stop offset="0.857" stop-color="#007dff"/><stop offset="0.878" stop-color="#0072ff"/><stop offset="0.898" stop-color="#006cff"/><stop offset="0.918" stop-color="#0061ff"/><stop offset="0.939" stop-color="#0051ff"/><stop offset="0.959" stop-color="#0046ff"/><stop offset="0.98" stop-color="#0041ff"/><stop offset="1" stop-color="#003eff"/></linearGradient><linearGradient id="gb24" gradientUnits="userSpaceOnUse" x1="829.7" y1="0" x2="1221.7" y2="0"><stop offset="0" stop-color="#000bff"/><stop offset="0.02" stop-color="#000bff"/><stop offset="0.041" stop-color="#000bff"/><stop offset="0.061" stop-color="#000bff"/><stop offset="0.082" stop-color="#000bff"/><stop offset="0.102" stop-color="#000bff"/><stop offset="0.122" stop-color="#000bff"/><stop offset="0.143" stop-color="#000bff"/><stop offset="0.163" stop-color="#000bff"/><stop offset="0.184" stop-color="#000bff"/><stop offset="0.204" stop-color="#000bff"/><stop offset="0.224" stop-color="#0008ff"/><stop offset="0.245" stop-color="#0003ff"/><stop offset="0.265" stop-color="#0003ff"/><stop offset="0.286" stop-color="#0008ff"/><stop offset="0.306" stop-color="#0018ff"/><stop offset="0.327" stop-color="#0031ff"/><stop offset="0.347" stop-color="#003eff"/><stop offset="0.367" stop-color="#003eff"/><stop offset="0.388" stop-color="#003eff"/><stop offset="0.408" stop-color="#003eff"/><stop offset="0.429" stop-color="#003eff"/><stop offset="0.449" stop-color="#003eff"/><stop offset="0.469" stop-color="#0049ff"/><stop offset="0.49" stop-color="#005fff"/><stop offset="0.51" stop-color="#0082ff"/><stop offset="0.531" stop-color="#00b3ff"/><stop offset="0.551" stop-color="#00f5ff"/><stop offset="0.571" stop-color="#48ffb7"/><stop offset="0.592" stop-color="#8aff75"/><stop offset="0.612" stop-color="#bdff42"/><stop offset="0.633" stop-color="#e5ff1a"/><stop offset="0.653" stop-color="#fffb00"/><stop offset="0.673" stop-color="#f0ff0f"/><stop offset="0.694" stop-color="#afff50"/><stop offset="0.714" stop-color="#5bffa4"/><stop offset="0.735" stop-color="#00f4ff"/><stop offset="0.755" stop-color="#00b6ff"/><stop offset="0.776" stop-color="#00a0ff"/><stop offset="0.796" stop-color="#0095ff"/><stop offset="0.816" stop-color="#0095ff"/><stop offset="0.837" stop-color="#0093ff"/><stop offset="0.857" stop-color="#008dff"/><stop offset="0.878" stop-color="#0082ff"/><stop offset="0.898" stop-color="#0072ff"/><stop offset="0.918" stop-color="#0067ff"/><stop offset="0.939" stop-color="#0061ff"/><stop offset="0.959" stop-color="#0057ff"/><stop offset="0.98" stop-color="#0046ff"/><stop offset="1" stop-color="#003eff"/></linearGradient><linearGradient id="gb25" gradientUnits="userSpaceOnUse" x1="829.7" y1="0" x2="1221.7" y2="0"><stop offset="0" stop-color="#000bff"/><stop offset="0.02" stop-color="#000bff"/><stop offset="0.041" stop-color="#000bff"/><stop offset="0.061" stop-color="#000bff"/><stop offset="0.082" stop-color="#000bff"/><stop offset="0.102" stop-color="#000bff"/><stop offset="0.122" stop-color="#000bff"/><stop offset="0.143" stop-color="#000bff"/><stop offset="0.163" stop-color="#000bff"/><stop offset="0.184" stop-color="#000bff"/><stop offset="0.204" stop-color="#000bff"/><stop offset="0.224" stop-color="#000bff"/><stop offset="0.245" stop-color="#000bff"/><stop offset="0.265" stop-color="#000bff"/><stop offset="0.286" stop-color="#000bff"/><stop offset="0.306" stop-color="#0018ff"/><stop offset="0.327" stop-color="#0031ff"/><stop offset="0.347" stop-color="#003eff"/><stop offset="0.367" stop-color="#003eff"/><stop offset="0.388" stop-color="#003eff"/><stop offset="0.408" stop-color="#003eff"/><stop offset="0.429" stop-color="#003eff"/><stop offset="0.449" stop-color="#003eff"/><stop offset="0.469" stop-color="#0049ff"/><stop offset="0.49" stop-color="#005fff"/><stop offset="0.51" stop-color="#007dff"/><stop offset="0.531" stop-color="#00a3ff"/><stop offset="0.551" stop-color="#00ddff"/><stop offset="0.571" stop-color="#2dffd2"/><stop offset="0.592" stop-color="#71ff8e"/><stop offset="0.612" stop-color="#abff54"/><stop offset="0.633" stop-color="#dbff24"/><stop offset="0.653" stop-color="#ffff00"/><stop offset="0.673" stop-color="#f8ff07"/><stop offset="0.694" stop-color="#c5ff3a"/><stop offset="0.714" stop-color="#71ff8e"/><stop offset="0.735" stop-color="#00fbff"/><stop offset="0.755" stop-color="#00b6ff"/><stop offset="0.776" stop-color="#00a0ff"/><stop offset="0.796" stop-color="#0095ff"/><stop offset="0.816" stop-color="#0095ff"/><stop offset="0.837" stop-color="#0095ff"/><stop offset="0.857" stop-color="#0095ff"/><stop offset="0.878" stop-color="#008aff"/><stop offset="0.898" stop-color="#0075ff"/><stop offset="0.918" stop-color="#006aff"/><stop offset="0.939" stop-color="#006aff"/><stop offset="0.959" stop-color="#0061ff"/><stop offset="0.98" stop-color="#0051ff"/><stop offset="1" stop-color="#0049ff"/></linearGradient><linearGradient id="gb26" gradientUnits="userSpaceOnUse" x1="829.7" y1="0" x2="1221.7" y2="0"><stop offset="0" stop-color="#000bff"/><stop offset="0.02" stop-color="#000bff"/><stop offset="0.041" stop-color="#000bff"/><stop offset="0.061" stop-color="#000bff"/><stop offset="0.082" stop-color="#000bff"/><stop offset="0.102" stop-color="#000bff"/><stop offset="0.122" stop-color="#000bff"/><stop offset="0.143" stop-color="#000bff"/><stop offset="0.163" stop-color="#000bff"/><stop offset="0.184" stop-color="#000bff"/><stop offset="0.204" stop-color="#000bff"/><stop offset="0.224" stop-color="#000bff"/><stop offset="0.245" stop-color="#000bff"/><stop offset="0.265" stop-color="#000bff"/><stop offset="0.286" stop-color="#000bff"/><stop offset="0.306" stop-color="#0018ff"/><stop offset="0.327" stop-color="#0031ff"/><stop offset="0.347" stop-color="#003eff"/><stop offset="0.367" stop-color="#003eff"/><stop offset="0.388" stop-color="#003eff"/><stop offset="0.408" stop-color="#003eff"/><stop offset="0.429" stop-color="#003eff"/><stop offset="0.449" stop-color="#003eff"/><stop offset="0.469" stop-color="#0049ff"/><stop offset="0.49" stop-color="#005fff"/><stop offset="0.51" stop-color="#0077ff"/><stop offset="0.531" stop-color="#0093ff"/><stop offset="0.551" stop-color="#00c6ff"/><stop offset="0.571" stop-color="#11ffee"/><stop offset="0.592" stop-color="#54ffab"/><stop offset="0.612" stop-color="#8eff71"/><stop offset="0.633" stop-color="#c5ff3a"/><stop offset="0.653" stop-color="#f8ff07"/><stop offset="0.673" stop-color="#ffff00"/><stop offset="0.694" stop-color="#dbff24"/><stop offset="0.714" stop-color="#87ff78"/><stop offset="0.735" stop-color="#04fffb"/><stop offset="0.755" stop-color="#00b6ff"/><stop offset="0.776" stop-color="#00a0ff"/><stop offset="0.796" stop-color="#0095ff"/><stop offset="0.816" stop-color="#0095ff"/><stop offset="0.837" stop-color="#0095ff"/><stop offset="0.857" stop-color="#0095ff"/><stop offset="0.878" stop-color="#008aff"/><stop offset="0.898" stop-color="#0075ff"/><stop offset="0.918" stop-color="#006aff"/><stop offset="0.939" stop-color="#006aff"/><stop offset="0.959" stop-color="#0067ff"/><stop offset="0.98" stop-color="#0061ff"/><stop offset="1" stop-color="#005fff"/></linearGradient><linearGradient id="gb27" gradientUnits="userSpaceOnUse" x1="829.7" y1="0" x2="1221.7" y2="0"><stop offset="0" stop-color="#000bff"/><stop offset="0.02" stop-color="#000bff"/><stop offset="0.041" stop-color="#000bff"/><stop offset="0.061" stop-color="#000bff"/><stop offset="0.082" stop-color="#000bff"/><stop offset="0.102" stop-color="#000bff"/><stop offset="0.122" stop-color="#000bff"/><stop offset="0.143" stop-color="#000bff"/><stop offset="0.163" stop-color="#000bff"/><stop offset="0.184" stop-color="#0008ff"/><stop offset="0.204" stop-color="#0003ff"/><stop offset="0.224" stop-color="#0000ff"/><stop offset="0.245" stop-color="#0000ff"/><stop offset="0.265" stop-color="#0000ff"/><stop offset="0.286" stop-color="#0000ff"/><stop offset="0.306" stop-color="#000fff"/><stop offset="0.327" stop-color="#002eff"/><stop offset="0.347" stop-color="#003eff"/><stop offset="0.367" stop-color="#003eff"/><stop offset="0.388" stop-color="#003eff"/><stop offset="0.408" stop-color="#003eff"/><stop offset="0.429" stop-color="#0041ff"/><stop offset="0.449" stop-color="#0046ff"/><stop offset="0.469" stop-color="#0051ff"/><stop offset="0.49" stop-color="#0061ff"/><stop offset="0.51" stop-color="#0075ff"/><stop offset="0.531" stop-color="#008aff"/><stop offset="0.551" stop-color="#00baff"/><stop offset="0.571" stop-color="#04fffb"/><stop offset="0.592" stop-color="#45ffba"/><stop offset="0.612" stop-color="#80ff80"/><stop offset="0.633" stop-color="#baff45"/><stop offset="0.653" stop-color="#f4ff0b"/><stop offset="0.673" stop-color="#fffb00"/><stop offset="0.694" stop-color="#e5ff1a"/><stop offset="0.714" stop-color="#94ff6b"/><stop offset="0.735" stop-color="#0ffff0"/><stop offset="0.755" stop-color="#00beff"/><stop offset="0.776" stop-color="#00a3ff"/><stop offset="0.796" stop-color="#0095ff"/><stop offset="0.816" stop-color="#0095ff"/><stop offset="0.837" stop-color="#0095ff"/><stop offset="0.857" stop-color="#0095ff"/><stop offset="0.878" stop-color="#008dff"/><stop offset="0.898" stop-color="#007dff"/><stop offset="0.918" stop-color="#0072ff"/><stop offset="0.939" stop-color="#006cff"/><stop offset="0.959" stop-color="#006aff"/><stop offset="0.98" stop-color="#006aff"/><stop offset="1" stop-color="#006aff"/></linearGradient><linearGradient id="gb28" gradientUnits="userSpaceOnUse" x1="829.7" y1="0" x2="1221.7" y2="0"><stop offset="0" stop-color="#000bff"/><stop offset="0.02" stop-color="#000bff"/><stop offset="0.041" stop-color="#000bff"/><stop offset="0.061" stop-color="#000bff"/><stop offset="0.082" stop-color="#000bff"/><stop offset="0.102" stop-color="#000bff"/><stop offset="0.122" stop-color="#000bff"/><stop offset="0.143" stop-color="#000bff"/><stop offset="0.163" stop-color="#000bff"/><stop offset="0.184" stop-color="#0003ff"/><stop offset="0.204" stop-color="#0000f1"/><stop offset="0.224" stop-color="#0000e9"/><stop offset="0.245" stop-color="#0000e9"/><stop offset="0.265" stop-color="#0000e9"/><stop offset="0.286" stop-color="#0000e9"/><stop offset="0.306" stop-color="#0000fe"/><stop offset="0.327" stop-color="#0029ff"/><stop offset="0.347" stop-color="#003eff"/><stop offset="0.367" stop-color="#003eff"/><stop offset="0.388" stop-color="#003eff"/><stop offset="0.408" stop-color="#003eff"/><stop offset="0.429" stop-color="#0046ff"/><stop offset="0.449" stop-color="#0057ff"/><stop offset="0.469" stop-color="#0061ff"/><stop offset="0.49" stop-color="#0067ff"/><stop offset="0.51" stop-color="#0075ff"/><stop offset="0.531" stop-color="#008aff"/><stop offset="0.551" stop-color="#00baff"/><stop offset="0.571" stop-color="#04fffb"/><stop offset="0.592" stop-color="#45ffba"/><stop offset="0.612" stop-color="#80ff80"/><stop offset="0.633" stop-color="#baff45"/><stop offset="0.653" stop-color="#f4ff0b"/><stop offset="0.673" stop-color="#fffb00"/><stop offset="0.694" stop-color="#e5ff1a"/><stop offset="0.714" stop-color="#9aff65"/><stop offset="0.735" stop-color="#20ffdf"/><stop offset="0.755" stop-color="#00cfff"/><stop offset="0.776" stop-color="#00a8ff"/><stop offset="0.796" stop-color="#0095ff"/><stop offset="0.816" stop-color="#0095ff"/><stop offset="0.837" stop-color="#0095ff"/><stop offset="0.857" stop-color="#0095ff"/><stop offset="0.878" stop-color="#0093ff"/><stop offset="0.898" stop-color="#008dff"/><stop offset="0.918" stop-color="#0082ff"/><stop offset="0.939" stop-color="#0072ff"/><stop offset="0.959" stop-color="#006aff"/><stop offset="0.98" stop-color="#006aff"/><stop offset="1" stop-color="#006aff"/></linearGradient><linearGradient id="gb29" gradientUnits="userSpaceOnUse" x1="829.7" y1="0" x2="1221.7" y2="0"><stop offset="0" stop-color="#000bff"/><stop offset="0.02" stop-color="#000bff"/><stop offset="0.041" stop-color="#000bff"/><stop offset="0.061" stop-color="#000bff"/><stop offset="0.082" stop-color="#000bff"/><stop offset="0.102" stop-color="#000bff"/><stop offset="0.122" stop-color="#000bff"/><stop offset="0.143" stop-color="#000bff"/><stop offset="0.163" stop-color="#000bff"/><stop offset="0.184" stop-color="#0000fc"/><stop offset="0.204" stop-color="#0000e0"/><stop offset="0.224" stop-color="#0000d1"/><stop offset="0.245" stop-color="#0000d1"/><stop offset="0.265" stop-color="#0000d1"/><stop offset="0.286" stop-color="#0000d1"/><stop offset="0.306" stop-color="#0000e9"/><stop offset="0.327" stop-color="#001aff"/><stop offset="0.347" stop-color="#0034ff"/><stop offset="0.367" stop-color="#003bff"/><stop offset="0.388" stop-color="#003eff"/><stop offset="0.408" stop-color="#003eff"/><stop offset="0.429" stop-color="#0049ff"/><stop offset="0.449" stop-color="#005fff"/><stop offset="0.469" stop-color="#006aff"/><stop offset="0.49" stop-color="#006aff"/><stop offset="0.51" stop-color="#0075ff"/><stop offset="0.531" stop-color="#008aff"/><stop offset="0.551" stop-color="#00baff"/><stop offset="0.571" stop-color="#04fffb"/><stop offset="0.592" stop-color="#45ffba"/><stop offset="0.612" stop-color="#80ff80"/><stop offset="0.633" stop-color="#baff45"/><stop offset="0.653" stop-color="#f4ff0b"/><stop offset="0.673" stop-color="#fffb00"/><stop offset="0.694" stop-color="#e5ff1a"/><stop offset="0.714" stop-color="#9dff62"/><stop offset="0.735" stop-color="#28ffd7"/><stop offset="0.755" stop-color="#00d7ff"/><stop offset="0.776" stop-color="#00abff"/><stop offset="0.796" stop-color="#0095ff"/><stop offset="0.816" stop-color="#0095ff"/><stop offset="0.837" stop-color="#0095ff"/><stop offset="0.857" stop-color="#0095ff"/><stop offset="0.878" stop-color="#0093ff"/><stop offset="0.898" stop-color="#008dff"/><stop offset="0.918" stop-color="#0082ff"/><stop offset="0.939" stop-color="#0072ff"/><stop offset="0.959" stop-color="#006aff"/><stop offset="0.98" stop-color="#006aff"/><stop offset="1" stop-color="#006aff"/></linearGradient><linearGradient id="gb30" gradientUnits="userSpaceOnUse" x1="829.7" y1="0" x2="1221.7" y2="0"><stop offset="0" stop-color="#000bff"/><stop offset="0.02" stop-color="#000bff"/><stop offset="0.041" stop-color="#000bff"/><stop offset="0.061" stop-color="#000bff"/><stop offset="0.082" stop-color="#000bff"/><stop offset="0.102" stop-color="#000bff"/><stop offset="0.122" stop-color="#000bff"/><stop offset="0.143" stop-color="#000bff"/><stop offset="0.163" stop-color="#000bff"/><stop offset="0.184" stop-color="#0000f5"/><stop offset="0.204" stop-color="#0000cc"/><stop offset="0.224" stop-color="#0000b8"/><stop offset="0.245" stop-color="#0000b8"/><stop offset="0.265" stop-color="#0000b8"/><stop offset="0.286" stop-color="#0000b8"/><stop offset="0.306" stop-color="#0000d0"/><stop offset="0.327" stop-color="#0000ff"/><stop offset="0.347" stop-color="#0021ff"/><stop offset="0.367" stop-color="#0034ff"/><stop offset="0.388" stop-color="#003eff"/><stop offset="0.408" stop-color="#003eff"/><stop offset="0.429" stop-color="#0049ff"/><stop offset="0.449" stop-color="#005fff"/><stop offset="0.469" stop-color="#006aff"/><stop offset="0.49" stop-color="#006aff"/><stop offset="0.51" stop-color="#0075ff"/><stop offset="0.531" stop-color="#008aff"/><stop offset="0.551" stop-color="#00baff"/><stop offset="0.571" stop-color="#04fffb"/><stop offset="0.592" stop-color="#45ffba"/><stop offset="0.612" stop-color="#80ff80"/><stop offset="0.633" stop-color="#baff45"/><stop offset="0.653" stop-color="#f4ff0b"/><stop offset="0.673" stop-color="#fffb00"/><stop offset="0.694" stop-color="#e5ff1a"/><stop offset="0.714" stop-color="#9dff62"/><stop offset="0.735" stop-color="#28ffd7"/><stop offset="0.755" stop-color="#00d7ff"/><stop offset="0.776" stop-color="#00abff"/><stop offset="0.796" stop-color="#0095ff"/><stop offset="0.816" stop-color="#0095ff"/><stop offset="0.837" stop-color="#0095ff"/><stop offset="0.857" stop-color="#0095ff"/><stop offset="0.878" stop-color="#008dff"/><stop offset="0.898" stop-color="#007dff"/><stop offset="0.918" stop-color="#0072ff"/><stop offset="0.939" stop-color="#006cff"/><stop offset="0.959" stop-color="#006aff"/><stop offset="0.98" stop-color="#006aff"/><stop offset="1" stop-color="#006aff"/></linearGradient><linearGradient id="gb31" gradientUnits="userSpaceOnUse" x1="829.7" y1="0" x2="1221.7" y2="0"><stop offset="0" stop-color="#000bff"/><stop offset="0.02" stop-color="#000bff"/><stop offset="0.041" stop-color="#000bff"/><stop offset="0.061" stop-color="#000bff"/><stop offset="0.082" stop-color="#000bff"/><stop offset="0.102" stop-color="#0008ff"/><stop offset="0.122" stop-color="#0003ff"/><stop offset="0.143" stop-color="#0000fc"/><stop offset="0.163" stop-color="#0000f5"/><stop offset="0.184" stop-color="#0000e0"/><stop offset="0.204" stop-color="#0000bd"/><stop offset="0.224" stop-color="#0000a9"/><stop offset="0.245" stop-color="#0000a6"/><stop offset="0.265" stop-color="#0000a4"/><stop offset="0.286" stop-color="#0000a4"/><stop offset="0.306" stop-color="#0000bd"/><stop offset="0.327" stop-color="#0000f0"/><stop offset="0.347" stop-color="#0014ff"/><stop offset="0.367" stop-color="#0028ff"/><stop offset="0.388" stop-color="#0034ff"/><stop offset="0.408" stop-color="#003bff"/><stop offset="0.429" stop-color="#0049ff"/><stop offset="0.449" stop-color="#005fff"/><stop offset="0.469" stop-color="#006aff"/><stop offset="0.49" stop-color="#006aff"/><stop offset="0.51" stop-color="#0075ff"/><stop offset="0.531" stop-color="#008aff"/><stop offset="0.551" stop-color="#00b6ff"/><stop offset="0.571" stop-color="#00f8ff"/><stop offset="0.592" stop-color="#37ffc8"/><stop offset="0.612" stop-color="#71ff8e"/><stop offset="0.633" stop-color="#afff50"/><stop offset="0.653" stop-color="#f0ff0f"/><stop offset="0.673" stop-color="#fffb00"/><stop offset="0.694" stop-color="#e5ff1a"/><stop offset="0.714" stop-color="#9dff62"/><stop offset="0.735" stop-color="#28ffd7"/><stop offset="0.755" stop-color="#00d7ff"/><stop offset="0.776" stop-color="#00abff"/><stop offset="0.796" stop-color="#0095ff"/><stop offset="0.816" stop-color="#0095ff"/><stop offset="0.837" stop-color="#0093ff"/><stop offset="0.857" stop-color="#008dff"/><stop offset="0.878" stop-color="#0082ff"/><stop offset="0.898" stop-color="#0072ff"/><stop offset="0.918" stop-color="#006aff"/><stop offset="0.939" stop-color="#006aff"/><stop offset="0.959" stop-color="#0067ff"/><stop offset="0.98" stop-color="#0061ff"/><stop offset="1" stop-color="#005fff"/></linearGradient><linearGradient id="gb32" gradientUnits="userSpaceOnUse" x1="829.7" y1="0" x2="1221.7" y2="0"><stop offset="0" stop-color="#000bff"/><stop offset="0.02" stop-color="#000bff"/><stop offset="0.041" stop-color="#000bff"/><stop offset="0.061" stop-color="#000bff"/><stop offset="0.082" stop-color="#000bff"/><stop offset="0.102" stop-color="#0003ff"/><stop offset="0.122" stop-color="#0000f1"/><stop offset="0.143" stop-color="#0000e0"/><stop offset="0.163" stop-color="#0000cc"/><stop offset="0.184" stop-color="#0000bd"/><stop offset="0.204" stop-color="#0000b1"/><stop offset="0.224" stop-color="#0000a6"/><stop offset="0.245" stop-color="#00009b"/><stop offset="0.265" stop-color="#000095"/><stop offset="0.286" stop-color="#000095"/><stop offset="0.306" stop-color="#0000b2"/><stop offset="0.327" stop-color="#0000ed"/><stop offset="0.347" stop-color="#000eff"/><stop offset="0.367" stop-color="#0014ff"/><stop offset="0.388" stop-color="#0021ff"/><stop offset="0.408" stop-color="#0034ff"/><stop offset="0.429" stop-color="#0049ff"/><stop offset="0.449" stop-color="#005fff"/><stop offset="0.469" stop-color="#006aff"/><stop offset="0.49" stop-color="#006aff"/><stop offset="0.51" stop-color="#0075ff"/><stop offset="0.531" stop-color="#008aff"/><stop offset="0.551" stop-color="#00afff"/><stop offset="0.571" stop-color="#00e2ff"/><stop offset="0.592" stop-color="#1affe5"/><stop offset="0.612" stop-color="#54ffab"/><stop offset="0.633" stop-color="#99ff66"/><stop offset="0.653" stop-color="#e9ff16"/><stop offset="0.673" stop-color="#fffb00"/><stop offset="0.694" stop-color="#e5ff1a"/><stop offset="0.714" stop-color="#9dff62"/><stop offset="0.735" stop-color="#28ffd7"/><stop offset="0.755" stop-color="#00d7ff"/><stop offset="0.776" stop-color="#00abff"/><stop offset="0.796" stop-color="#0095ff"/><stop offset="0.816" stop-color="#0095ff"/><stop offset="0.837" stop-color="#008dff"/><stop offset="0.857" stop-color="#007dff"/><stop offset="0.878" stop-color="#0072ff"/><stop offset="0.898" stop-color="#006cff"/><stop offset="0.918" stop-color="#006aff"/><stop offset="0.939" stop-color="#006aff"/><stop offset="0.959" stop-color="#0061ff"/><stop offset="0.98" stop-color="#0051ff"/><stop offset="1" stop-color="#0049ff"/></linearGradient><linearGradient id="gb33" gradientUnits="userSpaceOnUse" x1="829.7" y1="0" x2="1221.7" y2="0"><stop offset="0" stop-color="#0018ff"/><stop offset="0.02" stop-color="#0018ff"/><stop offset="0.041" stop-color="#0018ff"/><stop offset="0.061" stop-color="#0014ff"/><stop offset="0.082" stop-color="#000eff"/><stop offset="0.102" stop-color="#0000ff"/><stop offset="0.122" stop-color="#0000e9"/><stop offset="0.143" stop-color="#0000d5"/><stop offset="0.163" stop-color="#0000c2"/><stop offset="0.184" stop-color="#0000b5"/><stop offset="0.204" stop-color="#0000ae"/><stop offset="0.224" stop-color="#0000a4"/><stop offset="0.245" stop-color="#000095"/><stop offset="0.265" stop-color="#000090"/><stop offset="0.286" stop-color="#000094"/><stop offset="0.306" stop-color="#0000b2"/><stop offset="0.327" stop-color="#0000ed"/><stop offset="0.347" stop-color="#000eff"/><stop offset="0.367" stop-color="#0014ff"/><stop offset="0.388" stop-color="#0024ff"/><stop offset="0.408" stop-color="#003dff"/><stop offset="0.429" stop-color="#0051ff"/><stop offset="0.449" stop-color="#0061ff"/><stop offset="0.469" stop-color="#006aff"/><stop offset="0.49" stop-color="#006aff"/><stop offset="0.51" stop-color="#0075ff"/><stop offset="0.531" stop-color="#008aff"/><stop offset="0.551" stop-color="#00abff"/><stop offset="0.571" stop-color="#00d7ff"/><stop offset="0.592" stop-color="#0bfff4"/><stop offset="0.612" stop-color="#45ffba"/><stop offset="0.633" stop-color="#8eff71"/><stop offset="0.653" stop-color="#e5ff1a"/><stop offset="0.673" stop-color="#fffb00"/><stop offset="0.694" stop-color="#e5ff1a"/><stop offset="0.714" stop-color="#9dff62"/><stop offset="0.735" stop-color="#28ffd7"/><stop offset="0.755" stop-color="#00d7ff"/><stop offset="0.776" stop-color="#00abff"/><stop offset="0.796" stop-color="#0093ff"/><stop offset="0.816" stop-color="#008dff"/><stop offset="0.837" stop-color="#0082ff"/><stop offset="0.857" stop-color="#0072ff"/><stop offset="0.878" stop-color="#006aff"/><stop offset="0.898" stop-color="#006aff"/><stop offset="0.918" stop-color="#0067ff"/><stop offset="0.939" stop-color="#0061ff"/><stop offset="0.959" stop-color="#0057ff"/><stop offset="0.98" stop-color="#0046ff"/><stop offset="1" stop-color="#003eff"/></linearGradient><linearGradient id="gb34" gradientUnits="userSpaceOnUse" x1="829.7" y1="0" x2="1221.7" y2="0"><stop offset="0" stop-color="#0031ff"/><stop offset="0.02" stop-color="#0031ff"/><stop offset="0.041" stop-color="#0031ff"/><stop offset="0.061" stop-color="#0028ff"/><stop offset="0.082" stop-color="#0014ff"/><stop offset="0.102" stop-color="#0000ff"/><stop offset="0.122" stop-color="#0000e9"/><stop offset="0.143" stop-color="#0000db"/><stop offset="0.163" stop-color="#0000d5"/><stop offset="0.184" stop-color="#0000c8"/><stop offset="0.204" stop-color="#0000b5"/><stop offset="0.224" stop-color="#0000a4"/><stop offset="0.245" stop-color="#000095"/><stop offset="0.265" stop-color="#000094"/><stop offset="0.286" stop-color="#00009e"/><stop offset="0.306" stop-color="#0000bd"/><stop offset="0.327" stop-color="#0000f0"/><stop offset="0.347" stop-color="#0014ff"/><stop offset="0.367" stop-color="#0028ff"/><stop offset="0.388" stop-color="#003dff"/><stop offset="0.408" stop-color="#0053ff"/><stop offset="0.429" stop-color="#0061ff"/><stop offset="0.449" stop-color="#0067ff"/><stop offset="0.469" stop-color="#006aff"/><stop offset="0.49" stop-color="#006aff"/><stop offset="0.51" stop-color="#0075ff"/><stop offset="0.531" stop-color="#008aff"/><stop offset="0.551" stop-color="#00abff"/><stop offset="0.571" stop-color="#00d7ff"/><stop offset="0.592" stop-color="#0bfff4"/><stop offset="0.612" stop-color="#45ffba"/><stop offset="0.633" stop-color="#8eff71"/><stop offset="0.653" stop-color="#e5ff1a"/><stop offset="0.673" stop-color="#fffb00"/><stop offset="0.694" stop-color="#e5ff1a"/><stop offset="0.714" stop-color="#9dff62"/><stop offset="0.735" stop-color="#28ffd7"/><stop offset="0.755" stop-color="#00d7ff"/><stop offset="0.776" stop-color="#00abff"/><stop offset="0.796" stop-color="#008dff"/><stop offset="0.816" stop-color="#007dff"/><stop offset="0.837" stop-color="#0072ff"/><stop offset="0.857" stop-color="#006cff"/><stop offset="0.878" stop-color="#006aff"/><stop offset="0.898" stop-color="#006aff"/><stop offset="0.918" stop-color="#0061ff"/><stop offset="0.939" stop-color="#0051ff"/><stop offset="0.959" stop-color="#0046ff"/><stop offset="0.98" stop-color="#0041ff"/><stop offset="1" stop-color="#003eff"/></linearGradient><linearGradient id="gb35" gradientUnits="userSpaceOnUse" x1="829.7" y1="0" x2="1221.7" y2="0"><stop offset="0" stop-color="#003eff"/><stop offset="0.02" stop-color="#003bff"/><stop offset="0.041" stop-color="#0034ff"/><stop offset="0.061" stop-color="#0025ff"/><stop offset="0.082" stop-color="#000cff"/><stop offset="0.102" stop-color="#0000f7"/><stop offset="0.122" stop-color="#0000e6"/><stop offset="0.143" stop-color="#0000de"/><stop offset="0.163" stop-color="#0000de"/><stop offset="0.184" stop-color="#0000dd"/><stop offset="0.204" stop-color="#0000db"/><stop offset="0.224" stop-color="#0000d8"/><stop offset="0.245" stop-color="#0000d2"/><stop offset="0.265" stop-color="#0000c7"/><stop offset="0.286" stop-color="#0000b4"/><stop offset="0.306" stop-color="#0000c0"/><stop offset="0.327" stop-color="#0000ea"/><stop offset="0.347" stop-color="#0018ff"/><stop offset="0.367" stop-color="#0047ff"/><stop offset="0.388" stop-color="#006aff"/><stop offset="0.408" stop-color="#0080ff"/><stop offset="0.429" stop-color="#0088ff"/><stop offset="0.449" stop-color="#0082ff"/><stop offset="0.469" stop-color="#007dff"/><stop offset="0.49" stop-color="#0077ff"/><stop offset="0.51" stop-color="#007dff"/><stop offset="0.531" stop-color="#008dff"/><stop offset="0.551" stop-color="#00a8ff"/><stop offset="0.571" stop-color="#00cfff"/><stop offset="0.592" stop-color="#00feff"/><stop offset="0.612" stop-color="#38ffc7"/><stop offset="0.633" stop-color="#80ff80"/><stop offset="0.653" stop-color="#d7ff28"/><stop offset="0.673" stop-color="#fbff04"/><stop offset="0.694" stop-color="#edff12"/><stop offset="0.714" stop-color="#a8ff57"/><stop offset="0.735" stop-color="#2cffd3"/><stop offset="0.755" stop-color="#00d7ff"/><stop offset="0.776" stop-color="#00abff"/><stop offset="0.796" stop-color="#008aff"/><stop offset="0.816" stop-color="#0075ff"/><stop offset="0.837" stop-color="#006aff"/><stop offset="0.857" stop-color="#006aff"/><stop offset="0.878" stop-color="#006aff"/><stop offset="0.898" stop-color="#006aff"/><stop offset="0.918" stop-color="#005fff"/><stop offset="0.939" stop-color="#0049ff"/><stop offset="0.959" stop-color="#003eff"/><stop offset="0.98" stop-color="#003eff"/><stop offset="1" stop-color="#003eff"/></linearGradient><linearGradient id="gb36" gradientUnits="userSpaceOnUse" x1="829.7" y1="0" x2="1221.7" y2="0"><stop offset="0" stop-color="#003eff"/><stop offset="0.02" stop-color="#0034ff"/><stop offset="0.041" stop-color="#0021ff"/><stop offset="0.061" stop-color="#000cff"/><stop offset="0.082" stop-color="#0000f5"/><stop offset="0.102" stop-color="#0000e6"/><stop offset="0.122" stop-color="#0000e1"/><stop offset="0.143" stop-color="#0000de"/><stop offset="0.163" stop-color="#0000de"/><stop offset="0.184" stop-color="#0000f5"/><stop offset="0.204" stop-color="#0024ff"/><stop offset="0.224" stop-color="#0041ff"/><stop offset="0.245" stop-color="#004dff"/><stop offset="0.265" stop-color="#002aff"/><stop offset="0.286" stop-color="#0000d5"/><stop offset="0.306" stop-color="#0000bb"/><stop offset="0.327" stop-color="#0000da"/><stop offset="0.347" stop-color="#0018ff"/><stop offset="0.367" stop-color="#0073ff"/><stop offset="0.388" stop-color="#00abff"/><stop offset="0.408" stop-color="#00c1ff"/><stop offset="0.429" stop-color="#00c4ff"/><stop offset="0.449" stop-color="#00b3ff"/><stop offset="0.469" stop-color="#00a3ff"/><stop offset="0.49" stop-color="#0093ff"/><stop offset="0.51" stop-color="#008dff"/><stop offset="0.531" stop-color="#0093ff"/><stop offset="0.551" stop-color="#00a3ff"/><stop offset="0.571" stop-color="#00beff"/><stop offset="0.592" stop-color="#00e6ff"/><stop offset="0.612" stop-color="#1cffe3"/><stop offset="0.633" stop-color="#62ff9d"/><stop offset="0.653" stop-color="#baff45"/><stop offset="0.673" stop-color="#edff12"/><stop offset="0.694" stop-color="#fbff04"/><stop offset="0.714" stop-color="#bdff42"/><stop offset="0.735" stop-color="#33ffcc"/><stop offset="0.755" stop-color="#00d7ff"/><stop offset="0.776" stop-color="#00abff"/><stop offset="0.796" stop-color="#008aff"/><stop offset="0.816" stop-color="#0075ff"/><stop offset="0.837" stop-color="#006aff"/><stop offset="0.857" stop-color="#006aff"/><stop offset="0.878" stop-color="#006aff"/><stop offset="0.898" stop-color="#006aff"/><stop offset="0.918" stop-color="#005fff"/><stop offset="0.939" stop-color="#0049ff"/><stop offset="0.959" stop-color="#003eff"/><stop offset="0.98" stop-color="#003eff"/><stop offset="1" stop-color="#003eff"/></linearGradient><linearGradient id="gb37" gradientUnits="userSpaceOnUse" x1="829.7" y1="0" x2="1221.7" y2="0"><stop offset="0" stop-color="#0031ff"/><stop offset="0.02" stop-color="#0028ff"/><stop offset="0.041" stop-color="#0014ff"/><stop offset="0.061" stop-color="#0000ff"/><stop offset="0.082" stop-color="#0000e9"/><stop offset="0.102" stop-color="#0000e1"/><stop offset="0.122" stop-color="#0000e6"/><stop offset="0.143" stop-color="#0000e6"/><stop offset="0.163" stop-color="#0000e1"/><stop offset="0.184" stop-color="#0000fe"/><stop offset="0.204" stop-color="#003fff"/><stop offset="0.224" stop-color="#0067ff"/><stop offset="0.245" stop-color="#0077ff"/><stop offset="0.265" stop-color="#004bff"/><stop offset="0.286" stop-color="#0000e0"/><stop offset="0.306" stop-color="#0000bb"/><stop offset="0.327" stop-color="#0000da"/><stop offset="0.347" stop-color="#001dff"/><stop offset="0.367" stop-color="#0083ff"/><stop offset="0.388" stop-color="#00beff"/><stop offset="0.408" stop-color="#00cfff"/><stop offset="0.429" stop-color="#00cfff"/><stop offset="0.449" stop-color="#00beff"/><stop offset="0.469" stop-color="#00a3ff"/><stop offset="0.49" stop-color="#007bff"/><stop offset="0.51" stop-color="#0073ff"/><stop offset="0.531" stop-color="#008aff"/><stop offset="0.551" stop-color="#009eff"/><stop offset="0.571" stop-color="#00aeff"/><stop offset="0.592" stop-color="#00d2ff"/><stop offset="0.612" stop-color="#0cfff3"/><stop offset="0.633" stop-color="#54ffab"/><stop offset="0.653" stop-color="#abff54"/><stop offset="0.673" stop-color="#e5ff1a"/><stop offset="0.694" stop-color="#fffb00"/><stop offset="0.714" stop-color="#ccff33"/><stop offset="0.735" stop-color="#42ffbd"/><stop offset="0.755" stop-color="#00e7ff"/><stop offset="0.776" stop-color="#00bfff"/><stop offset="0.796" stop-color="#00a0ff"/><stop offset="0.816" stop-color="#008aff"/><stop offset="0.837" stop-color="#0077ff"/><stop offset="0.857" stop-color="#0067ff"/><stop offset="0.878" stop-color="#005fff"/><stop offset="0.898" stop-color="#005fff"/><stop offset="0.918" stop-color="#0057ff"/><stop offset="0.939" stop-color="#0046ff"/><stop offset="0.959" stop-color="#003eff"/><stop offset="0.98" stop-color="#003eff"/><stop offset="1" stop-color="#003eff"/></linearGradient><linearGradient id="gb38" gradientUnits="userSpaceOnUse" x1="829.7" y1="0" x2="1221.7" y2="0"><stop offset="0" stop-color="#0018ff"/><stop offset="0.02" stop-color="#0014ff"/><stop offset="0.041" stop-color="#000eff"/><stop offset="0.061" stop-color="#0000ff"/><stop offset="0.082" stop-color="#0000e9"/><stop offset="0.102" stop-color="#0000e6"/><stop offset="0.122" stop-color="#0000f7"/><stop offset="0.143" stop-color="#0000f7"/><stop offset="0.163" stop-color="#0000e6"/><stop offset="0.184" stop-color="#0000f9"/><stop offset="0.204" stop-color="#002eff"/><stop offset="0.224" stop-color="#004cff"/><stop offset="0.245" stop-color="#0051ff"/><stop offset="0.265" stop-color="#002aff"/><stop offset="0.286" stop-color="#0000d5"/><stop offset="0.306" stop-color="#0000c0"/><stop offset="0.327" stop-color="#0000ea"/><stop offset="0.347" stop-color="#0028ff"/><stop offset="0.367" stop-color="#0078ff"/><stop offset="0.388" stop-color="#00a3ff"/><stop offset="0.408" stop-color="#00a8ff"/><stop offset="0.429" stop-color="#00a8ff"/><stop offset="0.449" stop-color="#00a3ff"/><stop offset="0.469" stop-color="#007bff"/><stop offset="0.49" stop-color="#0032ff"/><stop offset="0.51" stop-color="#002fff"/><stop offset="0.531" stop-color="#0073ff"/><stop offset="0.551" stop-color="#0098ff"/><stop offset="0.571" stop-color="#009eff"/><stop offset="0.592" stop-color="#00c2ff"/><stop offset="0.612" stop-color="#06fff9"/><stop offset="0.633" stop-color="#54ffab"/><stop offset="0.653" stop-color="#abff54"/><stop offset="0.673" stop-color="#e5ff1a"/><stop offset="0.694" stop-color="#fffb00"/><stop offset="0.714" stop-color="#d3ff2c"/><stop offset="0.735" stop-color="#57ffa8"/><stop offset="0.755" stop-color="#09fff6"/><stop offset="0.776" stop-color="#00e7ff"/><stop offset="0.796" stop-color="#00ccff"/><stop offset="0.816" stop-color="#00b6ff"/><stop offset="0.837" stop-color="#0093ff"/><stop offset="0.857" stop-color="#0061ff"/><stop offset="0.878" stop-color="#0049ff"/><stop offset="0.898" stop-color="#0049ff"/><stop offset="0.918" stop-color="#0046ff"/><stop offset="0.939" stop-color="#0041ff"/><stop offset="0.959" stop-color="#003eff"/><stop offset="0.98" stop-color="#003eff"/><stop offset="1" stop-color="#003eff"/></linearGradient><linearGradient id="gb39" gradientUnits="userSpaceOnUse" x1="829.7" y1="0" x2="1221.7" y2="0"><stop offset="0" stop-color="#000bff"/><stop offset="0.02" stop-color="#000bff"/><stop offset="0.041" stop-color="#000bff"/><stop offset="0.061" stop-color="#0000ff"/><stop offset="0.082" stop-color="#0000e9"/><stop offset="0.102" stop-color="#0000ec"/><stop offset="0.122" stop-color="#000aff"/><stop offset="0.143" stop-color="#000cff"/><stop offset="0.163" stop-color="#0000f5"/><stop offset="0.184" stop-color="#0000fe"/><stop offset="0.204" stop-color="#0029ff"/><stop offset="0.224" stop-color="#003eff"/><stop offset="0.245" stop-color="#003eff"/><stop offset="0.265" stop-color="#001dff"/><stop offset="0.286" stop-color="#0000d9"/><stop offset="0.306" stop-color="#0000d2"/><stop offset="0.327" stop-color="#0008ff"/><stop offset="0.347" stop-color="#003fff"/><stop offset="0.367" stop-color="#0079ff"/><stop offset="0.388" stop-color="#0095ff"/><stop offset="0.408" stop-color="#0095ff"/><stop offset="0.429" stop-color="#0093ff"/><stop offset="0.449" stop-color="#008dff"/><stop offset="0.469" stop-color="#005cff"/><stop offset="0.49" stop-color="#0000ff"/><stop offset="0.51" stop-color="#0000ff"/><stop offset="0.531" stop-color="#005cff"/><stop offset="0.551" stop-color="#008dff"/><stop offset="0.571" stop-color="#0093ff"/><stop offset="0.592" stop-color="#00baff"/><stop offset="0.612" stop-color="#04fffb"/><stop offset="0.633" stop-color="#54ffab"/><stop offset="0.653" stop-color="#abff54"/><stop offset="0.673" stop-color="#e5ff1a"/><stop offset="0.694" stop-color="#fffb00"/><stop offset="0.714" stop-color="#d7ff28"/><stop offset="0.735" stop-color="#62ff9d"/><stop offset="0.755" stop-color="#1affe5"/><stop offset="0.776" stop-color="#00fbff"/><stop offset="0.796" stop-color="#00e2ff"/><stop offset="0.816" stop-color="#00ccff"/><stop offset="0.837" stop-color="#00a0ff"/><stop offset="0.857" stop-color="#005fff"/><stop offset="0.878" stop-color="#003eff"/><stop offset="0.898" stop-color="#003eff"/><stop offset="0.918" stop-color="#003eff"/><stop offset="0.939" stop-color="#003eff"/><stop offset="0.959" stop-color="#003eff"/><stop offset="0.98" stop-color="#003eff"/><stop offset="1" stop-color="#003eff"/></linearGradient><linearGradient id="gb40" gradientUnits="userSpaceOnUse" x1="829.7" y1="0" x2="1221.7" y2="0"><stop offset="0" stop-color="#000bff"/><stop offset="0.02" stop-color="#000bff"/><stop offset="0.041" stop-color="#000bff"/><stop offset="0.061" stop-color="#0000ff"/><stop offset="0.082" stop-color="#0000e9"/><stop offset="0.102" stop-color="#0000f3"/><stop offset="0.122" stop-color="#001dff"/><stop offset="0.143" stop-color="#0025ff"/><stop offset="0.163" stop-color="#000cff"/><stop offset="0.184" stop-color="#000fff"/><stop offset="0.204" stop-color="#002eff"/><stop offset="0.224" stop-color="#003eff"/><stop offset="0.245" stop-color="#003eff"/><stop offset="0.265" stop-color="#0023ff"/><stop offset="0.286" stop-color="#0000ec"/><stop offset="0.306" stop-color="#0000f1"/><stop offset="0.327" stop-color="#0032ff"/><stop offset="0.347" stop-color="#0063ff"/><stop offset="0.367" stop-color="#0085ff"/><stop offset="0.388" stop-color="#0095ff"/><stop offset="0.408" stop-color="#0095ff"/><stop offset="0.429" stop-color="#008dff"/><stop offset="0.449" stop-color="#007dff"/><stop offset="0.469" stop-color="#0046ff"/><stop offset="0.49" stop-color="#0000e7"/><stop offset="0.51" stop-color="#0000e7"/><stop offset="0.531" stop-color="#0046ff"/><stop offset="0.551" stop-color="#007dff"/><stop offset="0.571" stop-color="#008dff"/><stop offset="0.592" stop-color="#00baff"/><stop offset="0.612" stop-color="#04fffb"/><stop offset="0.633" stop-color="#54ffab"/><stop offset="0.653" stop-color="#abff54"/><stop offset="0.673" stop-color="#e5ff1a"/><stop offset="0.694" stop-color="#fffb00"/><stop offset="0.714" stop-color="#d7ff28"/><stop offset="0.735" stop-color="#62ff9d"/><stop offset="0.755" stop-color="#1affe5"/><stop offset="0.776" stop-color="#00fbff"/><stop offset="0.796" stop-color="#00e2ff"/><stop offset="0.816" stop-color="#00ccff"/><stop offset="0.837" stop-color="#00a0ff"/><stop offset="0.857" stop-color="#005fff"/><stop offset="0.878" stop-color="#003eff"/><stop offset="0.898" stop-color="#003eff"/><stop offset="0.918" stop-color="#003eff"/><stop offset="0.939" stop-color="#003eff"/><stop offset="0.959" stop-color="#003eff"/><stop offset="0.98" stop-color="#003eff"/><stop offset="1" stop-color="#003eff"/></linearGradient><linearGradient id="gb41" gradientUnits="userSpaceOnUse" x1="829.7" y1="0" x2="1221.7" y2="0"><stop offset="0" stop-color="#0000ff"/><stop offset="0.02" stop-color="#0000ff"/><stop offset="0.041" stop-color="#0000ff"/><stop offset="0.061" stop-color="#0000fa"/><stop offset="0.082" stop-color="#0000ef"/><stop offset="0.102" stop-color="#0000fe"/><stop offset="0.122" stop-color="#0029ff"/><stop offset="0.143" stop-color="#0031ff"/><stop offset="0.163" stop-color="#0018ff"/><stop offset="0.184" stop-color="#0018ff"/><stop offset="0.204" stop-color="#0031ff"/><stop offset="0.224" stop-color="#003eff"/><stop offset="0.245" stop-color="#003eff"/><stop offset="0.265" stop-color="#0029ff"/><stop offset="0.286" stop-color="#0000fe"/><stop offset="0.306" stop-color="#000aff"/><stop offset="0.327" stop-color="#004aff"/><stop offset="0.347" stop-color="#0075ff"/><stop offset="0.367" stop-color="#008aff"/><stop offset="0.388" stop-color="#0093ff"/><stop offset="0.408" stop-color="#008dff"/><stop offset="0.429" stop-color="#0080ff"/><stop offset="0.449" stop-color="#006aff"/><stop offset="0.469" stop-color="#0035ff"/><stop offset="0.49" stop-color="#0000e1"/><stop offset="0.51" stop-color="#0000e4"/><stop offset="0.531" stop-color="#003dff"/><stop offset="0.551" stop-color="#0075ff"/><stop offset="0.571" stop-color="#008aff"/><stop offset="0.592" stop-color="#00b6ff"/><stop offset="0.612" stop-color="#00f8ff"/><stop offset="0.633" stop-color="#42ffbd"/><stop offset="0.653" stop-color="#92ff6d"/><stop offset="0.673" stop-color="#c8ff37"/><stop offset="0.694" stop-color="#e5ff1a"/><stop offset="0.714" stop-color="#c1ff3e"/><stop offset="0.735" stop-color="#5bffa4"/><stop offset="0.755" stop-color="#1affe5"/><stop offset="0.776" stop-color="#00fbff"/><stop offset="0.796" stop-color="#00dcff"/><stop offset="0.816" stop-color="#00bcff"/><stop offset="0.837" stop-color="#0090ff"/><stop offset="0.857" stop-color="#0059ff"/><stop offset="0.878" stop-color="#003eff"/><stop offset="0.898" stop-color="#003eff"/><stop offset="0.918" stop-color="#003eff"/><stop offset="0.939" stop-color="#003eff"/><stop offset="0.959" stop-color="#003eff"/><stop offset="0.98" stop-color="#003eff"/><stop offset="1" stop-color="#003eff"/></linearGradient><linearGradient id="gb42" gradientUnits="userSpaceOnUse" x1="829.7" y1="0" x2="1221.7" y2="0"><stop offset="0" stop-color="#0000e9"/><stop offset="0.02" stop-color="#0000e9"/><stop offset="0.041" stop-color="#0000e9"/><stop offset="0.061" stop-color="#0000ef"/><stop offset="0.082" stop-color="#0000fa"/><stop offset="0.102" stop-color="#000fff"/><stop offset="0.122" stop-color="#002eff"/><stop offset="0.143" stop-color="#0031ff"/><stop offset="0.163" stop-color="#0018ff"/><stop offset="0.184" stop-color="#0018ff"/><stop offset="0.204" stop-color="#0031ff"/><stop offset="0.224" stop-color="#003eff"/><stop offset="0.245" stop-color="#003eff"/><stop offset="0.265" stop-color="#002eff"/><stop offset="0.286" stop-color="#000fff"/><stop offset="0.306" stop-color="#001aff"/><stop offset="0.327" stop-color="#004fff"/><stop offset="0.347" stop-color="#0075ff"/><stop offset="0.367" stop-color="#008aff"/><stop offset="0.388" stop-color="#008dff"/><stop offset="0.408" stop-color="#007dff"/><stop offset="0.429" stop-color="#006aff"/><stop offset="0.449" stop-color="#0054ff"/><stop offset="0.469" stop-color="#002bff"/><stop offset="0.49" stop-color="#0000ef"/><stop offset="0.51" stop-color="#0000f7"/><stop offset="0.531" stop-color="#0044ff"/><stop offset="0.551" stop-color="#0075ff"/><stop offset="0.571" stop-color="#008aff"/><stop offset="0.592" stop-color="#00afff"/><stop offset="0.612" stop-color="#00e2ff"/><stop offset="0.633" stop-color="#1dffe2"/><stop offset="0.653" stop-color="#5fffa0"/><stop offset="0.673" stop-color="#8eff71"/><stop offset="0.694" stop-color="#abff54"/><stop offset="0.714" stop-color="#95ff6a"/><stop offset="0.735" stop-color="#4dffb2"/><stop offset="0.755" stop-color="#1affe5"/><stop offset="0.776" stop-color="#00fbff"/><stop offset="0.796" stop-color="#00d1ff"/><stop offset="0.816" stop-color="#009bff"/><stop offset="0.837" stop-color="#006fff"/><stop offset="0.857" stop-color="#004eff"/><stop offset="0.878" stop-color="#003eff"/><stop offset="0.898" stop-color="#003eff"/><stop offset="0.918" stop-color="#003eff"/><stop offset="0.939" stop-color="#003eff"/><stop offset="0.959" stop-color="#003eff"/><stop offset="0.98" stop-color="#003eff"/><stop offset="1" stop-color="#003eff"/></linearGradient><linearGradient id="gb43" gradientUnits="userSpaceOnUse" x1="829.7" y1="0" x2="1221.7" y2="0"><stop offset="0" stop-color="#0000de"/><stop offset="0.02" stop-color="#0000de"/><stop offset="0.041" stop-color="#0000de"/><stop offset="0.061" stop-color="#0000e9"/><stop offset="0.082" stop-color="#0000ff"/><stop offset="0.102" stop-color="#0014ff"/><stop offset="0.122" stop-color="#0028ff"/><stop offset="0.143" stop-color="#002bff"/><stop offset="0.163" stop-color="#001eff"/><stop offset="0.184" stop-color="#0021ff"/><stop offset="0.204" stop-color="#0034ff"/><stop offset="0.224" stop-color="#003bff"/><stop offset="0.245" stop-color="#0034ff"/><stop offset="0.265" stop-color="#002bff"/><stop offset="0.286" stop-color="#001eff"/><stop offset="0.306" stop-color="#002cff"/><stop offset="0.327" stop-color="#0055ff"/><stop offset="0.347" stop-color="#0072ff"/><stop offset="0.367" stop-color="#0082ff"/><stop offset="0.388" stop-color="#0080ff"/><stop offset="0.408" stop-color="#006aff"/><stop offset="0.429" stop-color="#0051ff"/><stop offset="0.449" stop-color="#0034ff"/><stop offset="0.469" stop-color="#0014ff"/><stop offset="0.49" stop-color="#0000f0"/><stop offset="0.51" stop-color="#0000fe"/><stop offset="0.531" stop-color="#003fff"/><stop offset="0.551" stop-color="#006cff"/><stop offset="0.571" stop-color="#0088ff"/><stop offset="0.592" stop-color="#00abff"/><stop offset="0.612" stop-color="#00d7ff"/><stop offset="0.633" stop-color="#07fff8"/><stop offset="0.653" stop-color="#3affc5"/><stop offset="0.673" stop-color="#5fffa0"/><stop offset="0.694" stop-color="#75ff8a"/><stop offset="0.714" stop-color="#66ff99"/><stop offset="0.735" stop-color="#33ffcc"/><stop offset="0.755" stop-color="#0cfff3"/><stop offset="0.776" stop-color="#00f0ff"/><stop offset="0.796" stop-color="#00c4ff"/><stop offset="0.816" stop-color="#0088ff"/><stop offset="0.837" stop-color="#005fff"/><stop offset="0.857" stop-color="#0049ff"/><stop offset="0.878" stop-color="#003eff"/><stop offset="0.898" stop-color="#003eff"/><stop offset="0.918" stop-color="#003eff"/><stop offset="0.939" stop-color="#003eff"/><stop offset="0.959" stop-color="#003eff"/><stop offset="0.98" stop-color="#003eff"/><stop offset="1" stop-color="#003eff"/></linearGradient><linearGradient id="gb44" gradientUnits="userSpaceOnUse" x1="829.7" y1="0" x2="1221.7" y2="0"><stop offset="0" stop-color="#0000de"/><stop offset="0.02" stop-color="#0000de"/><stop offset="0.041" stop-color="#0000de"/><stop offset="0.061" stop-color="#0000e9"/><stop offset="0.082" stop-color="#0000ff"/><stop offset="0.102" stop-color="#000eff"/><stop offset="0.122" stop-color="#0014ff"/><stop offset="0.143" stop-color="#001eff"/><stop offset="0.163" stop-color="#002bff"/><stop offset="0.184" stop-color="#0034ff"/><stop offset="0.204" stop-color="#003bff"/><stop offset="0.224" stop-color="#0034ff"/><stop offset="0.245" stop-color="#0021ff"/><stop offset="0.265" stop-color="#001eff"/><stop offset="0.286" stop-color="#002bff"/><stop offset="0.306" stop-color="#003fff"/><stop offset="0.327" stop-color="#005cff"/><stop offset="0.347" stop-color="#006cff"/><stop offset="0.367" stop-color="#0072ff"/><stop offset="0.388" stop-color="#006aff"/><stop offset="0.408" stop-color="#0054ff"/><stop offset="0.429" stop-color="#0034ff"/><stop offset="0.449" stop-color="#000bff"/><stop offset="0.469" stop-color="#0000f0"/><stop offset="0.49" stop-color="#0000e4"/><stop offset="0.51" stop-color="#0000f9"/><stop offset="0.531" stop-color="#002eff"/><stop offset="0.551" stop-color="#005cff"/><stop offset="0.571" stop-color="#0082ff"/><stop offset="0.592" stop-color="#00abff"/><stop offset="0.612" stop-color="#00d7ff"/><stop offset="0.633" stop-color="#00ffff"/><stop offset="0.653" stop-color="#24ffdb"/><stop offset="0.673" stop-color="#3affc5"/><stop offset="0.694" stop-color="#42ffbd"/><stop offset="0.714" stop-color="#33ffcc"/><stop offset="0.735" stop-color="#0ffff0"/><stop offset="0.755" stop-color="#00f0ff"/><stop offset="0.776" stop-color="#00d8ff"/><stop offset="0.796" stop-color="#00b3ff"/><stop offset="0.816" stop-color="#0082ff"/><stop offset="0.837" stop-color="#005fff"/><stop offset="0.857" stop-color="#0049ff"/><stop offset="0.878" stop-color="#003eff"/><stop offset="0.898" stop-color="#003eff"/><stop offset="0.918" stop-color="#003eff"/><stop offset="0.939" stop-color="#003eff"/><stop offset="0.959" stop-color="#003eff"/><stop offset="0.98" stop-color="#003eff"/><stop offset="1" stop-color="#003eff"/></linearGradient><linearGradient id="gb45" gradientUnits="userSpaceOnUse" x1="829.7" y1="0" x2="1221.7" y2="0"><stop offset="0" stop-color="#0000de"/><stop offset="0.02" stop-color="#0000de"/><stop offset="0.041" stop-color="#0000de"/><stop offset="0.061" stop-color="#0000e9"/><stop offset="0.082" stop-color="#0000ff"/><stop offset="0.102" stop-color="#000bff"/><stop offset="0.122" stop-color="#000bff"/><stop offset="0.143" stop-color="#0018ff"/><stop offset="0.163" stop-color="#0031ff"/><stop offset="0.184" stop-color="#003eff"/><stop offset="0.204" stop-color="#003eff"/><stop offset="0.224" stop-color="#0031ff"/><stop offset="0.245" stop-color="#0018ff"/><stop offset="0.265" stop-color="#0018ff"/><stop offset="0.286" stop-color="#0031ff"/><stop offset="0.306" stop-color="#0049ff"/><stop offset="0.327" stop-color="#005fff"/><stop offset="0.347" stop-color="#006aff"/><stop offset="0.367" stop-color="#006aff"/><stop offset="0.388" stop-color="#005fff"/><stop offset="0.408" stop-color="#0049ff"/><stop offset="0.429" stop-color="#0026ff"/><stop offset="0.449" stop-color="#0000f6"/><stop offset="0.469" stop-color="#0000de"/><stop offset="0.49" stop-color="#0000de"/><stop offset="0.51" stop-color="#0000f6"/><stop offset="0.531" stop-color="#0026ff"/><stop offset="0.551" stop-color="#0054ff"/><stop offset="0.571" stop-color="#0080ff"/><stop offset="0.592" stop-color="#00abff"/><stop offset="0.612" stop-color="#00d7ff"/><stop offset="0.633" stop-color="#00fbff"/><stop offset="0.653" stop-color="#1affe5"/><stop offset="0.673" stop-color="#28ffd7"/><stop offset="0.694" stop-color="#28ffd7"/><stop offset="0.714" stop-color="#1affe5"/><stop offset="0.735" stop-color="#00fbff"/><stop offset="0.755" stop-color="#00e2ff"/><stop offset="0.776" stop-color="#00ccff"/><stop offset="0.796" stop-color="#00abff"/><stop offset="0.816" stop-color="#0080ff"/><stop offset="0.837" stop-color="#005fff"/><stop offset="0.857" stop-color="#0049ff"/><stop offset="0.878" stop-color="#003eff"/><stop offset="0.898" stop-color="#003eff"/><stop offset="0.918" stop-color="#003eff"/><stop offset="0.939" stop-color="#003eff"/><stop offset="0.959" stop-color="#003eff"/><stop offset="0.98" stop-color="#003eff"/><stop offset="1" stop-color="#003eff"/></linearGradient><linearGradient id="gb46" gradientUnits="userSpaceOnUse" x1="829.7" y1="0" x2="1221.7" y2="0"><stop offset="0" stop-color="#0000de"/><stop offset="0.02" stop-color="#0000de"/><stop offset="0.041" stop-color="#0000de"/><stop offset="0.061" stop-color="#0000e9"/><stop offset="0.082" stop-color="#0000ff"/><stop offset="0.102" stop-color="#000bff"/><stop offset="0.122" stop-color="#000bff"/><stop offset="0.143" stop-color="#0018ff"/><stop offset="0.163" stop-color="#0031ff"/><stop offset="0.184" stop-color="#003eff"/><stop offset="0.204" stop-color="#003eff"/><stop offset="0.224" stop-color="#0031ff"/><stop offset="0.245" stop-color="#0018ff"/><stop offset="0.265" stop-color="#0018ff"/><stop offset="0.286" stop-color="#0031ff"/><stop offset="0.306" stop-color="#0049ff"/><stop offset="0.327" stop-color="#005fff"/><stop offset="0.347" stop-color="#006aff"/><stop offset="0.367" stop-color="#006aff"/><stop offset="0.388" stop-color="#005fff"/><stop offset="0.408" stop-color="#0049ff"/><stop offset="0.429" stop-color="#0026ff"/><stop offset="0.449" stop-color="#0000f6"/><stop offset="0.469" stop-color="#0000de"/><stop offset="0.49" stop-color="#0000de"/><stop offset="0.51" stop-color="#0000f6"/><stop offset="0.531" stop-color="#0026ff"/><stop offset="0.551" stop-color="#0054ff"/><stop offset="0.571" stop-color="#0080ff"/><stop offset="0.592" stop-color="#00abff"/><stop offset="0.612" stop-color="#00d7ff"/><stop offset="0.633" stop-color="#00fbff"/><stop offset="0.653" stop-color="#1affe5"/><stop offset="0.673" stop-color="#28ffd7"/><stop offset="0.694" stop-color="#28ffd7"/><stop offset="0.714" stop-color="#1affe5"/><stop offset="0.735" stop-color="#00fbff"/><stop offset="0.755" stop-color="#00e2ff"/><stop offset="0.776" stop-color="#00ccff"/><stop offset="0.796" stop-color="#00abff"/><stop offset="0.816" stop-color="#0080ff"/><stop offset="0.837" stop-color="#005fff"/><stop offset="0.857" stop-color="#0049ff"/><stop offset="0.878" stop-color="#003eff"/><stop offset="0.898" stop-color="#003eff"/><stop offset="0.918" stop-color="#003eff"/><stop offset="0.939" stop-color="#003eff"/><stop offset="0.959" stop-color="#003eff"/><stop offset="0.98" stop-color="#003eff"/><stop offset="1" stop-color="#003eff"/></linearGradient><linearGradient id="gb47" gradientUnits="userSpaceOnUse" x1="829.7" y1="0" x2="1221.7" y2="0"><stop offset="0" stop-color="#0000de"/><stop offset="0.02" stop-color="#0000de"/><stop offset="0.041" stop-color="#0000de"/><stop offset="0.061" stop-color="#0000e9"/><stop offset="0.082" stop-color="#0000ff"/><stop offset="0.102" stop-color="#000bff"/><stop offset="0.122" stop-color="#000bff"/><stop offset="0.143" stop-color="#0018ff"/><stop offset="0.163" stop-color="#0031ff"/><stop offset="0.184" stop-color="#003eff"/><stop offset="0.204" stop-color="#003eff"/><stop offset="0.224" stop-color="#0031ff"/><stop offset="0.245" stop-color="#0018ff"/><stop offset="0.265" stop-color="#0018ff"/><stop offset="0.286" stop-color="#0031ff"/><stop offset="0.306" stop-color="#0049ff"/><stop offset="0.327" stop-color="#005fff"/><stop offset="0.347" stop-color="#006aff"/><stop offset="0.367" stop-color="#006aff"/><stop offset="0.388" stop-color="#005fff"/><stop offset="0.408" stop-color="#0049ff"/><stop offset="0.429" stop-color="#0026ff"/><stop offset="0.449" stop-color="#0000f6"/><stop offset="0.469" stop-color="#0000de"/><stop offset="0.49" stop-color="#0000de"/><stop offset="0.51" stop-color="#0000f6"/><stop offset="0.531" stop-color="#0026ff"/><stop offset="0.551" stop-color="#0054ff"/><stop offset="0.571" stop-color="#0080ff"/><stop offset="0.592" stop-color="#00abff"/><stop offset="0.612" stop-color="#00d7ff"/><stop offset="0.633" stop-color="#00fbff"/><stop offset="0.653" stop-color="#1affe5"/><stop offset="0.673" stop-color="#28ffd7"/><stop offset="0.694" stop-color="#28ffd7"/><stop offset="0.714" stop-color="#1affe5"/><stop offset="0.735" stop-color="#00fbff"/><stop offset="0.755" stop-color="#00e2ff"/><stop offset="0.776" stop-color="#00ccff"/><stop offset="0.796" stop-color="#00abff"/><stop offset="0.816" stop-color="#0080ff"/><stop offset="0.837" stop-color="#005fff"/><stop offset="0.857" stop-color="#0049ff"/><stop offset="0.878" stop-color="#003eff"/><stop offset="0.898" stop-color="#003eff"/><stop offset="0.918" stop-color="#003eff"/><stop offset="0.939" stop-color="#003eff"/><stop offset="0.959" stop-color="#003eff"/><stop offset="0.98" stop-color="#003eff"/><stop offset="1" stop-color="#003eff"/></linearGradient><linearGradient id="gb48" gradientUnits="userSpaceOnUse" x1="829.7" y1="0" x2="1221.7" y2="0"><stop offset="0" stop-color="#0000de"/><stop offset="0.02" stop-color="#0000de"/><stop offset="0.041" stop-color="#0000de"/><stop offset="0.061" stop-color="#0000e9"/><stop offset="0.082" stop-color="#0000ff"/><stop offset="0.102" stop-color="#000bff"/><stop offset="0.122" stop-color="#000bff"/><stop offset="0.143" stop-color="#0018ff"/><stop offset="0.163" stop-color="#0031ff"/><stop offset="0.184" stop-color="#003eff"/><stop offset="0.204" stop-color="#003eff"/><stop offset="0.224" stop-color="#0031ff"/><stop offset="0.245" stop-color="#0018ff"/><stop offset="0.265" stop-color="#0018ff"/><stop offset="0.286" stop-color="#0031ff"/><stop offset="0.306" stop-color="#0049ff"/><stop offset="0.327" stop-color="#005fff"/><stop offset="0.347" stop-color="#006aff"/><stop offset="0.367" stop-color="#006aff"/><stop offset="0.388" stop-color="#005fff"/><stop offset="0.408" stop-color="#0049ff"/><stop offset="0.429" stop-color="#0026ff"/><stop offset="0.449" stop-color="#0000f6"/><stop offset="0.469" stop-color="#0000de"/><stop offset="0.49" stop-color="#0000de"/><stop offset="0.51" stop-color="#0000f6"/><stop offset="0.531" stop-color="#0026ff"/><stop offset="0.551" stop-color="#0054ff"/><stop offset="0.571" stop-color="#0080ff"/><stop offset="0.592" stop-color="#00abff"/><stop offset="0.612" stop-color="#00d7ff"/><stop offset="0.633" stop-color="#00fbff"/><stop offset="0.653" stop-color="#1affe5"/><stop offset="0.673" stop-color="#28ffd7"/><stop offset="0.694" stop-color="#28ffd7"/><stop offset="0.714" stop-color="#1affe5"/><stop offset="0.735" stop-color="#00fbff"/><stop offset="0.755" stop-color="#00e2ff"/><stop offset="0.776" stop-color="#00ccff"/><stop offset="0.796" stop-color="#00abff"/><stop offset="0.816" stop-color="#0080ff"/><stop offset="0.837" stop-color="#005fff"/><stop offset="0.857" stop-color="#0049ff"/><stop offset="0.878" stop-color="#003eff"/><stop offset="0.898" stop-color="#003eff"/><stop offset="0.918" stop-color="#003eff"/><stop offset="0.939" stop-color="#003eff"/><stop offset="0.959" stop-color="#003eff"/><stop offset="0.98" stop-color="#003eff"/><stop offset="1" stop-color="#003eff"/></linearGradient><linearGradient id="gb49" gradientUnits="userSpaceOnUse" x1="829.7" y1="0" x2="1221.7" y2="0"><stop offset="0" stop-color="#0000de"/><stop offset="0.02" stop-color="#0000de"/><stop offset="0.041" stop-color="#0000de"/><stop offset="0.061" stop-color="#0000e9"/><stop offset="0.082" stop-color="#0000ff"/><stop offset="0.102" stop-color="#000bff"/><stop offset="0.122" stop-color="#000bff"/><stop offset="0.143" stop-color="#0018ff"/><stop offset="0.163" stop-color="#0031ff"/><stop offset="0.184" stop-color="#003eff"/><stop offset="0.204" stop-color="#003eff"/><stop offset="0.224" stop-color="#0031ff"/><stop offset="0.245" stop-color="#0018ff"/><stop offset="0.265" stop-color="#0018ff"/><stop offset="0.286" stop-color="#0031ff"/><stop offset="0.306" stop-color="#0049ff"/><stop offset="0.327" stop-color="#005fff"/><stop offset="0.347" stop-color="#006aff"/><stop offset="0.367" stop-color="#006aff"/><stop offset="0.388" stop-color="#005fff"/><stop offset="0.408" stop-color="#0049ff"/><stop offset="0.429" stop-color="#0026ff"/><stop offset="0.449" stop-color="#0000f6"/><stop offset="0.469" stop-color="#0000de"/><stop offset="0.49" stop-color="#0000de"/><stop offset="0.51" stop-color="#0000f6"/><stop offset="0.531" stop-color="#0026ff"/><stop offset="0.551" stop-color="#0054ff"/><stop offset="0.571" stop-color="#0080ff"/><stop offset="0.592" stop-color="#00abff"/><stop offset="0.612" stop-color="#00d7ff"/><stop offset="0.633" stop-color="#00fbff"/><stop offset="0.653" stop-color="#1affe5"/><stop offset="0.673" stop-color="#28ffd7"/><stop offset="0.694" stop-color="#28ffd7"/><stop offset="0.714" stop-color="#1affe5"/><stop offset="0.735" stop-color="#00fbff"/><stop offset="0.755" stop-color="#00e2ff"/><stop offset="0.776" stop-color="#00ccff"/><stop offset="0.796" stop-color="#00abff"/><stop offset="0.816" stop-color="#0080ff"/><stop offset="0.837" stop-color="#005fff"/><stop offset="0.857" stop-color="#0049ff"/><stop offset="0.878" stop-color="#003eff"/><stop offset="0.898" stop-color="#003eff"/><stop offset="0.918" stop-color="#003eff"/><stop offset="0.939" stop-color="#003eff"/><stop offset="0.959" stop-color="#003eff"/><stop offset="0.98" stop-color="#003eff"/><stop offset="1" stop-color="#003eff"/></linearGradient></defs><g filter="url(#gb)"><rect x="793.7" y="-13.3" width="464.0" height="8.6" fill="url(#gb0)"/><rect x="793.7" y="-5.3" width="464.0" height="8.6" fill="url(#gb1)"/><rect x="793.7" y="2.7" width="464.0" height="8.6" fill="url(#gb2)"/><rect x="793.7" y="10.7" width="464.0" height="8.6" fill="url(#gb3)"/><rect x="793.7" y="18.7" width="464.0" height="8.6" fill="url(#gb4)"/><rect x="793.7" y="26.7" width="464.0" height="8.6" fill="url(#gb5)"/><rect x="793.7" y="34.7" width="464.0" height="8.6" fill="url(#gb6)"/><rect x="793.7" y="42.7" width="464.0" height="8.6" fill="url(#gb7)"/><rect x="793.7" y="50.7" width="464.0" height="8.6" fill="url(#gb8)"/><rect x="793.7" y="58.7" width="464.0" height="8.6" fill="url(#gb9)"/><rect x="793.7" y="66.7" width="464.0" height="8.6" fill="url(#gb10)"/><rect x="793.7" y="74.7" width="464.0" height="8.6" fill="url(#gb11)"/><rect x="793.7" y="82.7" width="464.0" height="8.6" fill="url(#gb12)"/><rect x="793.7" y="90.7" width="464.0" height="8.6" fill="url(#gb13)"/><rect x="793.7" y="98.7" width="464.0" height="8.6" fill="url(#gb14)"/><rect x="793.7" y="106.7" width="464.0" height="8.6" fill="url(#gb15)"/><rect x="793.7" y="114.7" width="464.0" height="8.6" fill="url(#gb16)"/><rect x="793.7" y="122.7" width="464.0" height="8.6" fill="url(#gb17)"/><rect x="793.7" y="130.7" width="464.0" height="8.6" fill="url(#gb18)"/><rect x="793.7" y="138.7" width="464.0" height="8.6" fill="url(#gb19)"/><rect x="793.7" y="146.7" width="464.0" height="8.6" fill="url(#gb20)"/><rect x="793.7" y="154.7" width="464.0" height="8.6" fill="url(#gb21)"/><rect x="793.7" y="162.7" width="464.0" height="8.6" fill="url(#gb22)"/><rect x="793.7" y="170.7" width="464.0" height="8.6" fill="url(#gb23)"/><rect x="793.7" y="178.7" width="464.0" height="8.6" fill="url(#gb24)"/><rect x="793.7" y="186.7" width="464.0" height="8.6" fill="url(#gb25)"/><rect x="793.7" y="194.7" width="464.0" height="8.6" fill="url(#gb26)"/><rect x="793.7" y="202.7" width="464.0" height="8.6" fill="url(#gb27)"/><rect x="793.7" y="210.7" width="464.0" height="8.6" fill="url(#gb28)"/><rect x="793.7" y="218.7" width="464.0" height="8.6" fill="url(#gb29)"/><rect x="793.7" y="226.7" width="464.0" height="8.6" fill="url(#gb30)"/><rect x="793.7" y="234.7" width="464.0" height="8.6" fill="url(#gb31)"/><rect x="793.7" y="242.7" width="464.0" height="8.6" fill="url(#gb32)"/><rect x="793.7" y="250.7" width="464.0" height="8.6" fill="url(#gb33)"/><rect x="793.7" y="258.7" width="464.0" height="8.6" fill="url(#gb34)"/><rect x="793.7" y="266.7" width="464.0" height="8.6" fill="url(#gb35)"/><rect x="793.7" y="274.7" width="464.0" height="8.6" fill="url(#gb36)"/><rect x="793.7" y="282.7" width="464.0" height="8.6" fill="url(#gb37)"/><rect x="793.7" y="290.7" width="464.0" height="8.6" fill="url(#gb38)"/><rect x="793.7" y="298.7" width="464.0" height="8.6" fill="url(#gb39)"/><rect x="793.7" y="306.7" width="464.0" height="8.6" fill="url(#gb40)"/><rect x="793.7" y="314.7" width="464.0" height="8.6" fill="url(#gb41)"/><rect x="793.7" y="322.7" width="464.0" height="8.6" fill="url(#gb42)"/><rect x="793.7" y="330.7" width="464.0" height="8.6" fill="url(#gb43)"/><rect x="793.7" y="338.7" width="464.0" height="8.6" fill="url(#gb44)"/><rect x="793.7" y="346.7" width="464.0" height="8.6" fill="url(#gb45)"/><rect x="793.7" y="354.7" width="464.0" height="8.6" fill="url(#gb46)"/><rect x="793.7" y="362.7" width="464.0" height="8.6" fill="url(#gb47)"/><rect x="793.7" y="370.7" width="464.0" height="8.6" fill="url(#gb48)"/><rect x="793.7" y="378.7" width="464.0" height="8.6" fill="url(#gb49)"/></g>
</g>
<g clip-path="url(#mb)"><line x1="957" y1="286" x2="979" y2="151" stroke="#000040" stroke-opacity="0.12" stroke-width="1.9"/><line x1="912" y1="270" x2="924" y2="209" stroke="#000040" stroke-opacity="0.08" stroke-width="2.7"/><line x1="993" y1="296" x2="1014" y2="207" stroke="#ffffff" stroke-opacity="0.09" stroke-width="2.4"/><line x1="1190" y1="312" x2="1193" y2="185" stroke="#000040" stroke-opacity="0.06" stroke-width="1.7"/><line x1="1038" y1="261" x2="1073" y2="113" stroke="#000040" stroke-opacity="0.12" stroke-width="1.6"/><line x1="884" y1="348" x2="919" y2="201" stroke="#ffffff" stroke-opacity="0.11" stroke-width="1.9"/><line x1="1188" y1="332" x2="1194" y2="244" stroke="#000040" stroke-opacity="0.07" stroke-width="1.9"/><line x1="1165" y1="268" x2="1174" y2="169" stroke="#ffffff" stroke-opacity="0.09" stroke-width="1.9"/><line x1="883" y1="322" x2="905" y2="101" stroke="#ffffff" stroke-opacity="0.09" stroke-width="2.6"/><line x1="850" y1="262" x2="886" y2="94" stroke="#000040" stroke-opacity="0.09" stroke-width="1.8"/><line x1="999" y1="293" x2="1029" y2="114" stroke="#ffffff" stroke-opacity="0.08" stroke-width="1.2"/><line x1="1076" y1="274" x2="1088" y2="76" stroke="#3a8000" stroke-opacity="0.08" stroke-width="1.5"/><line x1="1020" y1="263" x2="1029" y2="125" stroke="#ffffff" stroke-opacity="0.08" stroke-width="2.1"/><line x1="851" y1="258" x2="885" y2="66" stroke="#000040" stroke-opacity="0.09" stroke-width="1.3"/><line x1="1032" y1="345" x2="1042" y2="261" stroke="#000040" stroke-opacity="0.12" stroke-width="2.5"/><line x1="1153" y1="348" x2="1158" y2="200" stroke="#000040" stroke-opacity="0.11" stroke-width="1.5"/><line x1="1142" y1="257" x2="1154" y2="133" stroke="#000040" stroke-opacity="0.06" stroke-width="2.8"/><line x1="942" y1="264" x2="974" y2="114" stroke="#000040" stroke-opacity="0.06" stroke-width="1.7"/><line x1="1032" y1="254" x2="1043" y2="161" stroke="#ffffff" stroke-opacity="0.12" stroke-width="2.4"/><line x1="1184" y1="328" x2="1187" y2="248" stroke="#000040" stroke-opacity="0.09" stroke-width="1.8"/><line x1="1175" y1="308" x2="1190" y2="89" stroke="#ffffff" stroke-opacity="0.12" stroke-width="2.3"/><line x1="989" y1="276" x2="1039" y2="38" stroke="#000040" stroke-opacity="0.08" stroke-width="2.6"/><line x1="1007" y1="324" x2="1013" y2="256" stroke="#000040" stroke-opacity="0.07" stroke-width="2.4"/><line x1="1219" y1="316" x2="1227" y2="200" stroke="#ffffff" stroke-opacity="0.05" stroke-width="1.5"/><line x1="1075" y1="301" x2="1087" y2="80" stroke="#ffffff" stroke-opacity="0.07" stroke-width="2.4"/><line x1="844" y1="285" x2="848" y2="206" stroke="#ffffff" stroke-opacity="0.07" stroke-width="2.3"/><line x1="1065" y1="312" x2="1070" y2="167" stroke="#ffffff" stroke-opacity="0.12" stroke-width="1.6"/><line x1="893" y1="314" x2="908" y2="97" stroke="#000040" stroke-opacity="0.08" stroke-width="1.7"/><line x1="839" y1="306" x2="862" y2="183" stroke="#000040" stroke-opacity="0.08" stroke-width="2.9"/><line x1="1121" y1="340" x2="1124" y2="272" stroke="#3a8000" stroke-opacity="0.08" stroke-width="1.6"/><line x1="858" y1="251" x2="891" y2="92" stroke="#000040" stroke-opacity="0.06" stroke-width="1.6"/><line x1="1072" y1="314" x2="1085" y2="108" stroke="#ffffff" stroke-opacity="0.07" stroke-width="1.7"/><line x1="854" y1="328" x2="897" y2="140" stroke="#ffffff" stroke-opacity="0.11" stroke-width="2.5"/><line x1="1016" y1="295" x2="1036" y2="195" stroke="#ffffff" stroke-opacity="0.07" stroke-width="1.3"/><line x1="966" y1="320" x2="1008" y2="107" stroke="#000040" stroke-opacity="0.07" stroke-width="2.2"/><line x1="1005" y1="302" x2="1027" y2="195" stroke="#000040" stroke-opacity="0.12" stroke-width="1.6"/><line x1="1178" y1="276" x2="1180" y2="174" stroke="#000040" stroke-opacity="0.12" stroke-width="2.5"/><line x1="962" y1="283" x2="986" y2="180" stroke="#000040" stroke-opacity="0.09" stroke-width="2.4"/><line x1="1094" y1="297" x2="1115" y2="86" stroke="#3a8000" stroke-opacity="0.11" stroke-width="2.0"/><line x1="1118" y1="281" x2="1124" y2="183" stroke="#3a8000" stroke-opacity="0.06" stroke-width="2.8"/><line x1="891" y1="261" x2="904" y2="33" stroke="#ffffff" stroke-opacity="0.06" stroke-width="1.3"/><line x1="851" y1="313" x2="886" y2="128" stroke="#000040" stroke-opacity="0.05" stroke-width="2.3"/><line x1="977" y1="332" x2="1024" y2="112" stroke="#ffffff" stroke-opacity="0.11" stroke-width="2.8"/><line x1="1203" y1="271" x2="1206" y2="190" stroke="#ffffff" stroke-opacity="0.11" stroke-width="2.7"/><line x1="1082" y1="313" x2="1092" y2="201" stroke="#ffffff" stroke-opacity="0.06" stroke-width="2.6"/><line x1="915" y1="292" x2="922" y2="229" stroke="#ffffff" stroke-opacity="0.07" stroke-width="2.5"/><line x1="979" y1="346" x2="996" y2="196" stroke="#000040" stroke-opacity="0.09" stroke-width="1.3"/><line x1="996" y1="327" x2="1013" y2="205" stroke="#000040" stroke-opacity="0.09" stroke-width="1.6"/><line x1="1171" y1="332" x2="1174" y2="241" stroke="#ffffff" stroke-opacity="0.06" stroke-width="2.6"/><line x1="1216" y1="299" x2="1219" y2="151" stroke="#000040" stroke-opacity="0.06" stroke-width="2.1"/><line x1="970" y1="276" x2="1020" y2="46" stroke="#ffffff" stroke-opacity="0.07" stroke-width="2.5"/><line x1="1029" y1="314" x2="1035" y2="239" stroke="#000040" stroke-opacity="0.10" stroke-width="2.6"/><line x1="1080" y1="290" x2="1086" y2="159" stroke="#3a8000" stroke-opacity="0.06" stroke-width="2.8"/><line x1="845" y1="276" x2="865" y2="54" stroke="#000040" stroke-opacity="0.08" stroke-width="2.8"/><line x1="926" y1="303" x2="954" y2="107" stroke="#000040" stroke-opacity="0.10" stroke-width="1.8"/><line x1="962" y1="334" x2="977" y2="155" stroke="#000040" stroke-opacity="0.06" stroke-width="2.0"/><line x1="1137" y1="263" x2="1146" y2="119" stroke="#000040" stroke-opacity="0.07" stroke-width="1.5"/><line x1="953" y1="334" x2="969" y2="247" stroke="#ffffff" stroke-opacity="0.07" stroke-width="1.8"/><line x1="1039" y1="283" x2="1046" y2="189" stroke="#000040" stroke-opacity="0.10" stroke-width="1.4"/><line x1="1210" y1="288" x2="1217" y2="51" stroke="#000040" stroke-opacity="0.10" stroke-width="2.0"/><line x1="912" y1="261" x2="929" y2="164" stroke="#ffffff" stroke-opacity="0.05" stroke-width="1.9"/><line x1="1143" y1="300" x2="1157" y2="126" stroke="#ffffff" stroke-opacity="0.06" stroke-width="2.3"/><line x1="993" y1="341" x2="1020" y2="203" stroke="#000040" stroke-opacity="0.10" stroke-width="2.0"/><line x1="924" y1="338" x2="963" y2="139" stroke="#000040" stroke-opacity="0.11" stroke-width="2.4"/><line x1="1085" y1="281" x2="1095" y2="108" stroke="#ffffff" stroke-opacity="0.08" stroke-width="2.6"/><line x1="1113" y1="275" x2="1123" y2="139" stroke="#ffffff" stroke-opacity="0.09" stroke-width="1.9"/><line x1="1098" y1="268" x2="1115" y2="90" stroke="#3a8000" stroke-opacity="0.08" stroke-width="2.1"/><line x1="1215" y1="304" x2="1217" y2="215" stroke="#000040" stroke-opacity="0.12" stroke-width="2.1"/><line x1="874" y1="304" x2="906" y2="115" stroke="#000040" stroke-opacity="0.09" stroke-width="2.7"/><line x1="1038" y1="345" x2="1051" y2="247" stroke="#000040" stroke-opacity="0.08" stroke-width="2.6"/><line x1="883" y1="286" x2="900" y2="215" stroke="#ffffff" stroke-opacity="0.08" stroke-width="1.2"/><line x1="998" y1="320" x2="1015" y2="196" stroke="#ffffff" stroke-opacity="0.07" stroke-width="2.5"/><line x1="1202" y1="272" x2="1214" y2="68" stroke="#ffffff" stroke-opacity="0.06" stroke-width="1.4"/><line x1="1138" y1="313" x2="1150" y2="169" stroke="#000040" stroke-opacity="0.07" stroke-width="2.9"/><line x1="973" y1="332" x2="1010" y2="125" stroke="#ffffff" stroke-opacity="0.07" stroke-width="2.2"/><line x1="884" y1="285" x2="930" y2="72" stroke="#ffffff" stroke-opacity="0.08" stroke-width="1.7"/><line x1="1001" y1="250" x2="1018" y2="60" stroke="#ffffff" stroke-opacity="0.07" stroke-width="1.7"/><line x1="1022" y1="314" x2="1046" y2="135" stroke="#ffffff" stroke-opacity="0.12" stroke-width="2.7"/><line x1="857" y1="341" x2="901" y2="139" stroke="#ffffff" stroke-opacity="0.11" stroke-width="2.3"/><line x1="841" y1="345" x2="850" y2="167" stroke="#ffffff" stroke-opacity="0.06" stroke-width="1.5"/><line x1="926" y1="285" x2="944" y2="197" stroke="#000040" stroke-opacity="0.11" stroke-width="1.5"/><line x1="1183" y1="328" x2="1195" y2="148" stroke="#000040" stroke-opacity="0.11" stroke-width="2.7"/><line x1="912" y1="303" x2="948" y2="110" stroke="#ffffff" stroke-opacity="0.11" stroke-width="2.2"/><line x1="938" y1="264" x2="953" y2="115" stroke="#ffffff" stroke-opacity="0.08" stroke-width="1.5"/><line x1="1027" y1="304" x2="1059" y2="89" stroke="#ffffff" stroke-opacity="0.11" stroke-width="2.0"/><line x1="1054" y1="334" x2="1078" y2="207" stroke="#ffffff" stroke-opacity="0.12" stroke-width="1.3"/><line x1="1083" y1="253" x2="1095" y2="83" stroke="#3a8000" stroke-opacity="0.12" stroke-width="1.8"/><line x1="1218" y1="298" x2="1231" y2="77" stroke="#ffffff" stroke-opacity="0.10" stroke-width="2.3"/><line x1="967" y1="287" x2="999" y2="141" stroke="#000040" stroke-opacity="0.10" stroke-width="1.6"/><line x1="1005" y1="305" x2="1033" y2="97" stroke="#ffffff" stroke-opacity="0.11" stroke-width="1.9"/><line x1="1031" y1="301" x2="1056" y2="65" stroke="#000040" stroke-opacity="0.11" stroke-width="1.8"/><line x1="959" y1="309" x2="978" y2="134" stroke="#000040" stroke-opacity="0.05" stroke-width="2.5"/><line x1="1180" y1="255" x2="1188" y2="141" stroke="#ffffff" stroke-opacity="0.06" stroke-width="2.9"/><line x1="1072" y1="329" x2="1089" y2="105" stroke="#3a8000" stroke-opacity="0.09" stroke-width="2.3"/><line x1="1107" y1="318" x2="1113" y2="220" stroke="#3a8000" stroke-opacity="0.08" stroke-width="2.6"/><line x1="875" y1="254" x2="892" y2="54" stroke="#000040" stroke-opacity="0.10" stroke-width="1.9"/><line x1="1156" y1="306" x2="1165" y2="200" stroke="#ffffff" stroke-opacity="0.08" stroke-width="1.8"/><line x1="1003" y1="343" x2="1015" y2="274" stroke="#000040" stroke-opacity="0.05" stroke-width="1.4"/><line x1="1151" y1="342" x2="1160" y2="201" stroke="#ffffff" stroke-opacity="0.08" stroke-width="2.3"/><line x1="1201" y1="298" x2="1214" y2="163" stroke="#ffffff" stroke-opacity="0.10" stroke-width="1.6"/><line x1="894" y1="250" x2="904" y2="67" stroke="#ffffff" stroke-opacity="0.12" stroke-width="1.4"/><line x1="1174" y1="252" x2="1180" y2="62" stroke="#ffffff" stroke-opacity="0.10" stroke-width="1.5"/><line x1="855" y1="321" x2="898" y2="107" stroke="#000040" stroke-opacity="0.06" stroke-width="2.3"/><line x1="1112" y1="343" x2="1118" y2="238" stroke="#3a8000" stroke-opacity="0.10" stroke-width="1.2"/><line x1="841" y1="332" x2="854" y2="257" stroke="#ffffff" stroke-opacity="0.10" stroke-width="1.5"/><line x1="1171" y1="256" x2="1178" y2="130" stroke="#000040" stroke-opacity="0.08" stroke-width="2.4"/><line x1="892" y1="286" x2="928" y2="110" stroke="#000040" stroke-opacity="0.08" stroke-width="1.9"/><line x1="1142" y1="328" x2="1157" y2="166" stroke="#ffffff" stroke-opacity="0.05" stroke-width="3.0"/><line x1="1109" y1="283" x2="1124" y2="114" stroke="#3a8000" stroke-opacity="0.11" stroke-width="2.3"/><line x1="955" y1="339" x2="973" y2="211" stroke="#000040" stroke-opacity="0.09" stroke-width="2.8"/><line x1="1150" y1="250" x2="1154" y2="143" stroke="#ffffff" stroke-opacity="0.09" stroke-width="2.7"/><line x1="1181" y1="333" x2="1186" y2="127" stroke="#000040" stroke-opacity="0.09" stroke-width="1.7"/><line x1="1167" y1="318" x2="1186" y2="94" stroke="#ffffff" stroke-opacity="0.06" stroke-width="2.2"/><line x1="1146" y1="325" x2="1154" y2="97" stroke="#ffffff" stroke-opacity="0.09" stroke-width="2.4"/><line x1="1016" y1="275" x2="1034" y2="80" stroke="#000040" stroke-opacity="0.08" stroke-width="1.4"/><line x1="1150" y1="273" x2="1163" y2="109" stroke="#000040" stroke-opacity="0.11" stroke-width="2.1"/><line x1="1021" y1="269" x2="1037" y2="174" stroke="#ffffff" stroke-opacity="0.10" stroke-width="1.9"/><line x1="1055" y1="302" x2="1066" y2="215" stroke="#ffffff" stroke-opacity="0.12" stroke-width="1.9"/><line x1="876" y1="329" x2="892" y2="241" stroke="#000040" stroke-opacity="0.07" stroke-width="2.1"/><line x1="843" y1="349" x2="855" y2="133" stroke="#ffffff" stroke-opacity="0.09" stroke-width="1.7"/><line x1="1139" y1="345" x2="1150" y2="147" stroke="#000040" stroke-opacity="0.12" stroke-width="1.7"/><line x1="850" y1="268" x2="857" y2="193" stroke="#ffffff" stroke-opacity="0.09" stroke-width="2.8"/><line x1="1014" y1="341" x2="1031" y2="269" stroke="#000040" stroke-opacity="0.08" stroke-width="1.4"/><line x1="1209" y1="306" x2="1216" y2="131" stroke="#000040" stroke-opacity="0.10" stroke-width="1.9"/><line x1="1010" y1="347" x2="1029" y2="108" stroke="#ffffff" stroke-opacity="0.05" stroke-width="1.7"/><line x1="972" y1="340" x2="1021" y2="130" stroke="#ffffff" stroke-opacity="0.11" stroke-width="2.5"/><line x1="1087" y1="256" x2="1096" y2="170" stroke="#3a8000" stroke-opacity="0.12" stroke-width="2.4"/><line x1="952" y1="326" x2="965" y2="247" stroke="#ffffff" stroke-opacity="0.07" stroke-width="1.4"/><line x1="1023" y1="274" x2="1030" y2="188" stroke="#000040" stroke-opacity="0.05" stroke-width="2.5"/><line x1="911" y1="343" x2="917" y2="243" stroke="#000040" stroke-opacity="0.11" stroke-width="2.8"/><line x1="890" y1="260" x2="921" y2="33" stroke="#000040" stroke-opacity="0.09" stroke-width="2.0"/><line x1="968" y1="298" x2="1005" y2="125" stroke="#ffffff" stroke-opacity="0.07" stroke-width="1.3"/><line x1="1113" y1="264" x2="1127" y2="48" stroke="#ffffff" stroke-opacity="0.08" stroke-width="1.5"/><line x1="941" y1="283" x2="960" y2="193" stroke="#ffffff" stroke-opacity="0.07" stroke-width="2.8"/><line x1="880" y1="256" x2="934" y2="35" stroke="#000040" stroke-opacity="0.06" stroke-width="2.1"/><line x1="947" y1="270" x2="959" y2="145" stroke="#000040" stroke-opacity="0.12" stroke-width="2.9"/><line x1="873" y1="340" x2="881" y2="269" stroke="#000040" stroke-opacity="0.07" stroke-width="3.0"/><line x1="841" y1="284" x2="859" y2="199" stroke="#ffffff" stroke-opacity="0.11" stroke-width="2.1"/><line x1="907" y1="341" x2="921" y2="242" stroke="#000040" stroke-opacity="0.06" stroke-width="1.5"/><line x1="1135" y1="270" x2="1141" y2="195" stroke="#ffffff" stroke-opacity="0.09" stroke-width="2.1"/><line x1="942" y1="311" x2="959" y2="124" stroke="#000040" stroke-opacity="0.09" stroke-width="1.6"/><line x1="861" y1="291" x2="898" y2="101" stroke="#ffffff" stroke-opacity="0.11" stroke-width="1.8"/><line x1="1163" y1="299" x2="1169" y2="237" stroke="#000040" stroke-opacity="0.08" stroke-width="2.8"/><line x1="939" y1="333" x2="950" y2="207" stroke="#ffffff" stroke-opacity="0.08" stroke-width="2.3"/><line x1="837" y1="295" x2="860" y2="142" stroke="#ffffff" stroke-opacity="0.10" stroke-width="2.7"/><line x1="1173" y1="321" x2="1178" y2="192" stroke="#000040" stroke-opacity="0.05" stroke-width="2.8"/><line x1="1207" y1="301" x2="1216" y2="146" stroke="#000040" stroke-opacity="0.05" stroke-width="2.9"/><line x1="922" y1="260" x2="931" y2="155" stroke="#000040" stroke-opacity="0.05" stroke-width="1.4"/><line x1="1108" y1="252" x2="1114" y2="84" stroke="#3a8000" stroke-opacity="0.09" stroke-width="2.5"/><line x1="875" y1="322" x2="890" y2="254" stroke="#ffffff" stroke-opacity="0.08" stroke-width="2.1"/><line x1="944" y1="291" x2="950" y2="206" stroke="#000040" stroke-opacity="0.11" stroke-width="1.5"/><line x1="1058" y1="266" x2="1100" y2="58" stroke="#3a8000" stroke-opacity="0.08" stroke-width="2.0"/><line x1="1162" y1="290" x2="1177" y2="60" stroke="#000040" stroke-opacity="0.07" stroke-width="1.6"/><line x1="966" y1="348" x2="994" y2="143" stroke="#000040" stroke-opacity="0.11" stroke-width="2.7"/><line x1="856" y1="346" x2="891" y2="118" stroke="#ffffff" stroke-opacity="0.08" stroke-width="2.3"/><line x1="977" y1="257" x2="999" y2="119" stroke="#000040" stroke-opacity="0.05" stroke-width="1.5"/><line x1="1213" y1="344" x2="1227" y2="170" stroke="#000040" stroke-opacity="0.11" stroke-width="2.8"/><line x1="848" y1="277" x2="881" y2="94" stroke="#ffffff" stroke-opacity="0.09" stroke-width="2.9"/><line x1="1077" y1="302" x2="1083" y2="164" stroke="#3a8000" stroke-opacity="0.07" stroke-width="1.7"/><line x1="1088" y1="309" x2="1094" y2="77" stroke="#3a8000" stroke-opacity="0.07" stroke-width="2.0"/></g>
<g clip-path="url(#mb)" mask="url(#nmb)" opacity="0.25"><rect x="825" y="18" width="392" height="331" filter="url(#nzw)"/><rect x="825" y="18" width="392" height="331" filter="url(#nzd)"/></g>
<g clip-path="url(#mb)"><g filter="url(#b2)">
<polygon points="1072.0,122.0 1094.0,122.0 1100.0,155.0 1104.0,212.0 1104.0,250.0 1103.0,300.0 1103.0,330.0 1088.0,330.0 1085.0,290.0 1079.0,250.0 1075.0,212.0 1071.0,155.0" fill="#e5ff1a" opacity="0.7"/>
<polygon points="936.0,276.0 962.0,276.0 950.0,346.0 926.0,346.0" fill="#000095" opacity="0.8"/>
<polygon points="1021.0,292.0 1034.0,292.0 1031.0,346.0 1019.0,346.0" fill="#00009d" opacity="0.75"/>
<polygon points="838.0,290.0 868.0,290.0 866.0,346.0 838.0,346.0" fill="#0000ab" opacity="0.6"/>
<polygon points="913.0,276.0 926.0,276.0 916.0,344.0 904.0,344.0" fill="#0087ff" opacity="0.6"/>
<polygon points="968.0,276.0 1016.0,276.0 1014.0,292.0 968.0,292.0" fill="#00deff" opacity="0.55"/>
</g><g filter="url(#b1)">
<polygon points="1087.0,205.0 1095.0,205.0 1097.0,230.0 1099.0,268.0 1092.0,268.0 1089.0,230.0" fill="#ffde00"/>
<polygon points="1092.5,284.0 1099.0,284.0 1099.5,326.0 1093.0,326.0" fill="#ff8700"/>
</g></g>
<path d="M878.3,253.3 L881,251.9 L886.7,254.7 L895.1,259.6 L899.3,263.1 L902.9,265.2 L905,270.1 L906.4,275.7 L907.8,280 L907.1,285.6 L902.2,289.1 L896.5,289.8 L890.2,290.5 L888.8,285.6 L888.1,281.4 L884.6,278.6 L881,281.4 L876.9,278.6 L876.2,275.7 L878.3,272.9 L876.9,270.1 L876.9,264.5 L875.5,260.3 L876.2,256 Z" fill="#fff"/><ellipse cx="889" cy="270" rx="2" ry="4.5" transform="rotate(25 889 270)" fill="#0000c8"/>
<path d="M950,285 L949,280 L953,276 L955,274 L957,278 L961,279 L961,284 L955,286 Z" fill="#fff"/>
<ellipse cx="872.4" cy="251.5" rx="2.4" ry="6" fill="#fff"/>
<text x="866.2" y="260" style="font-family:'Liberation Serif',serif;font-size:27px;fill:#000;stroke:#000;stroke-width:0.6">0<tspan style="fill:#00007a;stroke:none">°</tspan>C</text>
<line x1="853.4" y1="271.3" x2="863" y2="271.3" stroke="#000" stroke-width="2.8"/>
<line x1="875.2" y1="271.3" x2="878.5" y2="271.3" stroke="#000" stroke-width="2.8"/>
<line x1="907.8" y1="271.3" x2="1216" y2="271.3" stroke="#000" stroke-width="2.8" stroke-dasharray="11 10.8"/>
<line x1="1157.6" y1="300" x2="1216" y2="292.5" stroke="#003eff" stroke-width="3" stroke-dasharray="9.5 6.5 1.8 6.5"/>
</g>
<rect x="77.3" y="18.9" width="390.7" height="329.4" fill="none" stroke="#4a4a4a" stroke-width="1.3"/>
<line x1="77.3" y1="348.3" x2="77.3" y2="344.8" stroke="#4a4a4a" stroke-width="1.1"/>
<line x1="77.3" y1="18.9" x2="77.3" y2="22.4" stroke="#4a4a4a" stroke-width="1.1"/>
<text x="77.3" y="376.0" text-anchor="middle" font-size="23">-60</text>
<line x1="175.0" y1="348.3" x2="175.0" y2="344.8" stroke="#4a4a4a" stroke-width="1.1"/>
<line x1="175.0" y1="18.9" x2="175.0" y2="22.4" stroke="#4a4a4a" stroke-width="1.1"/>
<text x="175.0" y="376.0" text-anchor="middle" font-size="23">-40</text>
<line x1="272.6" y1="348.3" x2="272.6" y2="344.8" stroke="#4a4a4a" stroke-width="1.1"/>
<line x1="272.6" y1="18.9" x2="272.6" y2="22.4" stroke="#4a4a4a" stroke-width="1.1"/>
<text x="272.6" y="376.0" text-anchor="middle" font-size="23">-20</text>
<line x1="370.3" y1="348.3" x2="370.3" y2="344.8" stroke="#4a4a4a" stroke-width="1.1"/>
<line x1="370.3" y1="18.9" x2="370.3" y2="22.4" stroke="#4a4a4a" stroke-width="1.1"/>
<text x="370.3" y="376.0" text-anchor="middle" font-size="23">0</text>
<line x1="468.0" y1="348.3" x2="468.0" y2="344.8" stroke="#4a4a4a" stroke-width="1.1"/>
<line x1="468.0" y1="18.9" x2="468.0" y2="22.4" stroke="#4a4a4a" stroke-width="1.1"/>
<text x="468.0" y="376.0" text-anchor="middle" font-size="23">20</text>
<line x1="77.3" y1="18.9" x2="80.8" y2="18.9" stroke="#4a4a4a" stroke-width="1.1"/>
<line x1="468.0" y1="18.9" x2="464.5" y2="18.9" stroke="#4a4a4a" stroke-width="1.1"/>
<text x="72.3" y="29.2" text-anchor="end" font-size="23">20</text>
<line x1="77.3" y1="101.2" x2="80.8" y2="101.2" stroke="#4a4a4a" stroke-width="1.1"/>
<line x1="468.0" y1="101.2" x2="464.5" y2="101.2" stroke="#4a4a4a" stroke-width="1.1"/>
<text x="72.3" y="111.5" text-anchor="end" font-size="23">0</text>
<line x1="77.3" y1="183.6" x2="80.8" y2="183.6" stroke="#4a4a4a" stroke-width="1.1"/>
<line x1="468.0" y1="183.6" x2="464.5" y2="183.6" stroke="#4a4a4a" stroke-width="1.1"/>
<text x="72.3" y="193.9" text-anchor="end" font-size="23">-20</text>
<line x1="77.3" y1="265.9" x2="80.8" y2="265.9" stroke="#4a4a4a" stroke-width="1.1"/>
<line x1="468.0" y1="265.9" x2="464.5" y2="265.9" stroke="#4a4a4a" stroke-width="1.1"/>
<text x="72.3" y="276.2" text-anchor="end" font-size="23">-40</text>
<line x1="77.3" y1="348.3" x2="80.8" y2="348.3" stroke="#4a4a4a" stroke-width="1.1"/>
<line x1="468.0" y1="348.3" x2="464.5" y2="348.3" stroke="#4a4a4a" stroke-width="1.1"/>
<text x="72.3" y="358.6" text-anchor="end" font-size="23">-60</text>
<text x="272.6" y="406.7" text-anchor="middle" font-size="25.4">Distance (km)</text>
<text x="0" y="0" text-anchor="middle" font-size="25.4" transform="translate(30.5 183.6) rotate(-90)">Distance (km)</text>
<text x="87.5" y="59.0" font-size="28.5" style="fill:#000">(a)PPI at 18:53 LST</text>
<rect x="473.6" y="18.9" width="30.6" height="329.4" fill="url(#jet)" stroke="#4a4a4a" stroke-width="1.3"/>
<line x1="504.2" y1="324.8" x2="501.2" y2="324.8" stroke="#4a4a4a" stroke-width="1.1"/>
<text x="513.2" y="334.6" font-size="23">0</text>
<line x1="504.2" y1="277.7" x2="501.2" y2="277.7" stroke="#4a4a4a" stroke-width="1.1"/>
<text x="513.2" y="287.5" font-size="23">10</text>
<line x1="504.2" y1="230.7" x2="501.2" y2="230.7" stroke="#4a4a4a" stroke-width="1.1"/>
<text x="513.2" y="240.5" font-size="23">20</text>
<line x1="504.2" y1="183.6" x2="501.2" y2="183.6" stroke="#4a4a4a" stroke-width="1.1"/>
<text x="513.2" y="193.4" font-size="23">30</text>
<line x1="504.2" y1="136.5" x2="501.2" y2="136.5" stroke="#4a4a4a" stroke-width="1.1"/>
<text x="513.2" y="146.3" font-size="23">40</text>
<line x1="504.2" y1="89.5" x2="501.2" y2="89.5" stroke="#4a4a4a" stroke-width="1.1"/>
<text x="513.2" y="99.3" font-size="23">50</text>
<line x1="504.2" y1="42.4" x2="501.2" y2="42.4" stroke="#4a4a4a" stroke-width="1.1"/>
<text x="513.2" y="52.2" font-size="23">60</text>
<text x="0" y="0" font-size="23.5" transform="translate(569.0 229.2) rotate(-90)">Z<tspan font-size="17.5" dy="10.5">H</tspan><tspan dy="-10.5"> (dBZ)</tspan></text>
<rect x="825.5" y="18.9" width="390.5" height="329.4" fill="none" stroke="#4a4a4a" stroke-width="1.3"/>
<line x1="825.5" y1="348.3" x2="825.5" y2="344.8" stroke="#4a4a4a" stroke-width="1.1"/>
<line x1="825.5" y1="18.9" x2="825.5" y2="22.4" stroke="#4a4a4a" stroke-width="1.1"/>
<text x="825.5" y="376.0" text-anchor="middle" font-size="23">0</text>
<line x1="903.6" y1="348.3" x2="903.6" y2="344.8" stroke="#4a4a4a" stroke-width="1.1"/>
<line x1="903.6" y1="18.9" x2="903.6" y2="22.4" stroke="#4a4a4a" stroke-width="1.1"/>
<text x="903.6" y="376.0" text-anchor="middle" font-size="23">10</text>
<line x1="981.7" y1="348.3" x2="981.7" y2="344.8" stroke="#4a4a4a" stroke-width="1.1"/>
<line x1="981.7" y1="18.9" x2="981.7" y2="22.4" stroke="#4a4a4a" stroke-width="1.1"/>
<text x="981.7" y="376.0" text-anchor="middle" font-size="23">20</text>
<line x1="1059.8" y1="348.3" x2="1059.8" y2="344.8" stroke="#4a4a4a" stroke-width="1.1"/>
<line x1="1059.8" y1="18.9" x2="1059.8" y2="22.4" stroke="#4a4a4a" stroke-width="1.1"/>
<text x="1059.8" y="376.0" text-anchor="middle" font-size="23">30</text>
<line x1="1137.9" y1="348.3" x2="1137.9" y2="344.8" stroke="#4a4a4a" stroke-width="1.1"/>
<line x1="1137.9" y1="18.9" x2="1137.9" y2="22.4" stroke="#4a4a4a" stroke-width="1.1"/>
<text x="1137.9" y="376.0" text-anchor="middle" font-size="23">40</text>
<line x1="1216.0" y1="348.3" x2="1216.0" y2="344.8" stroke="#4a4a4a" stroke-width="1.1"/>
<line x1="1216.0" y1="18.9" x2="1216.0" y2="22.4" stroke="#4a4a4a" stroke-width="1.1"/>
<text x="1216.0" y="376.0" text-anchor="middle" font-size="23">50</text>
<line x1="825.5" y1="348.3" x2="829.0" y2="348.3" stroke="#4a4a4a" stroke-width="1.1"/>
<line x1="1216.0" y1="348.3" x2="1212.5" y2="348.3" stroke="#4a4a4a" stroke-width="1.1"/>
<text x="820.5" y="358.6" text-anchor="end" font-size="23">0</text>
<line x1="825.5" y1="238.5" x2="829.0" y2="238.5" stroke="#4a4a4a" stroke-width="1.1"/>
<line x1="1216.0" y1="238.5" x2="1212.5" y2="238.5" stroke="#4a4a4a" stroke-width="1.1"/>
<text x="820.5" y="248.8" text-anchor="end" font-size="23">5</text>
<line x1="825.5" y1="128.7" x2="829.0" y2="128.7" stroke="#4a4a4a" stroke-width="1.1"/>
<line x1="1216.0" y1="128.7" x2="1212.5" y2="128.7" stroke="#4a4a4a" stroke-width="1.1"/>
<text x="820.5" y="139.0" text-anchor="end" font-size="23">10</text>
<line x1="825.5" y1="18.9" x2="829.0" y2="18.9" stroke="#4a4a4a" stroke-width="1.1"/>
<line x1="1216.0" y1="18.9" x2="1212.5" y2="18.9" stroke="#4a4a4a" stroke-width="1.1"/>
<text x="820.5" y="29.2" text-anchor="end" font-size="23">15</text>
<text x="1020.8" y="406.7" text-anchor="middle" font-size="25.4">Distance (km)</text>
<text x="0" y="0" text-anchor="middle" font-size="25.4" transform="translate(786.5 183.6) rotate(-90)">Height (km)</text>
<text x="833.5" y="62.8" font-size="28.5" style="fill:#000">(b)RHI at 18:55</text>
<rect x="1221.8" y="18.9" width="30.2" height="329.4" fill="url(#jet)" stroke="#4a4a4a" stroke-width="1.3"/>
<line x1="1252.0" y1="324.8" x2="1249.0" y2="324.8" stroke="#4a4a4a" stroke-width="1.1"/>
<text x="1261.0" y="334.6" font-size="23">0</text>
<line x1="1252.0" y1="277.7" x2="1249.0" y2="277.7" stroke="#4a4a4a" stroke-width="1.1"/>
<text x="1261.0" y="287.5" font-size="23">10</text>
<line x1="1252.0" y1="230.7" x2="1249.0" y2="230.7" stroke="#4a4a4a" stroke-width="1.1"/>
<text x="1261.0" y="240.5" font-size="23">20</text>
<line x1="1252.0" y1="183.6" x2="1249.0" y2="183.6" stroke="#4a4a4a" stroke-width="1.1"/>
<text x="1261.0" y="193.4" font-size="23">30</text>
<line x1="1252.0" y1="136.5" x2="1249.0" y2="136.5" stroke="#4a4a4a" stroke-width="1.1"/>
<text x="1261.0" y="146.3" font-size="23">40</text>
<line x1="1252.0" y1="89.5" x2="1249.0" y2="89.5" stroke="#4a4a4a" stroke-width="1.1"/>
<text x="1261.0" y="99.3" font-size="23">50</text>
<line x1="1252.0" y1="42.4" x2="1249.0" y2="42.4" stroke="#4a4a4a" stroke-width="1.1"/>
<text x="1261.0" y="52.2" font-size="23">60</text>
<text x="0" y="0" font-size="23.5" transform="translate(1316.8 229.2) rotate(-90)">Z<tspan font-size="17.5" dy="10.5">H</tspan><tspan dy="-10.5"> (dBZ)</tspan></text>
</svg></body></html>
